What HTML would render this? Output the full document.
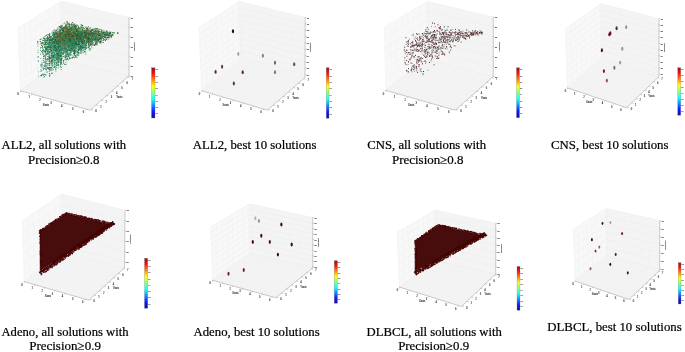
<!DOCTYPE html><html><head><meta charset="utf-8"><title>Figure</title><style>html,body{margin:0;padding:0;background:#fff}svg{display:block}</style></head><body><svg width="685" height="352" viewBox="0 0 685 352"><defs><linearGradient id="jet" x1="0" y1="0" x2="0" y2="1"><stop offset="0" stop-color="#800000"/><stop offset="0.12" stop-color="#ff0000"/><stop offset="0.37" stop-color="#ffff00"/><stop offset="0.5" stop-color="#80ff80"/><stop offset="0.63" stop-color="#00ffff"/><stop offset="0.88" stop-color="#0000ff"/><stop offset="1" stop-color="#000080"/></linearGradient><filter id="bl" x="-5%" y="-5%" width="110%" height="110%"><feGaussianBlur stdDeviation="0.45"/></filter><filter id="bt" x="-5%" y="-5%" width="110%" height="110%"><feGaussianBlur stdDeviation="0.3"/></filter></defs><rect width="685" height="352" fill="#fff"/><g filter="url(#bl)"><g><polygon points="17.6,28.3 61.3,1.2 61.49,59.64 20,90.8" fill="#f8f8f8"/><polygon points="61.3,1.2 129,17.5 129,75.8 61.49,59.64" fill="#f4f4f4"/><polygon points="20,90.8 61.49,59.64 129,75.8 90.1,110.2" fill="#f3f3f3"/><path d="M17.6 28.3L61.3 1.2M61.3 1.2L129 17.5M18 38.72L61.33 10.94M61.33 10.94L129 27.22M18.4 49.13L61.36 20.68M61.36 20.68L129 36.93M18.8 59.55L61.4 30.42M61.4 30.42L129 46.65M19.2 69.97L61.43 40.16M61.43 40.16L129 56.37M19.6 80.38L61.46 49.9M61.46 49.9L129 66.08M20 90.8L61.49 59.64M61.49 59.64L129 75.8" stroke="#ebebeb" stroke-width="0.45" fill="none"/><path d="M20.83 90.18L18.47 27.76M20.83 90.18L90.88 109.51M26.43 85.97L24.37 24.1M26.43 85.97L96.13 104.87M32.03 81.76L30.27 20.44M32.03 81.76L101.38 100.22M37.63 77.56L36.17 16.78M37.63 77.56L106.63 95.58M43.23 73.35L42.07 13.12M43.23 73.35L111.88 90.94M48.84 69.14L47.97 9.47M48.84 69.14L117.14 86.29M54.44 64.94L53.87 5.81M54.44 64.94L122.39 81.65M60.04 60.73L59.77 2.15M60.04 60.73L127.64 77M62.84 59.96L62.65 1.53M21.4 91.19L62.84 59.96M73.3 62.47L73.15 4.05M32.27 94.19L73.3 62.47M83.77 64.97L83.64 6.58M43.13 97.2L83.77 64.97M94.23 67.48L94.13 9.11M54 100.21L94.23 67.48M104.7 69.98L104.63 11.63M64.86 103.22L104.7 69.98M115.16 72.49L115.12 14.16M75.73 106.22L115.16 72.49M125.62 74.99L125.61 16.68M86.59 109.23L125.62 74.99" stroke="#efefef" stroke-width="0.4" fill="none"/><path d="M61.49 59.64L61.3 1.2M61.49 59.64L20 90.8M61.49 59.64L129 75.8" stroke="#ececec" stroke-width="0.5" fill="none"/><path d="M20 90.8L90.1 110.2M90.1 110.2L129 75.8M129 75.8L129 17.5" stroke="#909090" stroke-width="0.45" fill="none"/><path d="M21.4 91.19L20.16 92.12M32.27 94.19L31.04 95.15M43.13 97.2L41.91 98.17M54 100.21L52.79 101.19M64.86 103.22L63.67 104.21M75.73 106.22L74.55 107.24M86.59 109.23L85.42 110.26M90.88 109.51L92.98 110.09M96.13 104.87L98.22 105.43M101.38 100.22L103.46 100.78M106.63 95.58L108.7 96.12M111.88 90.94L113.94 91.46M117.14 86.29L119.18 86.81M122.39 81.65L124.43 82.15M127.64 77L129.67 77.49M129 17.5L130.3 17.75M129 27.22L130.3 27.47M129 36.93L130.3 37.18M129 46.65L130.3 46.9M129 56.37L130.3 56.62M129 66.08L130.3 66.33M129 75.8L130.3 76.05" stroke="#888" stroke-width="0.4" fill="none"/><g font-size="2.6" fill="#3a3a3a" stroke="#3a3a3a" stroke-width="0.11" font-family="Liberation Sans, sans-serif"><text x="17.49" y="95.13">0</text><text x="28.39" y="98.17">1</text><text x="39.29" y="101.22">2</text><text x="50.18" y="104.26">3</text><text x="61.08" y="107.31">4</text><text x="71.97" y="110.35">5</text><text x="82.87" y="113.4">6</text><text x="42.8" y="106.45">Xaxis</text><text x="95.13" y="112.27">0</text><text x="100.36" y="107.6">1</text><text x="105.59" y="102.92">2</text><text x="110.82" y="98.25">3</text><text x="116.05" y="93.58">4</text><text x="121.27" y="88.91">5</text><text x="126.5" y="84.23">6</text><text x="131.73" y="79.56">7</text><text x="116.34" y="98.16">Yaxis</text></g><g font-size="2.0" fill="#444" stroke="#444" stroke-width="0.1" font-family="Liberation Sans, sans-serif"><text x="130.7" y="18.7">90</text><text x="130.7" y="28.42">89</text><text x="130.7" y="38.13">88</text><text x="130.7" y="47.85">87</text><text x="130.7" y="57.57">86</text><text x="130.7" y="67.28">85</text><text x="130.7" y="77">84</text></g><text transform="translate(135.3 46.65) rotate(-90)" font-size="2.3" fill="#555" stroke="#555" stroke-width="0.08" font-family="Liberation Sans, sans-serif" text-anchor="middle">Precision</text><path d="M60.96 35.13h0.92M76.98 29.44h0.92M64.29 43.37h0.92M55.94 45.06h0.92M50.92 39.81h0.92M78.92 52.88h0.92M45.99 42.16h0.92M77.24 31.38h0.92M86.46 32.45h0.92M83.88 34.37h0.92M65.86 45.3h0.92M65.89 47.37h0.92M57.33 37.15h0.92M64.84 34.71h0.92M73.5 45.11h0.92M97.84 34.66h0.92M72.82 42.81h0.92M61.37 29.4h0.92M83.78 36.22h0.92M110.65 36.31h0.92M55.18 46.28h0.92M57.71 48.34h0.92M57.15 36.78h0.92M66.68 50.46h0.92M91.76 39.62h0.92M59.21 33.48h0.92M57.95 36.73h0.92M60.37 50.89h0.92M91.58 35.4h0.92M82.6 31.98h0.92M88.79 28.7h0.92M70.06 34.02h0.92M77.3 34.4h0.92M55.79 39.15h0.92M60.27 64.09h0.92M94.9 42.16h0.92M45.21 53.66h0.92M48.06 47.21h0.92M68.21 31.92h0.92M65.93 54.05h0.92M56.04 47.12h0.92M78.48 49.4h0.92M50.13 45.67h0.92M79.55 38.82h0.92M73.95 43.6h0.92M67.27 37.12h0.92M68.22 36.01h0.92M90.28 36.86h0.92M91.71 41.89h0.92M55.52 53.95h0.92M78.41 45.42h0.92M69.48 35.26h0.92M49.91 37.21h0.92M57.53 34.22h0.92M80.49 46.85h0.92M50.41 47.17h0.92M82.53 46.3h0.92M55.92 44.77h0.92M71.37 39.71h0.92M42.93 68.74h0.92M46.1 42.14h0.92M102.97 36.57h0.92M66.02 38.82h0.92M62.31 37.76h0.92M111.05 35.58h0.92M89.34 38.97h0.92M72.27 35.86h0.92M81.89 39.34h0.92M74.35 33.09h0.92M72.24 42.26h0.92M48.71 37.34h0.92M86.72 37.48h0.92M59.48 36.59h0.92M92.8 36.8h0.92M104.59 36.96h0.92M73.78 37.96h0.92M100.09 37.84h0.92M78.21 54.31h0.92M92.52 44.98h0.92M97.36 30.79h0.92M58.94 52.5h0.92M44.55 64.34h0.92M80.23 35.95h0.92M71.46 46.73h0.92M74.68 38.12h0.92M95.43 41.59h0.92M97.03 38.9h0.92M73.15 40.61h0.92M69.86 45.28h0.92M63.5 40.18h0.92M71.01 37.58h0.92M59.94 35.49h0.92M59.35 44.65h0.92M88.75 43.19h0.92M85.91 43.12h0.92M67.23 38.96h0.92M91.55 41.71h0.92M52.69 50.78h0.92M60.69 63.18h0.92M73.74 42.7h0.92M90.23 38.83h0.92M53.82 62.4h0.92M86.46 34.23h0.92M77.72 37.05h0.92M73.42 28.11h0.92M68.36 48.11h0.92M74.39 41.18h0.92M48.53 39.16h0.92M83.37 37.67h0.92M74.61 39.33h0.92M52.8 58.3h0.92M92.14 37.88h0.92M67.25 47.66h0.92M70.34 32.76h0.92M60.66 59.28h0.92M67.91 31.22h0.92M58.71 55.25h0.92M58.5 53.42h0.92M60.58 46.29h0.92M69.66 41.88h0.92M67.74 42.76h0.92M78.76 28.78h0.92M78.31 27.41h0.92M46.16 46.8h0.92M53.72 55.07h0.92M98.95 33.31h0.92M70.59 48.79h0.92M87.86 35.73h0.92M96.31 38.54h0.92M52.65 34.28h0.92M60.49 44.11h0.92M69.96 48.03h0.92M68.82 57.27h0.92M58.42 26.94h0.92M89.5 39.1h0.92M67.03 22.66h0.92M63.95 34.16h0.92M80.24 41.6h0.92M68.29 47.32h0.92M71.14 30.41h0.92M48.32 40.08h0.92M77.65 38.9h0.92M56.95 38.01h0.92M97.98 32.09h0.92M55.13 47.02h0.92M73.79 34.13h0.92M87.86 34.55h0.92M100.33 40.85h0.92M84.51 37.18h0.92M50.3 49.99h0.92M76.09 44.48h0.92M69.5 28.46h0.92M66.85 31.78h0.92M54.69 30.75h0.92M69.92 41.75h0.92M73.24 51.05h0.92M74.96 40.58h0.92M83.33 36.3h0.92M80.61 53.23h0.92M76.42 34.79h0.92M87.62 37.21h0.92M69.82 35.26h0.92M47.04 38.81h0.92M54.05 54.48h0.92M97.95 32.21h0.92M40.83 38.96h0.92M85.42 44.13h0.92M98.79 31.49h0.92M60.09 64.3h0.92M60.95 36.15h0.92M63.01 60.77h0.92M64.16 40.73h0.92M76.1 43.34h0.92M49.66 51.71h0.92M56.68 43.68h0.92M60.75 42.74h0.92M53.74 41.93h0.92M88.36 29.75h0.92M62.48 47.71h0.92M63.97 41.59h0.92M52.59 49.94h0.92M65.95 47.96h0.92M78.92 28.49h0.92M77.98 33.81h0.92M79.1 40.57h0.92M106.01 35.38h0.92M49.91 49.18h0.92M67.03 41.76h0.92M87.39 38.57h0.92M75.45 27.81h0.92M67.14 30.87h0.92M73.43 47.98h0.92M98.33 35.39h0.92M81.7 33.44h0.92M96.79 34.73h0.92M100.62 33.69h0.92M76.05 34.47h0.92M90.86 29.64h0.92M67.02 30.74h0.92M103.94 35.65h0.92M58.97 44.6h0.92M63.72 39.13h0.92M53.72 42.09h0.92M83.41 33.31h0.92M63.62 27.66h0.92M68.25 34.68h0.92M56.71 61.5h0.92M66.59 31.5h0.92M63.39 41.47h0.92M48.48 46.27h0.92M109.79 33.16h0.92M63.62 31.7h0.92M56.53 60.15h0.92M77.62 44.1h0.92M51.3 40.59h0.92M66.95 38.9h0.92M81.05 39.81h0.92M83.79 38.66h0.92M57.6 56.16h0.92M59.38 34.47h0.92M77.7 37.85h0.92M67.16 36.49h0.92M73.81 54.65h0.92M76.8 33.94h0.92M56.64 47.4h0.92M90.14 42.17h0.92M76.22 31.81h0.92M83.19 31.35h0.92M85.31 34.28h0.92M83.64 30.74h0.92M50.28 58.25h0.92M65.68 41.94h0.92M88.67 39.96h0.92M58.99 56.55h0.92M74.34 40.55h0.92M64.4 40.73h0.92M60.38 48.64h0.92M88.94 34.7h0.92M66.38 39.33h0.92M87.28 38.62h0.92M88.47 31.9h0.92M91.78 33.87h0.92M82.38 43.58h0.92M72.7 32.06h0.92M64.91 57.58h0.92M51.5 60.97h0.92M52.38 35.51h0.92M90.68 37.24h0.92M70.16 51.38h0.92M81.34 45.84h0.92M67.91 35.22h0.92M71.29 44.35h0.92M101.64 35.93h0.92M66.94 50.79h0.92M106.38 33.26h0.92M74.25 43.25h0.92M87.27 42.7h0.92M54.04 35h0.92M67.09 26.57h0.92M78.15 44.47h0.92M44.64 44.01h0.92M65.26 49.24h0.92M65.48 50.99h0.92M67.79 40.66h0.92M73.36 51.16h0.92M77.16 39h0.92M87.81 47.5h0.92M75.94 49.04h0.92" stroke="#3a8c56" stroke-width="0.92" fill="none"/><path d="M59.18 42.36h0.92M54.21 50.91h0.92M66.67 39.09h0.92M66.48 37.67h0.92M62.96 45.34h0.92M71.76 38.95h0.92M80.65 31.95h0.92M71.74 49.37h0.92M112.23 34.77h0.92M93.61 36.46h0.92M60.52 61.01h0.92M60.89 26.56h0.92M69.8 40.47h0.92M77.4 41.1h0.92M45.53 65.52h0.92M86.39 28.21h0.92M78.48 32.17h0.92M80.6 46.68h0.92M68.2 36.74h0.92M64.04 49.84h0.92M51.14 45.99h0.92M64.84 25.98h0.92M92.52 39.16h0.92M74.29 51.3h0.92M60.94 39.51h0.92M61.69 35.13h0.92M71.89 43.75h0.92M81.24 33.09h0.92M91.15 32.37h0.92M49.54 47.76h0.92M68.09 42.93h0.92M63.56 48.16h0.92M63.64 32.58h0.92M69.81 29.92h0.92M67.43 36.37h0.92M43.53 44.52h0.92M55.16 40.36h0.92M48.27 50.76h0.92M47.33 53.46h0.92M54.1 39.75h0.92M77.12 37.1h0.92M81.08 39.91h0.92M59.42 36.55h0.92M71.69 39.66h0.92M47.52 51.19h0.92M76.79 34.9h0.92M58.93 53.91h0.92M91.25 38.34h0.92M109.77 33.08h0.92M70.86 41.34h0.92M55.25 31.33h0.92M99.72 36.94h0.92M113.44 32.81h0.92M55.05 34h0.92M51.04 45.97h0.92M78.13 42.11h0.92M83.8 34.42h0.92M43.67 55.33h0.92M64.96 40.49h0.92M70.45 42.55h0.92M56.16 46.55h0.92M65.71 34.35h0.92M77.54 49.16h0.92M74.92 49.58h0.92M68.22 35.33h0.92M72.6 51.02h0.92M80.95 37.81h0.92M78.93 44.23h0.92M55.33 33.26h0.92M71.42 36.65h0.92M67.82 53.69h0.92M77.33 36.29h0.92M63.41 28.6h0.92M60.41 52.53h0.92M76.77 33.86h0.92M79.52 33.32h0.92M57.88 45.06h0.92M50.23 61.28h0.92M79.56 33.53h0.92M60.7 58.95h0.92M77.47 50.04h0.92M53.43 41.43h0.92M59.44 26.51h0.92M89.86 39.41h0.92M69.72 50.18h0.92M69.49 49.59h0.92M76.61 46.14h0.92M72.13 49.96h0.92M106.06 32.94h0.92M64.65 35.99h0.92M84.97 31.13h0.92M71.77 48.57h0.92M66.73 35.72h0.92M54.07 50.24h0.92M69.6 39.13h0.92M85.73 37.18h0.92M90.64 31.79h0.92M62.92 45.11h0.92M75.62 38.53h0.92M46.99 36.7h0.92M44.71 46.24h0.92M82.6 30.41h0.92M53.62 56.26h0.92M79.26 34.75h0.92M67.72 49.97h0.92M51.83 39.01h0.92M73.7 47.62h0.92M73.07 40.59h0.92M43.44 38.67h0.92M53 38.06h0.92M73.97 31.3h0.92M79.95 37.74h0.92M95.32 32.49h0.92M83.3 43.63h0.92M83.89 36.52h0.92M49.62 36.63h0.92M65.76 38.51h0.92M102.77 40.53h0.92M49.66 38.73h0.92M69.47 49.29h0.92M109.16 31.81h0.92M83.04 37.02h0.92M48.72 71.57h0.92M72.22 41.81h0.92M65.44 47.16h0.92M65.94 36.25h0.92M82.14 34.06h0.92M70.24 40.96h0.92M58.3 67.89h0.92M75.05 34.58h0.92M76.7 44.85h0.92M65.91 25.05h0.92M65.55 34.46h0.92M77.17 38.21h0.92M71.92 36.54h0.92M77.65 39.63h0.92M73.44 40.07h0.92M93.18 36.53h0.92M79.86 40.51h0.92M63.63 35.65h0.92M96.98 38.81h0.92M42.33 52.64h0.92M83.65 31.99h0.92M59.17 55.46h0.92M65.6 48.01h0.92M107.25 35.79h0.92M91.77 36.54h0.92M63.1 42.06h0.92M70.85 26.65h0.92M73.31 47.12h0.92M68.52 40.8h0.92M61.6 50.51h0.92M71.27 25.35h0.92M53.47 50.06h0.92M69.34 41.04h0.92M71.88 50.75h0.92M47.98 67.9h0.92M59.98 39.06h0.92M69.77 45.25h0.92M60.7 36.67h0.92M55.92 36.59h0.92M63.39 39.21h0.92M95.93 35.71h0.92M73.26 49.24h0.92M67.84 37.78h0.92M74.04 33.24h0.92M57.73 48.35h0.92M80.08 40.58h0.92M56.62 38.64h0.92M73.99 52.75h0.92M99.86 41.7h0.92M51.81 56.73h0.92M53.66 45.56h0.92M92.43 38.91h0.92M109.69 33.2h0.92M77.31 41.34h0.92M94.03 44.99h0.92M74.21 57.56h0.92M61.66 40.99h0.92M40.06 50.25h0.92M88.25 42.32h0.92M100.83 34.73h0.92M100.22 35.45h0.92M66.17 47.43h0.92M76.61 37.55h0.92M80.52 49.02h0.92M64.43 38.3h0.92M83.01 42.13h0.92M79.37 36.01h0.92M75.81 50.94h0.92M66.46 54.58h0.92M56.6 56.98h0.92M72.33 24.64h0.92M70.26 44.77h0.92M60.04 45.11h0.92M59.32 32.58h0.92M85.25 32.95h0.92M63.44 34.21h0.92M60.64 55.5h0.92M82.01 47.94h0.92M60.1 37.24h0.92M54.45 42.93h0.92M71.28 30.48h0.92M101.16 39.08h0.92M104.03 37.63h0.92M65.11 40.43h0.92M75.88 36.77h0.92M86.11 42.48h0.92M48.59 48.25h0.92M71.35 44.49h0.92M78.37 28.25h0.92M80.58 33.98h0.92M82.28 33.42h0.92M82.83 42.06h0.92M75.12 39.99h0.92M57.63 40.51h0.92M52.21 41.62h0.92M56.38 44.94h0.92M89.65 48.47h0.92M59.11 31.05h0.92M106.38 31.16h0.92M76.63 37.02h0.92M69.54 43.86h0.92M65.5 28.12h0.92M65.1 47.96h0.92M62.44 49.15h0.92M70.64 25.33h0.92M94.61 39.51h0.92M101.17 38.02h0.92M92.55 40.6h0.92M83.77 36.98h0.92M73.99 35.15h0.92M65.72 49.63h0.92M70.25 40.44h0.92M42.21 50.94h0.92M62 38.72h0.92M48.11 44.34h0.92M54.23 41.24h0.92M63.93 43.52h0.92M66.15 51.43h0.92M98.29 32.34h0.92M93.01 31.84h0.92M71.49 42.48h0.92M56.65 41.53h0.92M78.62 36.63h0.92M93.08 36.36h0.92M37.65 52.63h0.92M57.53 46.82h0.92M83.2 45.91h0.92M79.3 32.67h0.92M52.88 67.72h0.92M68.92 28.02h0.92M88.09 46.83h0.92M81.17 35.92h0.92M61.52 46.97h0.92M75.66 24.86h0.92M65.16 45.2h0.92M59.59 36.52h0.92M65.04 51.54h0.92M93.87 36.23h0.92M75.89 41.98h0.92M68.53 28.56h0.92M72.45 41.08h0.92M60.33 32.51h0.92M42.69 74.11h0.92M98.4 37.24h0.92M104.64 34.52h0.92M106.52 39.68h0.92M63.61 30.33h0.92M65.06 48.52h0.92" stroke="#3a8a6a" stroke-width="0.92" fill="none"/><path d="M98.95 39.57h0.92M65.67 40.12h0.92M60.61 60.94h0.92M64.17 28.24h0.92M55.39 47.71h0.92M76.25 43.52h0.92M89.23 38.1h0.92M57.67 32.76h0.92M94.99 43.97h0.92M63.14 39.65h0.92M70.36 32.62h0.92M50.44 43.07h0.92M84.55 42.78h0.92M66.45 36.49h0.92M100.57 37.02h0.92M53.31 59.28h0.92M72.15 39.5h0.92M77.42 36h0.92M68.37 46.76h0.92M55.3 33.33h0.92M56.56 42.91h0.92M65.16 40.01h0.92M71.3 43.94h0.92M64.56 31.89h0.92M85.08 32.92h0.92M55.63 62.49h0.92M103.6 34.73h0.92M81.58 26.94h0.92M59.15 58.76h0.92M66.54 39.88h0.92M68 34.92h0.92M96.87 34.03h0.92M80.57 51.03h0.92M77.57 36.16h0.92M86.54 28.52h0.92M83.38 33.08h0.92M65.56 36.39h0.92M66.58 32.92h0.92M69.45 47.42h0.92M72.67 42.83h0.92M95.55 29.31h0.92M99.71 37.65h0.92M77.37 31.06h0.92M77.37 41.18h0.92M80 46.85h0.92M62.75 32.46h0.92M84.63 31.79h0.92M76.43 27.93h0.92M79.94 42.9h0.92M49.31 68.62h0.92M56.31 41.94h0.92M74.03 30.23h0.92M61.12 32.63h0.92M74.14 37.14h0.92M64.61 42.93h0.92M92.21 30.44h0.92M91.67 35.43h0.92M60.52 50.62h0.92M112.22 32.67h0.92M80.72 40.82h0.92M65.62 33.1h0.92M109.21 34.01h0.92M99.91 33.42h0.92M52.66 56.9h0.92M66.47 35.51h0.92M79.04 37.36h0.92M72.61 40.5h0.92M56.85 59.21h0.92M70.54 27.95h0.92M47.13 47.33h0.92M56.44 43.28h0.92M62.51 40.37h0.92M62.84 29.24h0.92M63.03 62.99h0.92M76.75 36.73h0.92M101.09 41.98h0.92M62.94 41.24h0.92M88.34 33.05h0.92M53.5 39.14h0.92M61.1 47.88h0.92M58.38 36.69h0.92M60.19 50.1h0.92M85.67 33.17h0.92M73.26 34.23h0.92M102.53 33.36h0.92M51.55 73.23h0.92M101.7 37.99h0.92M75.25 48.26h0.92M90.21 42.23h0.92M44.5 68.49h0.92M58.28 44.14h0.92M81.19 35.09h0.92M86.74 36.3h0.92M55.65 44.35h0.92M82.52 37.27h0.92M93.13 31.98h0.92M59.01 38.33h0.92M110.58 34.3h0.92M73.07 38.61h0.92M72.86 57.37h0.92M77.2 39.01h0.92M74.41 29.28h0.92M75.53 36.89h0.92M98.03 32.97h0.92M65.56 43.18h0.92M94.38 36.63h0.92M78.74 43.63h0.92M70.28 38.48h0.92M75.7 30.57h0.92M58.7 30.15h0.92M49.17 33.62h0.92M81.08 38.85h0.92M95.79 33.69h0.92M88.25 35.51h0.92M69.89 52.11h0.92M53.55 43.01h0.92M89.27 39.6h0.92M69.48 41.53h0.92M75.09 41.98h0.92M51.76 59.65h0.92M60.5 60.2h0.92M76.52 35.36h0.92M66.46 40.01h0.92M51.28 60.58h0.92M95.63 37.88h0.92M80.69 41.91h0.92M87.29 39.77h0.92M68.4 37.16h0.92M42.59 67.81h0.92M75.31 56.68h0.92M78.19 44.04h0.92M49.49 38.97h0.92M59.87 29.34h0.92M54.23 32.1h0.92M76.54 44.52h0.92M67.44 34.3h0.92M84.94 49.39h0.92M59.38 42.28h0.92M62.29 40.99h0.92M73.41 33.08h0.92M67.32 38.09h0.92M57.35 39.46h0.92M67 44.66h0.92M69.47 38.97h0.92M62.36 53.49h0.92M73.03 47.17h0.92M105.81 39.28h0.92M45.31 66.34h0.92M66.24 33.62h0.92M61.98 39.61h0.92M98.31 35.34h0.92M47.06 59.35h0.92M72.22 27.89h0.92M57.91 44.9h0.92M60.09 60.02h0.92M74.84 55.59h0.92M50.58 69.97h0.92M51.67 54.89h0.92M79.41 38.4h0.92M68.63 38.92h0.92M66.43 59.5h0.92M90.19 35.16h0.92M79.39 28.88h0.92M60.23 30.68h0.92M64.18 39.64h0.92M57.98 49.92h0.92M80.62 34.61h0.92M52.29 57.02h0.92M61.44 46.91h0.92M100.16 38.68h0.92M62.9 40.76h0.92M70.47 33.15h0.92M65.55 28.53h0.92M56.36 40.17h0.92M56.59 53.9h0.92M63.55 39.26h0.92M75.16 38.08h0.92M63.57 27.34h0.92M65.13 56.86h0.92M59.15 38.24h0.92M61.8 26.02h0.92M88.53 37.84h0.92M83.41 36.33h0.92M67.48 39.51h0.92M61.5 56.31h0.92M70.05 39.58h0.92M60.31 30.56h0.92M76.61 30.48h0.92M82.15 32.87h0.92M57.92 48.49h0.92M81.99 39.77h0.92M69.91 50.41h0.92M71.82 49.72h0.92M103.72 32.37h0.92M86.14 42.17h0.92M74.23 39.41h0.92M90.07 40.24h0.92M103.91 37.51h0.92M75.21 44.85h0.92M65.9 30.3h0.92M70.52 27.32h0.92M74.96 26.43h0.92M60.02 31.16h0.92M88.77 33.06h0.92M59.67 27.63h0.92M55.23 69.16h0.92M75.83 42.66h0.92M100.59 29.92h0.92M65.51 42.76h0.92M85.45 43.98h0.92M99.72 36.68h0.92M84.24 30.93h0.92M45.51 67.71h0.92M105.99 34.76h0.92M66.43 38.72h0.92M49.49 37.23h0.92M70.95 28.43h0.92M59.84 47.37h0.92M56.7 55.53h0.92M71.74 42.6h0.92M70.78 34.27h0.92M94.87 44.77h0.92M52.67 39.04h0.92M80.37 37.69h0.92M81.96 42.28h0.92M45.05 40.77h0.92M62.3 31.06h0.92M75.3 33.96h0.92M58.38 36.85h0.92M67.87 43.19h0.92M78.1 26.26h0.92M76.67 44.4h0.92M68.01 31.88h0.92M53.69 43.95h0.92M52.84 45h0.92M75.61 42.38h0.92M90.65 37.69h0.92" stroke="#1a5535" stroke-width="0.92" fill="none"/><path d="M58.51 54.75h0.92M83.89 47.66h0.92M46.94 68h0.92M66.7 37.87h0.92M48.96 63.46h0.92M79.34 30.86h0.92M108.46 34.65h0.92M60.29 34.48h0.92M77.42 39.19h0.92M54.09 44.59h0.92M68.83 45.72h0.92M51.67 52.54h0.92M63.12 43.55h0.92M70.82 39.81h0.92M65.23 31.38h0.92M65.44 39.1h0.92M63.94 35.54h0.92M58.22 52.52h0.92M59.17 49.48h0.92M68.24 55.84h0.92M53.16 47.71h0.92M76.37 38.9h0.92M53.95 60.5h0.92M60.53 44.54h0.92M56.5 50.32h0.92M58.16 57.93h0.92M81.14 46.87h0.92M76.64 55.02h0.92M81.38 37.58h0.92M63.89 55.94h0.92M82.38 43.61h0.92M66.81 48.49h0.92M70.21 35.65h0.92M70.71 35.65h0.92M54.32 44.16h0.92M73.98 37.9h0.92M65.73 36.15h0.92M43.89 39.01h0.92M41.06 51.68h0.92M65.75 56.46h0.92M56.86 55.93h0.92M59.61 34.49h0.92M76.27 37.96h0.92M60.58 63.09h0.92M49.71 49.2h0.92M81.4 50.18h0.92M51.28 42.27h0.92M73.72 40.42h0.92M63.11 50.73h0.92M63.13 39.4h0.92M60.41 51.89h0.92M51.94 45.62h0.92M46.27 54.1h0.92M92.63 39.79h0.92M80.42 43.97h0.92M55.58 57.83h0.92M48.71 59.22h0.92M64.71 45.5h0.92M80.14 48.87h0.92M68.4 38.55h0.92M65.01 45.36h0.92M65.47 64.31h0.92M74.05 43.43h0.92M71.55 48.75h0.92M67.12 52.93h0.92M45.24 49.29h0.92M53.34 56.88h0.92M48.38 53.09h0.92M50.85 43.88h0.92M75.92 45.11h0.92M62.08 43.85h0.92M65.55 40.51h0.92M73.18 46.88h0.92M71.3 38.07h0.92M59.13 52.8h0.92M91.55 33.61h0.92M69.52 40.95h0.92M65.36 36.05h0.92M65.36 56.54h0.92M59.52 40.18h0.92M71.2 54.65h0.92M80.72 48.13h0.92M55.78 49.82h0.92M54.27 39.97h0.92M69.29 54.39h0.92M72.21 43.98h0.92M58.3 54.23h0.92M90.85 31.51h0.92M51.06 54.09h0.92M76.14 42.6h0.92M66.2 45.3h0.92M50.26 58.49h0.92M99.83 36.48h0.92M80.65 41.85h0.92M61.39 49.81h0.92M55.8 64.88h0.92M86.36 37.61h0.92M76.61 33h0.92M63.1 36.37h0.92M60.48 47.05h0.92M94.42 34.34h0.92M76.77 50.98h0.92M52.54 34.42h0.92M56.66 49.06h0.92M79.94 47.92h0.92M56.91 57.21h0.92M50.67 55.4h0.92M88.49 31.71h0.92M55.93 55.99h0.92M51.37 62.8h0.92M73.21 51.33h0.92M91.14 46.21h0.92M50.68 44.67h0.92M104.15 32.04h0.92M66.58 42.18h0.92M58.3 51.54h0.92M46.59 68.04h0.92M65 40.15h0.92M84.95 47.05h0.92M81.33 44.58h0.92M67.65 42.84h0.92M70.56 36.66h0.92M65.62 43.03h0.92M58.15 56.2h0.92M56.35 49.98h0.92M85.47 31h0.92M70.69 35.36h0.92M61.54 56.19h0.92M48.4 44.54h0.92M49.15 57.96h0.92M59.22 58.73h0.92M58.3 56.72h0.92M63.04 45.02h0.92M80.86 35.3h0.92M51.45 54.93h0.92M50.19 61.22h0.92M43.26 77.18h0.92M62.35 50.32h0.92M58.01 53.82h0.92M79.14 46.77h0.92M56.81 42.64h0.92M66.72 42.51h0.92M60.3 56.2h0.92M91.19 37.54h0.92M83.09 41.37h0.92M57.08 41.53h0.92M66 43.43h0.92M67.21 46.21h0.92M63.95 39.09h0.92M73.29 38.86h0.92M47.83 59.53h0.92M50.5 40.58h0.92M51.74 70.33h0.92M66.44 59.75h0.92M82.53 42.31h0.92M64.65 51.42h0.92M60.35 56.93h0.92M76.48 37.71h0.92M40.49 69.35h0.92M74.51 41.71h0.92M67.21 43.06h0.92M72.49 39.34h0.92M60.95 39.52h0.92M50.02 46.86h0.92M57.84 50.19h0.92M50.77 61.53h0.92M68.15 55.16h0.92M73.79 46.1h0.92M67.68 41.52h0.92M77.92 34.31h0.92M51.21 39.98h0.92M62.36 46.17h0.92M47.35 51.76h0.92M46.34 59.42h0.92M58.45 42.1h0.92M49.53 39.41h0.92M43.33 56.64h0.92" stroke="#349878" stroke-width="0.92" fill="none"/><path d="M99.64 42.78h0.92M101.3 33.9h0.92M62.63 41.95h0.92M78.91 40.48h0.92M104.98 40.19h0.92M88.74 42.83h0.92M65.92 29.41h0.92M96.44 38.72h0.92M55.07 43.21h0.92M103.08 36.54h0.92M95 37.49h0.92M58.53 43.83h0.92M47.98 68.44h0.92M78.6 44.7h0.92M74.07 44.87h0.92M56.39 30.48h0.92M74.29 42.26h0.92M40.08 47.91h0.92M61.6 32.85h0.92M64.45 30.97h0.92M64.31 39.37h0.92M51.32 56.41h0.92M91.18 38.48h0.92M68.25 42.03h0.92M46 49.1h0.92M75.61 28.73h0.92M78.77 33.22h0.92M74.81 26.12h0.92M57.81 41.25h0.92M71.16 45.11h0.92M80.85 31.19h0.92M94.58 32.07h0.92M88.89 37.04h0.92M107.25 35.46h0.92M108.73 37.87h0.92M77.23 30.59h0.92M63.32 36.27h0.92M92.77 34.83h0.92M87.28 34.75h0.92M47.68 46.11h0.92M51.57 40h0.92M61.72 37.75h0.92M69.12 43.31h0.92M92.6 34.74h0.92M75.68 42.39h0.92M74.64 39.78h0.92M75.18 43.28h0.92M69.85 34.2h0.92M69.26 24.43h0.92M74.65 47.72h0.92M86.7 29.96h0.92M64.91 48.55h0.92M62.37 42.29h0.92M78.98 42.65h0.92M103.18 36.58h0.92M65.72 49.32h0.92M98.67 38.08h0.92M52.46 43.91h0.92M78.08 38.39h0.92M70.64 40.9h0.92M71.6 39.05h0.92M96.85 38.13h0.92M69.61 40.29h0.92M47.4 51.43h0.92M64.07 39.77h0.92M54.04 57.1h0.92M54.94 39.62h0.92M71.56 39.27h0.92M72.35 41.7h0.92M65.75 32.47h0.92M41.99 46.73h0.92M57.83 37.64h0.92M59.62 41.26h0.92M77.24 38.52h0.92M58.5 38.71h0.92M49.26 57.88h0.92M51.04 50.09h0.92M95.6 36.65h0.92M71.98 38.71h0.92M70.84 44.8h0.92M56.45 43.52h0.92M93.13 29.79h0.92M75.04 33.37h0.92M64.77 47.16h0.92M95.95 41.63h0.92M67.4 40.09h0.92M74.18 39.01h0.92M52.39 48.73h0.92M89.43 31.03h0.92M60.46 51.12h0.92M75.5 41.89h0.92M65.64 52.35h0.92M91.65 36.56h0.92M92.08 40.12h0.92M68.5 38.86h0.92M74.11 26.31h0.92M100.82 32.23h0.92M59.67 59h0.92M47.02 40.78h0.92M60.53 27.69h0.92M64.79 43.09h0.92M60.58 52.44h0.92M45.42 51.01h0.92M63.95 36.93h0.92M102.6 40.13h0.92M72.52 28.9h0.92M92.3 33.79h0.92M50.87 53.08h0.92M79.56 37h0.92M42.08 50.62h0.92M51.14 40.81h0.92M99.81 34.84h0.92M87.62 41.55h0.92M90.28 45.06h0.92M92.44 40.58h0.92M78.23 32.22h0.92M48.89 67.31h0.92M60.93 52.66h0.92M70.04 36.11h0.92M72.62 34.9h0.92M48.98 75.98h0.92M49.1 73.6h0.92M48.81 61.18h0.92M109.23 34.13h0.92M48.98 40.13h0.92M57.84 52.98h0.92M64.95 32.7h0.92M71.69 39.65h0.92M52.4 52.87h0.92M46.29 50.67h0.92M71.84 41.19h0.92M77.74 33.25h0.92M61.47 42.91h0.92M73.38 44.22h0.92M61.01 40.36h0.92M71.1 36.11h0.92M69.42 42.62h0.92M72.37 36.45h0.92M64.94 41.82h0.92M59.97 42.33h0.92M88.24 35.63h0.92M84.39 32.57h0.92M63.79 43.32h0.92M78.16 48.17h0.92M81.76 35.51h0.92M82.12 42.1h0.92M37.81 60.99h0.92M73.44 28.87h0.92M53.31 42.77h0.92M53.99 43.93h0.92M67.73 39.6h0.92M117.25 33.13h0.92M37.32 41.64h0.92M63.25 44.67h0.92M69.83 48.66h0.92M70.31 50.52h0.92M61.7 42.16h0.92M84.02 32.59h0.92M49.04 42.42h0.92M45.14 47.3h0.92M49.79 49.49h0.92M43.07 69.18h0.92M59.48 45.55h0.92M91.64 34.41h0.92M88.38 34.86h0.92M73.67 54.63h0.92M93.67 36.21h0.92M75.12 44.08h0.92M46.35 54.01h0.92M68.77 33.14h0.92M87.99 26.9h0.92M79.56 44.96h0.92M76.56 37.5h0.92M88.83 46.05h0.92M71.65 30.51h0.92M79.8 28.37h0.92M66.83 50.1h0.92M61.27 34.65h0.92M65.64 34.12h0.92M65.09 55.17h0.92M68.32 36.18h0.92M81.01 30.9h0.92M111.1 35.61h0.92M76.54 40.18h0.92M70.5 35.14h0.92M81.45 37.25h0.92M96.83 30.18h0.92M92.7 35.86h0.92M63.13 42.23h0.92M74.04 27.06h0.92M84.06 31.89h0.92M70.7 41.17h0.92M69.47 37.75h0.92M61.35 49.79h0.92M64.35 38.6h0.92M60.67 55.38h0.92M65.36 46.25h0.92M65.67 29.83h0.92M85.85 45.44h0.92M72.57 26.59h0.92M72.97 36.28h0.92M87.92 39.75h0.92M93.52 35.93h0.92M70.25 34.76h0.92M73.12 45.18h0.92M63.56 44.31h0.92M66.77 41.8h0.92M59.2 31.12h0.92M82.84 39.38h0.92M55.46 33.16h0.92M76.03 42.92h0.92M49.39 43.61h0.92M59.08 38.06h0.92M74.17 37.92h0.92M59.13 34.28h0.92M73.51 42.63h0.92M63.85 44.18h0.92M71.36 27.63h0.92M52.34 43.91h0.92M49.1 37.54h0.92M49.15 39.48h0.92M51.51 53.37h0.92M94.11 34.1h0.92M90.31 41.33h0.92M48.86 54.8h0.92M71.19 31.86h0.92M55.71 30.41h0.92M64.65 35.12h0.92M57.76 40.09h0.92M59.41 37.28h0.92M75.54 36.34h0.92M51.41 37.95h0.92M80.4 39.52h0.92" stroke="#1d5f3a" stroke-width="0.92" fill="none"/><path d="M58.11 47.19h0.92M91.24 38.43h0.92M104.14 33.49h0.92M86.25 43.03h0.92M67.04 22.79h0.92M56.1 42.12h0.92M96.1 32.45h0.92M68.43 37.58h0.92M103.6 30.83h0.92M77.45 39.58h0.92M84.32 35.37h0.92M47.47 37.61h0.92M74.62 36.81h0.92M70.6 36.86h0.92M37.65 50.2h0.92M79.69 35.57h0.92M75.69 35.44h0.92M58.87 36.95h0.92M81.56 36.93h0.92M57.04 44.39h0.92M89.08 34.93h0.92M84.43 33.64h0.92M71.52 44.83h0.92M85.42 39.91h0.92M73.63 39.16h0.92M86.39 31.2h0.92M113.48 32.84h0.92M102.05 33.07h0.92M75.19 27.76h0.92M62.62 30.68h0.92M61.53 29.07h0.92M89.66 27.98h0.92M79.62 28.62h0.92M66.93 36.97h0.92M88.8 49.09h0.92M87.61 39.51h0.92M67.09 26.73h0.92M87.52 30.54h0.92M86.29 36.89h0.92M66.7 43.65h0.92M72.33 35.2h0.92M57.99 37.32h0.92M86.9 27.56h0.92M63.88 26.82h0.92M69.42 26.62h0.92M74.17 38h0.92M78.22 36.33h0.92M64.2 41.36h0.92M86.41 32.63h0.92M74.52 27.4h0.92M50.32 62.56h0.92M65.22 34.37h0.92M86.03 38.52h0.92M98.91 31.49h0.92M90.07 44.35h0.92M88.41 32.64h0.92M71.07 32.48h0.92M69.47 28.86h0.92M65.1 34.98h0.92M76.3 40.46h0.92M56.02 46.38h0.92M106.44 31.08h0.92M74.89 33.38h0.92M66.73 36.47h0.92M87.87 40.62h0.92M69.91 38.25h0.92M85.49 26.93h0.92M80.58 35.29h0.92M93.44 33.54h0.92M100.33 35.72h0.92M112.07 35.02h0.92M54.95 38.88h0.92M89.74 36.04h0.92M64.43 39.25h0.92M92.72 35.67h0.92M61.56 41.26h0.92M63.27 46.34h0.92" stroke="#90702c" stroke-width="0.92" fill="none"/><path d="M62.51 37.33h0.92M46.59 71.91h0.92M82.3 45.14h0.92M63.06 42.99h0.92M56.52 53.91h0.92M83.56 38.82h0.92M52.19 35.19h0.92M80.27 28.95h0.92M87.8 36.62h0.92M79.37 31.82h0.92M60.62 57.85h0.92M91.52 47.87h0.92M67.64 43.58h0.92M57.47 55.46h0.92M74.73 36.01h0.92M83.01 50.55h0.92M77.67 36.18h0.92M44.6 62.33h0.92M68.15 37.84h0.92M64.05 43.34h0.92M53.69 64.73h0.92M56.66 54.06h0.92M60.77 56.38h0.92M97.5 35.07h0.92M68.42 38.15h0.92M69.27 37.14h0.92M57.16 43.9h0.92M60.42 47.89h0.92M60.16 53.91h0.92M43.95 68.37h0.92M64.69 46.58h0.92M78.23 45.54h0.92M84.51 36.18h0.92M51.72 58.72h0.92M61.49 49.78h0.92M61.9 39.14h0.92M60.87 43.09h0.92M54.28 35.98h0.92M72.25 50.09h0.92M53.98 58.62h0.92M78.22 52.8h0.92M50.53 69.67h0.92M80.35 46.53h0.92M44.93 59.18h0.92M63.81 41.84h0.92M61.84 34.59h0.92M72.95 38.75h0.92M95.84 39.76h0.92M100.33 40.58h0.92M48.6 67.47h0.92M112.13 32.57h0.92M63.91 35.81h0.92M65.12 44.36h0.92M78.67 47.59h0.92M72.28 46.3h0.92M73.31 52.95h0.92M72.73 43.77h0.92M69 54.95h0.92M58.06 59.46h0.92M98.88 35.46h0.92M52.28 56.92h0.92M92.17 36.44h0.92M112.04 34.58h0.92M76.84 52.25h0.92M58.85 36.73h0.92M53.39 57.22h0.92M57.19 50.53h0.92M89.23 33.17h0.92M44.63 44.33h0.92M81.39 50.31h0.92M81.66 39.4h0.92M61.04 50.72h0.92M47.52 44.4h0.92M81.56 43.1h0.92M56.59 52.6h0.92M74.73 36.29h0.92M70.77 46.78h0.92M55.74 58.73h0.92M53.5 60.27h0.92M56.53 38.82h0.92M74.91 40.63h0.92M63.61 39.71h0.92M58.59 37.15h0.92M78.36 41.58h0.92M58.71 57.77h0.92M82.49 46.52h0.92M92.96 34.85h0.92M53.83 52.86h0.92M74.26 53.11h0.92M68.44 45.36h0.92M65.59 43.36h0.92M79.97 47.88h0.92M68.87 47.33h0.92M63.1 42.45h0.92M106.48 37.1h0.92M58.08 50.63h0.92M59.34 36.08h0.92M54.19 59.52h0.92M72.19 49.94h0.92M61.42 47.3h0.92M69.6 40.38h0.92M69.22 43.5h0.92M66.67 39.28h0.92M59.18 55.78h0.92M60.66 69.43h0.92M71.19 50.67h0.92M78.11 36.85h0.92M67.27 44.82h0.92M43.78 61.74h0.92M45.29 44.65h0.92M78.17 32.53h0.92M73.73 49.56h0.92M67.03 36.75h0.92M47.54 53.11h0.92M70.9 41.02h0.92M58.34 40.08h0.92M107.33 37.72h0.92M51.51 61.08h0.92M60.15 39.36h0.92M64.03 35.58h0.92M62.43 32.65h0.92M68.04 56.18h0.92M44.04 66.01h0.92M46.58 60.76h0.92M57.72 53.86h0.92M61.17 61.15h0.92M88.2 41.58h0.92M83.92 41.9h0.92M70.24 44.76h0.92M71.24 43.82h0.92M75.31 32.66h0.92M78.02 47.01h0.92M61.2 59.44h0.92M47.33 49.38h0.92M46.38 65.76h0.92M88.75 45.12h0.92M49.08 75.94h0.92M61.15 59.57h0.92M75.21 35.79h0.92M95.64 39.56h0.92M60.51 41.31h0.92M94.51 34.47h0.92M72.19 48.18h0.92M64.17 43.38h0.92M41.48 70.44h0.92M68.09 45.76h0.92M59.07 52.48h0.92M80.59 41.84h0.92M82.02 46.05h0.92M55.57 46.57h0.92M72 41.52h0.92M81.31 43.1h0.92M81.43 45.98h0.92M52.26 46.54h0.92M41.45 64.31h0.92M50.42 51.19h0.92M53.02 39.4h0.92M50.4 58.52h0.92M55.23 51.6h0.92M55.66 43.36h0.92M57.25 47.04h0.92M65.5 43.43h0.92M51.47 73.29h0.92" stroke="#2f9582" stroke-width="0.92" fill="none"/><path d="M76.37 26.84h0.92M67.43 37.85h0.92M54 34.66h0.92M81.66 32.13h0.92M105.97 39.03h0.92M69.81 49.08h0.92M83.94 35.25h0.92M57.27 27.88h0.92M94.91 38.37h0.92M82.82 32.7h0.92M56.74 60.89h0.92M55.02 39.65h0.92M100.33 36.51h0.92M81.18 37.1h0.92M53.08 35.41h0.92M71.38 43.69h0.92M68.25 34.03h0.92M63.78 40.72h0.92M68.5 50.2h0.92M81.23 36.11h0.92M109.17 33.8h0.92M70.46 30.29h0.92M74.6 41.3h0.92M61.34 25.25h0.92M109.66 35.18h0.92M55.77 34.17h0.92M44.26 55.72h0.92M75.41 27.76h0.92M61.25 33.83h0.92M57.72 50.31h0.92M77.22 44.12h0.92M63.44 32.28h0.92M108.21 39.03h0.92M51.78 62.9h0.92M70.71 37.35h0.92M56.76 37.81h0.92M96.81 35.05h0.92M69.34 42.14h0.92M80.54 37.58h0.92M69.38 24.41h0.92M68.73 24.05h0.92M74.01 42.94h0.92M72.35 41.24h0.92M45.86 42.32h0.92M63.41 41.43h0.92M108.4 37.07h0.92M109.4 33.81h0.92M88.86 39.96h0.92M66.49 35.05h0.92M105.9 37.25h0.92M47.44 42.97h0.92M100.62 31.95h0.92M71.33 44.64h0.92M65.27 27h0.92M81.21 28.07h0.92M53.77 33.66h0.92M108.68 35.65h0.92M86.09 32.23h0.92M84.11 37.69h0.92" stroke="#75752f" stroke-width="0.92" fill="none"/><path d="M73.71 36.38h0.92M84.07 41.9h0.92M73.99 28.68h0.92M51.04 45.9h0.92M44.92 56.83h0.92M109.85 33.16h0.92M97 32.07h0.92M84.14 30.68h0.92M69.2 42.8h0.92M64.59 43.11h0.92M67.31 40.66h0.92M46.14 35.22h0.92M64.22 52.23h0.92M55.96 65.14h0.92M97.97 29.03h0.92M93.38 36.04h0.92M61.46 43.66h0.92M60.1 48.48h0.92M53.11 33.29h0.92M60.07 40.17h0.92M68.72 25.73h0.92M66.67 37.76h0.92M75.39 45.74h0.92M63.06 52.94h0.92M56.64 43.32h0.92M81.33 38.14h0.92M94.04 29.02h0.92M44.01 66.25h0.92M46.71 44.66h0.92M55.83 39.02h0.92M102.62 33.51h0.92M51.61 44.12h0.92M102.48 33.23h0.92M87.27 28.41h0.92M80.58 34.77h0.92M58.17 40.06h0.92M73.49 44.32h0.92M68.7 24.09h0.92M59.74 34.7h0.92M73.79 36.13h0.92M67.85 36.88h0.92M81.24 32.25h0.92M89.5 39.44h0.92M54.06 34.59h0.92M50.54 40.97h0.92M58.03 43.08h0.92M69.62 33.17h0.92M90.73 31.48h0.92M96.33 34.81h0.92M80.32 37.15h0.92M59.22 33.26h0.92M61.39 29.84h0.92M102.13 30.27h0.92M66.62 39.79h0.92M46.15 44.34h0.92M87.83 38.46h0.92M94.12 35.12h0.92M77.41 38.4h0.92M74.91 33.07h0.92M43.81 51.22h0.92M62.61 54.44h0.92M63.2 56.75h0.92M69.11 37.47h0.92M72.71 40.57h0.92M56.81 59.69h0.92M106.37 37.32h0.92M59.08 45.91h0.92M62.13 34.07h0.92M75.21 43.83h0.92M62.13 29.39h0.92M57.17 46.92h0.92M55.61 39.08h0.92M65.2 26.93h0.92M80.72 31.86h0.92M78.57 36h0.92M75.5 33.51h0.92M75.65 43.56h0.92M58.07 50.23h0.92M37.63 56.99h0.92M59.15 29.4h0.92M64.36 34.55h0.92M56.11 40.25h0.92M105.08 32.88h0.92M40.67 75.49h0.92M49.99 44.6h0.92M83.2 43.67h0.92M112.26 34.95h0.92M56.81 29.23h0.92M69.43 36.3h0.92M89.29 33.32h0.92M112.26 34.89h0.92M59.63 44h0.92M55.01 41.45h0.92M77.75 52.42h0.92M46.48 72.27h0.92M67.08 52.75h0.92M101.16 35.86h0.92M83.99 31.75h0.92M59.2 56.39h0.92M67.43 43.63h0.92M74.75 35.81h0.92M76.58 54.79h0.92M97.83 31.3h0.92M60.16 51.66h0.92M72.22 29.61h0.92M46.48 38.35h0.92M43.51 40.46h0.92M50.72 50.91h0.92M61.66 42.07h0.92M44.15 74.23h0.92M72.95 24.91h0.92M90.25 33.23h0.92M65.25 40.63h0.92M98.93 42.3h0.92M83.99 33.79h0.92M82.14 25.56h0.92M74.45 41.22h0.92M71.14 33.23h0.92M73.26 35.11h0.92M97.35 38.19h0.92M61.37 42.93h0.92M74.49 42.52h0.92M50.78 45.96h0.92M72.18 29.21h0.92M98.42 32.52h0.92M65.52 38.85h0.92M80.1 49.94h0.92M70.12 31.41h0.92M61.29 44.37h0.92M60.98 45.95h0.92M54.04 48.03h0.92M44.88 54.39h0.92M71.83 57.92h0.92M65.79 56.48h0.92M100.3 36.4h0.92M67.95 41.55h0.92M59.28 41.38h0.92M63.27 41.37h0.92M61.03 53h0.92M86.31 40.39h0.92M72.59 48.71h0.92M62.96 52.23h0.92M69.67 35.49h0.92M68.26 36.52h0.92M83.05 38.52h0.92M72.9 36.79h0.92M66.13 35.03h0.92M55.07 41.15h0.92M91.66 37.66h0.92M86.54 32.48h0.92M78.67 36.14h0.92M70.22 55.5h0.92M44.78 50.75h0.92M90.14 34.85h0.92M69.3 35.18h0.92M53.89 42.43h0.92M97.86 40.07h0.92M75.2 39.9h0.92M42.08 40.23h0.92M69.68 32.1h0.92M75.58 34.96h0.92M48.46 35.06h0.92M101.2 37.71h0.92M64.67 57.22h0.92M54.89 34.4h0.92M74.2 52.42h0.92M75.23 25.42h0.92M54.27 45.32h0.92M60.64 42.99h0.92M71.23 41.51h0.92M92.59 37.97h0.92M96.3 35.87h0.92M58.36 29.11h0.92M76.72 45.99h0.92M53.61 49.01h0.92M80.91 38.63h0.92M77.08 39.04h0.92M84.44 29.99h0.92M81.41 43.99h0.92M61.12 40.85h0.92M109.8 37.14h0.92M66.97 38.93h0.92M64.13 46.29h0.92M68.76 57.08h0.92M64.9 57.19h0.92M51.1 38.82h0.92M85.46 35.06h0.92M69.95 35.61h0.92M84.1 33h0.92M51.65 55.28h0.92M97.99 39.28h0.92M51.47 59.04h0.92M80.04 48.79h0.92M47.01 34.72h0.92M64.95 41.66h0.92M92.76 28.81h0.92M87.99 45.07h0.92M97.97 36.89h0.92M67.73 53.85h0.92M67.02 39.68h0.92M61.32 29.8h0.92M86.8 32.3h0.92M95.44 34.23h0.92M59.62 43.17h0.92M44.15 76.44h0.92M86.95 34.58h0.92M64.8 46.28h0.92M68.94 43.76h0.92M108.89 35.88h0.92M69.82 35.02h0.92M77.94 33.34h0.92M79.51 39.8h0.92M71.02 48.63h0.92M65.62 41.26h0.92M62.2 46.31h0.92M54.01 46.83h0.92M48.15 44.75h0.92M95.93 35.63h0.92M64.65 57.13h0.92M72.08 41.54h0.92M83.57 46.8h0.92M58.05 48.86h0.92M63.42 45.46h0.92M60.27 42.69h0.92M65.4 49.94h0.92M71.63 33.57h0.92M67.97 45h0.92M61.38 37.97h0.92M81.47 43.72h0.92M56.64 58.43h0.92M71.73 49.51h0.92M61.97 41.95h0.92M57.94 34.47h0.92M55.02 36.77h0.92M79.61 35.51h0.92M51.62 32.91h0.92M80.78 37.95h0.92M64.17 38.92h0.92M84.94 31.08h0.92M79.13 36.34h0.92M77.07 41.67h0.92M75.01 44.31h0.92M46.01 40.32h0.92M62.86 27.43h0.92M90.1 44.29h0.92M89.32 39.54h0.92M85.55 29.23h0.92M77.69 52.16h0.92M54.66 46.51h0.92M79.13 34.18h0.92M75.58 31.18h0.92M81.38 30.18h0.92M65.33 53.93h0.92M67.31 39.29h0.92M72.8 49.22h0.92M67.85 37.54h0.92M76.96 25.09h0.92M53.54 36.45h0.92M97.89 37.99h0.92M94.54 34.1h0.92M90.64 37.35h0.92M78.9 48.37h0.92M62.92 60.88h0.92M80.17 33.09h0.92M63.02 45.17h0.92M49.99 38.23h0.92M75.83 36.73h0.92M79.88 39.35h0.92M66.7 36.95h0.92M53.57 42.53h0.92M67.07 42.33h0.92M64.11 46.9h0.92M62.18 42.03h0.92M95.04 36.61h0.92M68.86 38.39h0.92" stroke="#3a9058" stroke-width="0.92" fill="none"/><path d="M72.38 37.25h0.92M75.27 50.01h0.92M77.99 37.06h0.92M66.23 43.37h0.92M88.75 46.84h0.92M63.3 52.94h0.92M74.51 40.47h0.92M76.39 38.72h0.92M73.71 45.38h0.92M79.41 35.62h0.92M61.76 43.45h0.92M86.91 36.59h0.92M66.82 37.74h0.92M46.33 63.3h0.92M74.85 46.45h0.92M65.45 42.64h0.92M65.49 39.22h0.92M89.29 50.37h0.92M56.18 65.66h0.92M73.28 40.78h0.92M68.05 40.1h0.92M82.04 45.38h0.92M73.89 44.44h0.92M61.01 45.62h0.92M77.48 39.92h0.92M100.75 32h0.92M58.29 46.77h0.92M73.72 47.63h0.92M48.78 65.6h0.92M95.13 38.94h0.92M51.33 57.47h0.92M45.44 43.81h0.92M58.44 40.49h0.92M78.58 41.08h0.92M65.97 38.37h0.92M69.57 41.29h0.92M57.88 45.07h0.92M48.06 42.96h0.92M58.04 41.13h0.92M91.23 44.52h0.92M81.24 39.08h0.92M65.5 49.11h0.92M67.34 46.68h0.92M76.66 34.35h0.92M82.64 37.4h0.92M69.84 54.73h0.92M75.06 31.74h0.92M55.93 54.99h0.92M49.23 75.84h0.92M50.68 67.79h0.92M54.32 66.81h0.92M48.75 57.13h0.92M65.64 52.25h0.92M48.93 58.86h0.92M77.1 41.92h0.92M85.98 38.54h0.92M55.92 47.22h0.92M77.52 39.6h0.92M58.67 60.85h0.92M82.85 43.2h0.92M57.45 57.3h0.92M48.79 59.1h0.92M50.98 49.96h0.92M58.44 39.5h0.92M64.53 36.39h0.92M81.31 42.43h0.92M65.06 51.35h0.92M47.27 48.03h0.92M69.43 47.37h0.92M50.27 49.33h0.92M76.46 36.83h0.92M64.65 39.14h0.92M56.18 65.44h0.92M94.18 33.18h0.92M41.63 74.49h0.92M71.35 44.52h0.92M48.16 53.84h0.92M49.21 61.93h0.92M65.22 44.05h0.92M90.71 31.74h0.92M43.21 50.18h0.92M61.53 52.17h0.92M57.1 49.93h0.92M69.82 48.58h0.92M107.29 35.45h0.92M63.95 51.58h0.92M47.4 58.91h0.92M86.43 42.47h0.92M68.51 52.2h0.92M62.52 45.43h0.92M56.9 59.39h0.92M58.88 52.05h0.92M48.2 47.19h0.92M73.5 47.04h0.92M57.98 59.02h0.92M66.52 49.44h0.92M80.44 46.85h0.92M56.03 38.08h0.92M68.43 54.24h0.92M58.69 49.16h0.92M42.29 52.59h0.92M76.69 54.94h0.92M55.3 47.11h0.92M54.12 66.89h0.92M56.82 59.32h0.92M81.24 47.43h0.92M70.99 32.8h0.92M57.47 38.21h0.92M58.02 54.48h0.92M53.44 47.28h0.92M51.1 54.56h0.92M76 44.89h0.92M65.07 59.67h0.92M73.2 35.27h0.92M67.59 46.73h0.92M58.3 31.9h0.92M65.72 34.25h0.92M43.39 58.53h0.92M61.58 64.35h0.92M49.31 64.18h0.92M67.97 32.89h0.92M74.21 52.19h0.92M71.92 45.17h0.92M62.61 48.47h0.92M45.76 69.83h0.92M95.53 39.6h0.92M63.76 43.27h0.92M54.64 44.04h0.92M66.71 51.93h0.92M40.59 66.98h0.92M62.43 53.25h0.92M101.22 41.1h0.92M57.67 53.44h0.92M43.26 50.06h0.92M60.26 41.58h0.92M68.65 44.99h0.92M75.06 42.78h0.92M59.37 57.72h0.92M59.27 35.64h0.92M78.79 44.37h0.92M87.95 47.35h0.92M59.68 39.53h0.92M62.85 52.63h0.92M67.99 44.89h0.92M72.53 43.4h0.92M67.71 26.48h0.92M61.49 43.41h0.92M50.62 65.89h0.92M73.22 53.51h0.92M49.25 51.83h0.92M60.87 48.68h0.92M47.77 63.94h0.92M71.63 42.26h0.92M57.61 59.43h0.92M86.72 39.11h0.92M54.58 50.76h0.92M87.74 41.71h0.92M90.68 32.36h0.92M73.57 47.49h0.92M79.41 41.66h0.92M66.93 32.85h0.92M56.61 54.03h0.92M45.32 59.43h0.92M49.41 63.96h0.92M43.09 75.21h0.92M99.65 41.74h0.92M54.29 50.24h0.92" stroke="#2c8a72" stroke-width="0.92" fill="none"/><path d="M65.44 25.05h0.92M61.39 33.52h0.92M85.45 27.33h0.92M64.72 47.08h0.92M73.88 49.76h0.92M57.9 37.24h0.92M67.33 51.69h0.92M67.96 38.2h0.92M69.92 35.74h0.92M70.9 24.53h0.92M66.84 38.16h0.92M86.37 36.74h0.92M65.04 51.89h0.92M81.39 31.92h0.92M117.26 32.94h0.92M78.5 45.6h0.92M53.93 48.16h0.92M54.52 39.68h0.92M68.77 40.99h0.92M65.29 37.43h0.92M80.52 47.01h0.92M67.46 23.51h0.92M84.1 31.55h0.92M96.27 34.39h0.92M99.65 41.6h0.92M79.15 40.02h0.92M66.2 31.21h0.92M89.84 34.32h0.92M46.36 49.91h0.92M63.88 32.53h0.92M64.08 48.38h0.92M65.91 27.3h0.92M55.9 57.93h0.92M85.87 41.11h0.92M63.91 42.41h0.92M51.77 68.2h0.92M69.03 47.99h0.92M73.38 34.1h0.92M83.04 41.44h0.92M48.96 42.27h0.92M48.41 39.89h0.92M74.21 45.36h0.92M68.02 37.77h0.92M89.35 35.11h0.92M70.55 30.4h0.92M48.57 42.24h0.92M63.72 44.85h0.92M94.91 44.29h0.92M59.97 36.22h0.92M65.61 39.4h0.92M67.59 35.83h0.92M47.13 50.07h0.92M78.27 28.39h0.92M68.05 23.94h0.92M76.13 31.53h0.92M103.54 32.53h0.92M93.24 35.83h0.92M77.95 38.66h0.92M63.83 49.9h0.92M58.51 46.31h0.92M57.1 41.85h0.92M74.92 30.3h0.92M57.4 36.05h0.92M63.94 38.55h0.92M64.38 35.65h0.92M63.01 46.24h0.92M70.16 46.85h0.92M85.37 38.49h0.92M55.33 37.7h0.92M71.61 44.55h0.92M42.34 43.65h0.92M70.92 42.75h0.92M63.92 45.43h0.92M42.85 37.3h0.92M65.13 57.03h0.92M57.82 64.8h0.92M92.01 35.32h0.92M85.44 54.17h0.92M86.99 37.3h0.92M68.46 37.06h0.92M63.99 46.76h0.92M73.28 44.75h0.92M62.35 42.8h0.92M65.83 23.17h0.92M44.81 63.22h0.92M97.23 38.1h0.92M84.03 31.79h0.92M66.2 40.89h0.92M96.35 33.44h0.92M105.37 34.2h0.92M73.07 35.95h0.92M82.75 32.7h0.92M79.37 35.58h0.92M86.82 33.51h0.92M75.05 45.02h0.92M76.83 40.84h0.92M51.44 42.18h0.92M57.32 59.36h0.92M85.35 42.28h0.92M68.04 49.74h0.92M69.18 49.84h0.92M49.44 63.63h0.92M54.43 47.04h0.92M65.11 36.12h0.92M86.8 42.53h0.92M60.16 55.89h0.92M92.53 44.61h0.92M51.69 61.74h0.92M96.53 44.03h0.92M63.44 38.11h0.92M51.66 33.06h0.92M82.41 38.94h0.92M65.86 27.79h0.92M58.75 34.35h0.92M67.77 36.76h0.92M102.99 32.5h0.92M68.86 29.78h0.92M48.27 56.05h0.92M59.55 34.4h0.92M59.02 54.24h0.92M47.11 38.83h0.92M64.1 39.59h0.92M89.7 30.26h0.92M48.82 69.72h0.92M71.05 42.67h0.92M48.16 53.73h0.92M61.84 36.21h0.92M60.13 64.15h0.92M92.57 31.82h0.92M68.65 39.71h0.92M44.75 52.49h0.92M76.23 46.85h0.92M57.06 46.56h0.92M67.93 24.07h0.92M90.15 30.98h0.92M112.16 34.79h0.92M64.04 41.92h0.92M42.13 42.6h0.92M74.2 36.08h0.92M50.85 53.12h0.92M93.54 35.25h0.92M70.44 51.12h0.92M79.67 28.03h0.92M84.9 36.97h0.92M46.02 50.68h0.92M39.83 39.55h0.92M55.25 50.46h0.92M52.72 38.31h0.92M69.8 35.38h0.92M52.01 40.73h0.92M79.44 30.64h0.92M83.36 31.43h0.92M88.01 33.13h0.92M57.3 41.37h0.92M81.09 37.17h0.92M108.41 36.66h0.92M87.41 38.27h0.92M95.58 34.43h0.92M95.14 28.46h0.92M73.6 43.52h0.92M43.29 38.53h0.92M67.9 29.82h0.92M77.97 42.65h0.92M54.01 53.25h0.92M89.74 34.15h0.92M82.96 47.7h0.92M73.77 46.66h0.92M51.84 65.83h0.92M55.31 50.67h0.92M45.06 42.52h0.92M74.07 44.79h0.92M80.84 42.21h0.92M63.97 44.63h0.92M99.37 35.43h0.92M76.59 32.02h0.92M66.3 31.1h0.92M62.27 42.51h0.92M70.25 46.28h0.92M61.22 38.07h0.92M62.36 38.48h0.92M63.06 56.44h0.92M75.65 33.62h0.92M76.45 31.16h0.92M67.9 43.92h0.92M71.01 38.8h0.92M55.68 43.66h0.92M111.16 35.47h0.92M86.27 37.05h0.92M112.09 35.02h0.92M88.88 33.9h0.92M42.62 54h0.92M87.84 43.59h0.92M61.05 38.97h0.92M46.79 48.91h0.92M92.56 34.54h0.92M61.7 35.12h0.92M78.46 31.58h0.92M55.2 55.7h0.92M80.6 38.98h0.92M66.55 28h0.92M57.74 46.08h0.92M79.27 46.5h0.92M63.5 38.59h0.92M45.69 47.76h0.92M85.42 38.48h0.92M83.04 35.57h0.92M87.74 31.91h0.92M59 45.35h0.92M64.38 32.44h0.92M83.47 42.56h0.92M48.82 65.33h0.92M51.84 65.5h0.92M79.34 31.59h0.92M50.24 36.94h0.92M65.19 42.42h0.92M82.34 32.2h0.92M74.96 41.34h0.92M70.48 39.08h0.92M65.84 47.88h0.92M43.34 50.15h0.92M42.98 68.95h0.92M66.82 43.82h0.92M57.57 54.54h0.92M83.46 28.23h0.92M60.48 48.24h0.92M44.85 36.23h0.92M61.59 47.88h0.92M86.4 33.58h0.92M53.08 50.95h0.92M83.44 38.26h0.92M57.33 50.07h0.92M85.69 44.39h0.92M103.63 32.65h0.92M85.03 34.78h0.92M64.27 27.56h0.92M51.51 47.21h0.92M85.94 41.25h0.92M109.65 32.91h0.92M92 41.92h0.92M99.26 29.42h0.92M58.32 65.64h0.92M47.09 68.13h0.92M69.21 35.91h0.92M49.41 74.81h0.92M106.56 33.03h0.92M94.6 34.06h0.92M65.87 36.42h0.92M102.04 34.25h0.92M84.53 35h0.92M83.11 36.57h0.92M61.38 33.1h0.92M58.1 61.55h0.92M50.03 40.11h0.92M89.13 34.67h0.92M101.06 39.1h0.92M92.64 43h0.92M53.45 39h0.92M82.27 34.32h0.92M58.21 65.55h0.92M39.8 41.4h0.92M86.96 32.66h0.92M107.46 37.31h0.92M106.48 31.18h0.92M56.82 35.58h0.92M60.09 49.3h0.92M62.29 33.33h0.92M68.04 39.79h0.92M64.95 38.53h0.92M51.04 47.86h0.92M41.25 51.68h0.92M74.24 33.13h0.92M68.48 43.73h0.92M54.45 45h0.92M48.09 38.96h0.92M91.36 38.82h0.92M66.75 41.46h0.92M52.38 35.32h0.92M66.13 33.63h0.92M76.08 37.14h0.92M80.92 38.69h0.92M56.24 67.64h0.92M53.13 52.89h0.92M65.18 46.01h0.92M83.03 44.49h0.92M81.67 34.02h0.92" stroke="#2f8048" stroke-width="0.92" fill="none"/><path d="M49.18 41.99h0.92M67.54 33.39h0.92M88.84 46.84h0.92M54.64 42.64h0.92M63.98 32.8h0.92M88.06 32.9h0.92M84.54 33.88h0.92M82.51 37.06h0.92M85.39 32.87h0.92M60.39 54.94h0.92M70.4 42.5h0.92M64.38 43.44h0.92M56.66 29.43h0.92M82.13 29.23h0.92M63.4 40.58h0.92M56.42 44.68h0.92M72.47 41.14h0.92M80.52 38.54h0.92M88.8 45.05h0.92M73.91 31.28h0.92M45.72 49.68h0.92M91.12 42.34h0.92M71.96 37.52h0.92M102.97 38.41h0.92M44.01 36.81h0.92M70.85 49.87h0.92M68.46 45.45h0.92M60.29 41.59h0.92M63.55 38.83h0.92M76.99 38.85h0.92M71.52 48.92h0.92M74.84 43.52h0.92M70.17 35.83h0.92M82.69 30.61h0.92M112.04 32.6h0.92M45.18 40.56h0.92M53.38 38.81h0.92M56.57 36.53h0.92M59.25 61.97h0.92M75.5 41.69h0.92M53.67 63.82h0.92M80.17 27h0.92M65.62 43.05h0.92M72.26 43.06h0.92M55.76 54.14h0.92M62.14 37.81h0.92M59.68 27.55h0.92M45 60.88h0.92M81.95 27.93h0.92M49.97 44.3h0.92M66.82 31.56h0.92M73.32 38.86h0.92M61.51 44.28h0.92M78.2 45.22h0.92M62.24 52.77h0.92M46.36 61.55h0.92M43.16 75.27h0.92M74.65 47.16h0.92M68.21 27.99h0.92M88.62 42.08h0.92M67.18 44.82h0.92M80.14 41.41h0.92M88.66 31.6h0.92M60.32 25.86h0.92M71.88 33.24h0.92M75.78 35.58h0.92M76 36.96h0.92M65.28 47.1h0.92M67.16 50.95h0.92M49.57 70.61h0.92M100.86 31.72h0.92M79.18 38.47h0.92M48.73 52.54h0.92M93.15 31.93h0.92M72.62 40.36h0.92M66.56 30.08h0.92M90.72 39.24h0.92M94.98 34.51h0.92M89.29 35.56h0.92M59.68 52.59h0.92M93.64 40.23h0.92M89.16 32.2h0.92M68.77 34.21h0.92M54.14 62.87h0.92M65.39 64.46h0.92M70.45 52.56h0.92M49.83 46.8h0.92M68.53 26.82h0.92M58.89 36.12h0.92M73.81 45.92h0.92M80.92 33.73h0.92M103.01 34.1h0.92M54.81 41.21h0.92M68.62 34.87h0.92M74.96 34.55h0.92M65.84 27.96h0.92M66.23 43.69h0.92M77.04 39.77h0.92M76.59 34.03h0.92M65.54 39.13h0.92M68.42 43.28h0.92M102.22 35.24h0.92M104.09 35.82h0.92M57.09 47.86h0.92M75.12 41.37h0.92M70.41 51.38h0.92M92.54 37.99h0.92M76.44 47.27h0.92M46.9 41.94h0.92M74.9 39.62h0.92M72.54 37.17h0.92M64.24 37.36h0.92M46.98 37.39h0.92M64.97 59.02h0.92M58.76 39.53h0.92M75.2 38.02h0.92M55.96 40.09h0.92M83.93 47.9h0.92M62.53 42.63h0.92M72.82 50.58h0.92M54.02 44.84h0.92M70.72 43.26h0.92M70.13 32.99h0.92M66.01 40.4h0.92M51.56 42.98h0.92M50.42 42.88h0.92M91.34 38.68h0.92M62.54 44.84h0.92M93.67 35.21h0.92M68.26 29.71h0.92M57.86 53.31h0.92M57.24 38.78h0.92M92.18 37.57h0.92M61.33 41.48h0.92M68.36 33.6h0.92M55.54 49.69h0.92M61.46 28.87h0.92M70.29 44.61h0.92M73.8 41.77h0.92M71.36 41.83h0.92M73.65 34.15h0.92M63.07 52.1h0.92M68.63 30.57h0.92M69.49 53.4h0.92M64.37 33.74h0.92M68.7 32.84h0.92M60.7 58.7h0.92M85.33 52.09h0.92M98.4 35.19h0.92M88.06 44.97h0.92M98.23 36.94h0.92M87.84 29.8h0.92M66.9 54.63h0.92M67.29 53.82h0.92M62.02 36.4h0.92M65.78 54.66h0.92M39.82 43.79h0.92M68.52 31.04h0.92M68.49 23.18h0.92M78.6 31.3h0.92M84.53 40.94h0.92M72.72 50.97h0.92M92.65 34.79h0.92M84.48 41.02h0.92M68.61 37.64h0.92M58 44.66h0.92M55.43 39.49h0.92M102.28 34.16h0.92M52.37 57.94h0.92M47.42 37.97h0.92M88.84 39.27h0.92M70.45 30.84h0.92M65.3 47.81h0.92M56.05 57.23h0.92M87.51 38.68h0.92M105.07 37.04h0.92M61.99 40.98h0.92M108.68 35.88h0.92M94.03 29.05h0.92M77.59 37.02h0.92M60.37 51.01h0.92M96.52 41.71h0.92M67.92 42.83h0.92M78.54 41.14h0.92M56.45 41.73h0.92M65.54 62.32h0.92M65.09 51.96h0.92M80.8 30.09h0.92M70.79 40.22h0.92M54.35 44.58h0.92M55.14 46h0.92M83.02 43.43h0.92M65.49 52.65h0.92M108.45 34.79h0.92M57.49 55.5h0.92M53.84 40.66h0.92M63.22 32.63h0.92M77.69 35.49h0.92M82.35 29.16h0.92M60.7 29.31h0.92M67.94 47.97h0.92M61.6 41.46h0.92M69.75 46.15h0.92M105.61 32.05h0.92M72.33 37.36h0.92M81.42 50.19h0.92M43.84 61.87h0.92M65.34 43.29h0.92M75.31 35.16h0.92M53.92 38.3h0.92M74.25 43.2h0.92M65.44 26.37h0.92M91.62 35.47h0.92M106.01 32.85h0.92M40.45 64.89h0.92M80.69 38.69h0.92M67.87 55.76h0.92M69.26 47.56h0.92M56.54 49.55h0.92M59.46 38.68h0.92M90.1 45.35h0.92M52.74 61.14h0.92M105.17 34.02h0.92M47.64 37.72h0.92M55.94 55.74h0.92M63.45 42.45h0.92M79.02 41.22h0.92M66.91 37.4h0.92M75.85 36.92h0.92M70.99 42.42h0.92M66.6 37.01h0.92M51.23 48.22h0.92M79.73 29.7h0.92M80.21 46.74h0.92M70.49 32.24h0.92M90.76 39.73h0.92M88.26 37.73h0.92M63.46 43.21h0.92M90.68 33.68h0.92M49.17 51.38h0.92M84.03 44.85h0.92M41.41 66.51h0.92M74.21 34.29h0.92M59.94 41.99h0.92M83.68 35.78h0.92M60.36 27.42h0.92M57.79 41.5h0.92M59.98 53.58h0.92" stroke="#439a60" stroke-width="0.92" fill="none"/><path d="M50.54 46.71h0.92M77.07 29h0.92M109.31 33.96h0.92M79.21 39.6h0.92M94.91 36.02h0.92M85.01 46.18h0.92M69.58 32.12h0.92M61.91 41.82h0.92M80.93 49.18h0.92M80 45.75h0.92M92.8 39.04h0.92M73.51 30.99h0.92M54.51 46.95h0.92M56.12 38.03h0.92M44.67 44.2h0.92M64.16 34.55h0.92M97.93 33.98h0.92M98.37 34.1h0.92M54.76 49.23h0.92M80.6 37.65h0.92M66.92 52.97h0.92M48.65 67.52h0.92M74.91 47.84h0.92M57.94 45.34h0.92M69.46 39.95h0.92M86.91 38.58h0.92M107.86 33.74h0.92M88.19 40.01h0.92M83.94 40.42h0.92M73.34 48.34h0.92M91.71 33.68h0.92M74.4 27.49h0.92M57.06 47.92h0.92M84.38 35.37h0.92M47.32 56.53h0.92M75.88 36.36h0.92M102.15 33.17h0.92M55.27 64.24h0.92M41.73 74.55h0.92M73.32 39.55h0.92M73.15 39.86h0.92M72.74 35.7h0.92M72.73 36.98h0.92M66.49 30.39h0.92M62.75 29.79h0.92M93.88 45.29h0.92M91.01 44.4h0.92M51.27 44.38h0.92M95.54 31.39h0.92M63.29 28.32h0.92M77.36 34.86h0.92M85.42 47.88h0.92M66.47 37.16h0.92M81.3 39.79h0.92M70.15 28.99h0.92M60.85 50.45h0.92M64.53 38.35h0.92M61.8 28.15h0.92M57.84 62.78h0.92M53.32 36.64h0.92M71.23 39.31h0.92M96.43 34.95h0.92M42.49 43.38h0.92M72.77 34.84h0.92M48.47 34.77h0.92M79.42 38.19h0.92M96.36 44.98h0.92M74.43 39.51h0.92M65.27 31.61h0.92M61.5 50.61h0.92M81.35 37.62h0.92M93.49 32.28h0.92M94.91 30.63h0.92M87.19 37.54h0.92M53.82 50.34h0.92M68.46 34.35h0.92M47.53 38.59h0.92M80.99 33.69h0.92M81.51 39.93h0.92M92.62 40.79h0.92M58.74 36.31h0.92M45.36 55.25h0.92M69.1 30.95h0.92M42.41 65.69h0.92M76.53 35.46h0.92M76.74 37.98h0.92M80.18 36.81h0.92M69.61 42.27h0.92M62.84 38.99h0.92M84.16 45.95h0.92M84 41.77h0.92M64.43 46.78h0.92M42.15 42.22h0.92M84.88 33.45h0.92M67.87 41.07h0.92M67.39 30.06h0.92M95.61 33.52h0.92M47.04 67.87h0.92M65.48 39.97h0.92M65.31 38.18h0.92M53.02 36.12h0.92M91.65 34.39h0.92M49.18 35.47h0.92M60.29 45.57h0.92M70.96 34.23h0.92M80.48 34.4h0.92M76.83 51.92h0.92M70.93 47.45h0.92M58.53 35.96h0.92M61.59 33.48h0.92M60.97 32.7h0.92M53.25 37.71h0.92M74.29 41.36h0.92M74.22 37.12h0.92M73.35 47.55h0.92M64.94 38.78h0.92M69.24 50.33h0.92M67.09 58.6h0.92M70.72 24.68h0.92M76.11 42.81h0.92M89.25 33.13h0.92M90.7 30.48h0.92M84.61 33.97h0.92M88.07 35h0.92M76.39 25.99h0.92M54.08 44.52h0.92M54.83 37.01h0.92M52.96 55.99h0.92M80.35 46.53h0.92M66.53 30.63h0.92M54.09 44.55h0.92M58.19 47.34h0.92M78.62 46.46h0.92M59.74 32.55h0.92M54.67 49.16h0.92M46.13 54.92h0.92M76.61 46.68h0.92M57.06 43.97h0.92M64.15 47.81h0.92M102.62 31.46h0.92M57.71 51.66h0.92M61.67 39.57h0.92M74.83 35.61h0.92M91.22 38.57h0.92M56.45 34.55h0.92M64.39 31.86h0.92M91.05 37.49h0.92M78.21 30.27h0.92M87.81 35.64h0.92M85.52 31.25h0.92M80.51 38.51h0.92M67.05 38.73h0.92M69.36 58.43h0.92M77.95 34.42h0.92M81.53 33.47h0.92M69.14 40.03h0.92M60.45 25.94h0.92M77.99 32.99h0.92M73.68 37.69h0.92M104.67 34.61h0.92M58.85 36.77h0.92M47.5 45h0.92M43.92 41.14h0.92M109.67 32.84h0.92M82.18 45.27h0.92M60.76 35.76h0.92M68.88 27.82h0.92M86.65 37.55h0.92M57.76 60.62h0.92M52.65 41.32h0.92M59.69 32.45h0.92M45.93 40.29h0.92M74.13 39.93h0.92M100.76 31.98h0.92M70.46 52.66h0.92M69.89 32.55h0.92M64.61 38.36h0.92M66.25 40.49h0.92M46.56 47.04h0.92M60.99 46.09h0.92M67.78 53.84h0.92M74.15 40.11h0.92M53.74 41.8h0.92M60.43 52.57h0.92M67.18 42.11h0.92M53.65 47.05h0.92M53.68 65.81h0.92M52.77 56.88h0.92M105 37.17h0.92M67.69 45.43h0.92M81.96 38.24h0.92M65.91 49.46h0.92M78.09 43.23h0.92M58.91 49.39h0.92M59.81 59.02h0.92M42.02 46.69h0.92M78.06 37.22h0.92M57.38 33.76h0.92M72.03 39.13h0.92M61.03 32.6h0.92M87.81 47.56h0.92M69 40.75h0.92M57.81 41.1h0.92M57.44 34.19h0.92M49.17 45.73h0.92M85.46 40.16h0.92M50.78 68.01h0.92M86.3 45.5h0.92M64.61 35.72h0.92M75.32 32.08h0.92M51.17 47.6h0.92M97.75 39.5h0.92M49.3 58.1h0.92M69.6 50.83h0.92M87.78 30.84h0.92M53.69 48.86h0.92M98.66 34.15h0.92M67.14 50.82h0.92M76.43 46.93h0.92M112.15 34.7h0.92M81.55 40h0.92M87.95 41.01h0.92M62.15 38.19h0.92M72.71 42.65h0.92M72.07 30.55h0.92M52.23 59.94h0.92M72.19 49.89h0.92M68.27 41.38h0.92M56.78 33.56h0.92M52.25 40.32h0.92M55.81 58.15h0.92M66.14 36.16h0.92M79.7 37.32h0.92M71.66 28.64h0.92M65.02 48.45h0.92M43.3 58.32h0.92" stroke="#2a7044" stroke-width="0.92" fill="none"/><path d="M74.18 57.67h0.92M64.99 46.29h0.92M71.57 44.08h0.92M54 54.37h0.92M42.77 60.44h0.92M46.28 50.79h0.92M64.57 45.77h0.92M68.33 49.16h0.92M78.83 40.55h0.92M51.9 64.07h0.92M106.53 37.23h0.92M85.58 39.43h0.92M57.44 65.25h0.92M63.06 50.94h0.92M64.5 53.25h0.92M51.93 66.09h0.92M52.02 51.98h0.92M87.68 40.62h0.92M54.44 35.86h0.92M40.54 71.13h0.92M83.6 49.76h0.92M60.82 46.77h0.92M70.79 36.97h0.92M78.07 46.36h0.92M58 47.53h0.92M59.2 56.38h0.92M69.1 44.39h0.92M65.47 51.39h0.92M73.75 42.47h0.92M74.53 47.64h0.92M49.26 54.81h0.92M49.14 55.9h0.92M93.07 36.04h0.92M57.45 42.87h0.92M65.14 34.97h0.92M60.86 50.05h0.92M62.98 37.79h0.92M54.44 48.57h0.92M56.54 54.13h0.92M54.2 60.34h0.92M61.65 35.2h0.92M75.18 39.6h0.92M81.38 47.83h0.92M60.89 45.95h0.92M74.21 53.22h0.92M65.62 54.75h0.92M47.56 46.94h0.92M63.24 48.4h0.92M45.58 65.59h0.92M53.39 59.18h0.92M78.24 50.59h0.92M48.56 44.43h0.92M79.51 40.88h0.92M75.47 48.82h0.92M61.31 36.23h0.92M65.57 50.25h0.92M54.28 50.05h0.92M93.51 40.47h0.92M65.51 50.22h0.92M72.7 41.16h0.92M51.32 49.55h0.92M65.96 54.23h0.92M81.32 47.29h0.92M71.37 29.34h0.92M57.18 59.25h0.92M66.01 49.23h0.92M69.95 54.36h0.92M40.99 47.46h0.92M43.03 68.66h0.92M83.34 45.63h0.92M72.13 44.2h0.92M58.42 50.58h0.92M89.23 46.35h0.92M72.7 39.73h0.92M74.92 53.04h0.92M45.34 62.24h0.92M41.76 74.72h0.92M79.95 35.87h0.92M57.01 61.62h0.92M74.87 36.36h0.92M57.54 55.4h0.92M67.74 49.73h0.92M91.58 41.69h0.92M48.95 52.07h0.92M65.03 39.9h0.92M74.83 51.77h0.92M50.4 69.92h0.92M66.68 47.79h0.92M83.82 35.75h0.92M54.18 43.72h0.92M64.6 52.78h0.92M70.87 44.25h0.92M53.41 62.3h0.92M53.17 42.33h0.92M71.25 45.71h0.92M67.74 53.62h0.92M68.24 32.28h0.92M80.69 39.11h0.92M67.99 40h0.92M52.15 35.11h0.92M57.34 31.82h0.92M80.83 48.23h0.92M89.22 50.4h0.92M80.21 37.84h0.92M71.9 50.65h0.92M77.51 43.07h0.92M75.12 52.66h0.92M72.34 34.69h0.92M53.51 56.36h0.92M37.96 61.1h0.92M71.32 41.93h0.92M59.23 44.58h0.92M88.17 39.64h0.92M66.71 54.71h0.92M74.71 53.64h0.92M66.62 43.85h0.92M69.53 48.89h0.92M64.73 57.17h0.92M55.33 57.63h0.92M72.59 46.87h0.92M81.02 43.03h0.92M55.18 51.39h0.92M73.31 44.81h0.92M48.69 60.77h0.92M88.84 44.78h0.92M65.19 44.28h0.92M75.82 39.47h0.92M60.72 50.22h0.92M66.5 49.2h0.92M53.58 47.09h0.92M63.64 44.33h0.92M75.32 42.73h0.92M37.36 46.11h0.92M74.06 37.35h0.92M51.85 54.62h0.92M56.85 47.02h0.92M53.87 52.34h0.92M61.66 41.44h0.92M75.36 50.96h0.92M46.7 40.3h0.92M79.46 42.44h0.92M74.54 45.53h0.92M60.05 38.45h0.92M56.41 44.49h0.92M69.42 49.68h0.92M72.47 45.25h0.92M51.63 39.95h0.92M68.79 32.15h0.92M61.04 45.71h0.92M79.64 34.66h0.92M80.44 39.75h0.92M80.59 41.22h0.92M57.43 42.09h0.92M67.65 39.98h0.92M71.62 48.82h0.92M67.82 42.35h0.92M65.07 52.07h0.92M62.8 50.5h0.92M70.74 42.97h0.92M49.1 46.46h0.92M57.59 35.92h0.92M73.52 38.22h0.92M82.43 38.19h0.92M56.25 34.5h0.92M57.14 59.03h0.92M65.46 50.46h0.92M56.42 46.98h0.92M38.17 76.02h0.92M71.43 31.68h0.92M53.32 50.28h0.92M64.79 49.27h0.92M67.71 26.61h0.92M68.76 44.92h0.92M61.37 36.14h0.92M52.87 69.54h0.92M81.59 41.86h0.92M40.57 75.65h0.92M61.61 52.36h0.92M48.72 67.42h0.92" stroke="#40ad98" stroke-width="0.92" fill="none"/><path d="M74.86 35.53h0.92M70.55 34.29h0.92M65.33 39.55h0.92M74.13 53.13h0.92M62.23 50.61h0.92M58.11 57.98h0.92M84.96 47.13h0.92M70.78 49.89h0.92M60.92 48.78h0.92M87 40.47h0.92M73.92 29.08h0.92M70.04 36h0.92M48.23 50.94h0.92M110.58 36.33h0.92M70.25 35.08h0.92M108.7 33.96h0.92M63.3 46.22h0.92M79.49 42.41h0.92M53.62 52.1h0.92M98.36 34.27h0.92M86.76 39.01h0.92M76.63 40.58h0.92M47.01 36.51h0.92M60.08 36h0.92M67.09 51.28h0.92M71.69 28.67h0.92M61.96 32.41h0.92M67.23 42.01h0.92M71.08 38.63h0.92M59.41 34.46h0.92M74.81 50.68h0.92M62.33 37.91h0.92M85.41 29.86h0.92M70.93 39.47h0.92M96.87 38.03h0.92M53.27 37.41h0.92M78.73 46.35h0.92M53.56 52.09h0.92M76.51 42.39h0.92M86.09 42.34h0.92M67.93 41.41h0.92M92.51 43.23h0.92M76.61 36.66h0.92M53.26 32.76h0.92M75.27 31.73h0.92M76.73 32.78h0.92M71.36 50.66h0.92M72.15 26.89h0.92M92.14 33.8h0.92M103.53 33.39h0.92M75.1 39.69h0.92M64.07 38.25h0.92M70.72 46.45h0.92M62.52 40.5h0.92M75.18 36.93h0.92M74.89 29.26h0.92M70.74 36.17h0.92M60.23 40.11h0.92M60.67 35.81h0.92M59.17 45.29h0.92M45.15 40.38h0.92M58.47 42.26h0.92M73.73 36.2h0.92M45.05 40.08h0.92M68.57 26.79h0.92M73.45 46.11h0.92M77.07 29.35h0.92M50.31 40.66h0.92M61.09 53.15h0.92M67.54 30.04h0.92M60.6 49.62h0.92M73.15 24.98h0.92M72.99 29.15h0.92M73.67 37.28h0.92M68.38 54.24h0.92M77.62 41.86h0.92M77.12 35.4h0.92M77.72 41.9h0.92M75.82 29.91h0.92M77.62 44.16h0.92M65.51 29.09h0.92M69.11 40.9h0.92M65.77 40.23h0.92M75.81 33.64h0.92M49.56 45.71h0.92M42.76 60.3h0.92M86.93 40.54h0.92M56.42 52.54h0.92M112.13 34.58h0.92M57.03 48.05h0.92M74.7 40.99h0.92M69.72 52.46h0.92M55.95 42.8h0.92M97.01 35.84h0.92M93.45 35.26h0.92M72.78 37.85h0.92M53.96 49.99h0.92M62.83 32.09h0.92M59.3 40.46h0.92M72.24 45.43h0.92M55.57 42.31h0.92M93.97 34.49h0.92M61.03 50.93h0.92M79.55 30.84h0.92M72.23 29.7h0.92M75.64 33.54h0.92M45.06 44.51h0.92M100.63 29.6h0.92M90.12 49.19h0.92M54.24 40.36h0.92M57.56 31.62h0.92M102.74 36.57h0.92M70.11 30.37h0.92M93.9 38.73h0.92M52.31 55.67h0.92M59.83 27.29h0.92M40.84 43.02h0.92M81.28 38.6h0.92M40.38 58.5h0.92M82.83 52.81h0.92M58.24 33.81h0.92M91.08 40.55h0.92M86.42 36.13h0.92M56.14 44.23h0.92M56.69 49.16h0.92M82.4 44.52h0.92M66.57 47.44h0.92M49.18 60.18h0.92M67.07 37.98h0.92M43.07 43.63h0.92M65.85 32.28h0.92M60.95 32.54h0.92M98.93 37.69h0.92M54.02 44.66h0.92M91.06 36.25h0.92M109.9 35.44h0.92M68.23 49.02h0.92M71.34 35.93h0.92M79.18 38.52h0.92M83.32 38.49h0.92M60.76 41.69h0.92M56.5 37.28h0.92M67.7 41.15h0.92M83.5 33.57h0.92M87.34 34.54h0.92M82.79 28.21h0.92M62.34 47.14h0.92M54.23 61.28h0.92M76.53 55.06h0.92M62.86 56.48h0.92M47.63 42.93h0.92M62.75 34.84h0.92M97.79 34.01h0.92M51.87 63.22h0.92M93.6 35.72h0.92M68.98 41.09h0.92M89.18 36.93h0.92M96.5 34.79h0.92M57.2 65.54h0.92M66.95 56.57h0.92M77.09 35.95h0.92M73.31 38.58h0.92M111.05 35.14h0.92M62.5 42.89h0.92M67.13 30.69h0.92M83.01 35.51h0.92M72.63 33.78h0.92M65.39 26.73h0.92M68.46 33.83h0.92M57.64 46.93h0.92M71.65 57.77h0.92M54.1 63.93h0.92M59 48.94h0.92M71.36 41.92h0.92M73.18 31.14h0.92M69.17 27.75h0.92M72.42 39.22h0.92M66.15 33.53h0.92M58.84 37.09h0.92M80.8 33.04h0.92M75.45 32.71h0.92M75.2 33.66h0.92M58.75 34.97h0.92M79.09 43.37h0.92M96.37 28.71h0.92M55.92 49.41h0.92M73.84 47.84h0.92M93.21 31.79h0.92M57.61 44.02h0.92M56.67 51.51h0.92M78.18 46.26h0.92M45.06 44.4h0.92M59.07 47.16h0.92M61.96 42.62h0.92M72.8 51.39h0.92M54.19 63.44h0.92M71.2 38.27h0.92M97.35 34.96h0.92M71.22 39.26h0.92M46.06 53.29h0.92M67.99 39.29h0.92M41.67 74.69h0.92M44.91 47.47h0.92M85.45 38.02h0.92M69.9 50.36h0.92M67.67 24.91h0.92M73.83 31.82h0.92M45.17 59.8h0.92M95.08 37.33h0.92M100.18 33.79h0.92M96.52 37.58h0.92M69.9 34.45h0.92M61.6 42.14h0.92M53.49 54.34h0.92M83.06 33.31h0.92M79.32 34.77h0.92M74.82 36.46h0.92M62.77 54.36h0.92M67.12 28.44h0.92M55.4 41.42h0.92M92.67 38.86h0.92M65.43 29.04h0.92M49.53 34.33h0.92M75.24 43.84h0.92M73.79 39.46h0.92M80.69 38.87h0.92M85.04 34.17h0.92M87.04 31.64h0.92M73.64 40.49h0.92M68.27 35.43h0.92M70.37 42.97h0.92M102.57 42.44h0.92M48.55 41.13h0.92M64.03 32.56h0.92M64.07 41.72h0.92M100.66 36.96h0.92M46 48.53h0.92M96.02 37.38h0.92M90.89 41.85h0.92M62.99 43.5h0.92M54.17 45.01h0.92M46.89 65.78h0.92M63.94 59.87h0.92M45.62 69.64h0.92M100.09 43.04h0.92M68.18 39.55h0.92M96.53 41.8h0.92M72.73 45.86h0.92M55.6 52.59h0.92M47.67 51.27h0.92M78.4 32.2h0.92M83.19 33.7h0.92M75.3 31.4h0.92M65.17 24.99h0.92M85.43 47.98h0.92M49.18 52.83h0.92M80.53 42.78h0.92M47.02 37h0.92M82.02 33.09h0.92M96.57 28.71h0.92M74.16 31.27h0.92M60.29 40.54h0.92M69.93 27.26h0.92" stroke="#4a9c5a" stroke-width="0.92" fill="none"/><path d="M45.65 63.46h0.92M54.49 42.67h0.92M80.7 34.63h0.92M84.98 33.83h0.92M65.32 40.45h0.92M55.34 60.71h0.92M54.14 41.6h0.92M82.33 47.44h0.92M61.55 39.52h0.92M81.7 36h0.92M66.79 36.49h0.92M93.62 36.96h0.92M76.12 46.88h0.92M81.59 29.2h0.92M51.5 47.08h0.92M62.51 54.42h0.92M50.32 47.97h0.92M62.72 42.05h0.92M68.01 35.29h0.92M84.02 28.58h0.92M81.01 47.08h0.92M62.75 29.54h0.92M109.76 33.04h0.92M61.55 30.95h0.92M56.97 44.3h0.92M55.33 43.64h0.92M59.97 33.84h0.92M57.71 55.16h0.92M84.46 32.79h0.92M69.41 36.83h0.92M71.05 50.79h0.92M76.36 29.33h0.92M62.2 31.02h0.92M44.73 52.51h0.92M84.93 35.01h0.92M52.41 48.82h0.92M78.27 32.25h0.92M89.44 33.16h0.92M75.14 35.71h0.92M70.87 43.58h0.92M64.48 29.61h0.92M77.66 31.82h0.92M51.2 36.24h0.92M50.21 36.98h0.92M66.06 45.83h0.92M65.95 34.9h0.92M90.67 41.18h0.92M61.74 26.2h0.92M75.47 26.74h0.92M109.18 33.92h0.92M44.83 41.08h0.92M90.84 38.66h0.92M73.77 36.68h0.92M57.82 40.77h0.92M71.74 26.81h0.92M60.39 36.65h0.92M54.47 37.55h0.92M63.03 33.41h0.92M90.09 45.17h0.92M77.38 40.99h0.92M68.81 54.84h0.92M47.11 54.19h0.92M84.99 36.53h0.92M99.21 33.6h0.92M78.47 35.99h0.92M86.82 37.07h0.92M62.03 43.99h0.92M70.66 39.03h0.92M66.3 49.8h0.92M57.52 58.42h0.92M39.77 39.39h0.92M58.65 57.43h0.92M98.85 34h0.92M77.01 33.87h0.92M72.02 40.14h0.92M55.15 56.3h0.92M77.69 45.74h0.92M53.82 48.88h0.92M64.92 35.14h0.92M65.95 34.66h0.92M72.02 31.96h0.92M78.26 27.63h0.92M55.76 50.52h0.92M91.71 43.47h0.92M67.54 39.02h0.92M97.35 39.88h0.92M67.07 45.6h0.92M96.29 43.01h0.92M56.82 59.4h0.92M54.85 43.24h0.92M63.12 47.35h0.92M55.78 56.45h0.92M97.44 37.28h0.92M59.45 33.13h0.92M80.63 37.41h0.92M65.7 39.03h0.92M93.07 38.29h0.92M100.57 34.62h0.92M66.97 33.2h0.92M87.74 31.76h0.92M57.55 36.72h0.92M61.41 50.43h0.92M55.1 51.46h0.92M46.18 48.63h0.92M48.5 41.77h0.92M62.65 36.47h0.92M94.37 32.9h0.92M69.94 31.66h0.92M74.55 41.23h0.92M76.57 37.73h0.92M64.7 47.46h0.92M91.14 33.46h0.92M84.92 36.31h0.92M70.83 33.76h0.92M46.38 50.08h0.92M88.6 42.45h0.92M60.43 38.78h0.92M96.53 41.1h0.92M84.96 51.26h0.92M93.08 36.81h0.92M97.01 38.83h0.92M74.21 55.39h0.92M49.56 52.06h0.92M80.05 36.49h0.92M57.4 58.54h0.92M65.95 56.22h0.92M56.01 48.79h0.92M59.37 48.03h0.92M73.17 42.55h0.92M96.41 36.96h0.92M48.12 47.66h0.92M76.67 39.58h0.92M70.46 52.73h0.92M69.66 43.09h0.92M73.48 51.68h0.92M62.34 41.35h0.92M75.63 37.82h0.92M69.63 42.44h0.92M98.69 35.56h0.92M78.22 53.28h0.92M83.48 48.92h0.92M53.24 32.85h0.92M108.22 35.07h0.92M44.99 43.36h0.92M62.84 52.37h0.92M62.76 46.03h0.92M61.53 58.17h0.92M72.17 48.18h0.92M58.6 44.05h0.92M87.87 41.65h0.92M65.36 40.39h0.92M81.19 42.15h0.92M61.54 40.41h0.92M76.71 40.25h0.92M84.06 31.54h0.92M53.93 67.6h0.92M86.5 31.34h0.92M102.67 34.36h0.92M50.19 48.57h0.92M94.6 30.17h0.92M46.47 38.75h0.92M65.61 41.14h0.92M63.1 52.87h0.92M49.75 47.43h0.92M60.73 35.97h0.92M57.76 33.47h0.92M70.32 43h0.92M93.02 33.97h0.92M80.64 48.82h0.92M65.11 44.41h0.92M85 34.76h0.92M58.25 40.69h0.92M80.09 51.84h0.92M49.42 56.38h0.92M54.01 44.81h0.92M82.67 37.61h0.92M78.66 38.22h0.92M54.2 36.75h0.92M65.4 41.97h0.92M80.89 46.09h0.92M82.15 39.39h0.92M66.59 34.55h0.92M67.47 35.26h0.92M87.19 38.42h0.92M45.99 44.4h0.92M79.44 40.15h0.92M66.11 32.94h0.92M72.64 23.96h0.92M78.19 55.42h0.92M65.55 49.14h0.92M88.1 37.63h0.92M54.01 34.73h0.92M62.57 44.79h0.92M69.93 46.57h0.92M84.87 47.13h0.92M74.06 26.62h0.92M51.5 73.48h0.92M56.82 53.73h0.92M67.08 42.28h0.92M65.82 36.51h0.92M80.51 39h0.92M69.18 53.95h0.92M79.97 50.05h0.92M89.64 43.94h0.92M78.73 38.82h0.92M93.07 35.98h0.92M46.01 46.64h0.92M89.4 30.1h0.92M59.03 43.02h0.92M73.85 34.61h0.92M54.41 36.2h0.92M102.66 36.25h0.92M51.02 36.77h0.92M82.57 37.05h0.92M85.44 42.26h0.92M81.64 45.43h0.92M72.41 32.96h0.92M92.58 42.68h0.92M69.89 49.49h0.92M85.39 37.58h0.92M100.86 32.2h0.92M74.73 39.57h0.92M66.76 44.5h0.92M89.2 40.15h0.92M62.79 32.19h0.92M58.12 47.33h0.92M72.94 39.9h0.92M99.63 41.77h0.92M68.97 37.83h0.92M62.87 34.02h0.92M92.44 36.81h0.92M89.77 33.83h0.92M57.5 53.97h0.92M52.19 47.15h0.92M93.46 40.01h0.92M69.42 30.95h0.92M63.55 23.72h0.92M67.01 34.92h0.92M79.04 34.51h0.92M42.63 49.91h0.92M55.49 37.16h0.92M52.78 34.15h0.92M52.08 40.2h0.92M64.71 40.78h0.92M70.34 44.12h0.92M44.46 66.09h0.92M77.2 44.11h0.92M64.9 45.9h0.92M90.89 31.54h0.92M58.73 45.51h0.92" stroke="#348852" stroke-width="0.92" fill="none"/><path d="M78.14 38.43h0.92M58.64 43.21h0.92M94.91 43.45h0.92M44.94 38.95h0.92M66.45 30.81h0.92M63.24 39.85h0.92M88.51 34.11h0.92M70.95 34.05h0.92M76.84 34.74h0.92M75.19 42.7h0.92M67.86 32.73h0.92M70.46 45.94h0.92M47.73 46.12h0.92M50.61 40.36h0.92M72.08 36.07h0.92M72.8 38.74h0.92M75.8 35.36h0.92M52.73 56.69h0.92M86.53 33.55h0.92M62.81 31.46h0.92M55.2 45.48h0.92M75.98 37.69h0.92M97.84 41.42h0.92M66.32 36.67h0.92M60.61 53.96h0.92M90.31 44.36h0.92M76.04 29.67h0.92M92.09 35.49h0.92M76.48 29.01h0.92M66.44 55.67h0.92M107.91 35.45h0.92M88.57 41.01h0.92M77.29 33.14h0.92M67.87 36.31h0.92M78.02 40.22h0.92M60.19 66.31h0.92M64.22 64.3h0.92M68.69 26.33h0.92M86.47 28.7h0.92M80.92 35.14h0.92M81.96 37.33h0.92M88.37 39.64h0.92M78.79 49.82h0.92M96.35 31.45h0.92M93.58 36.28h0.92M104.54 34.9h0.92M60.5 48.91h0.92M87.98 42.94h0.92M60.79 34.81h0.92M67.04 41.81h0.92M82.98 35.77h0.92M80.92 47.03h0.92M117.34 33.07h0.92M91.2 33.96h0.92M75.85 35.36h0.92M94.46 39.34h0.92M75.21 56.63h0.92M78.18 42.83h0.92M106.52 35.15h0.92M58.37 42.08h0.92M71.28 48.66h0.92M83.91 43.41h0.92M106.96 34.54h0.92M54.99 39.94h0.92M58.81 39.63h0.92M83.38 37.54h0.92M74.83 33.55h0.92M48.75 63.37h0.92M60.04 37.42h0.92M82.48 35.17h0.92M62.51 30.41h0.92M87.73 37.51h0.92M44.09 38.74h0.92M61.82 37.54h0.92M92.12 39.56h0.92M69.58 43.21h0.92M60.8 28.69h0.92M59.15 46.38h0.92M86.01 35.3h0.92M55.06 39.68h0.92M98.49 32.04h0.92M73.08 36.29h0.92M67.27 42.85h0.92M55.04 40.73h0.92M81.42 36.57h0.92M58.04 43.9h0.92M54.47 48.13h0.92M68.57 50.1h0.92M64.58 50.91h0.92M47.64 37.88h0.92M77.98 42.1h0.92M55.51 40.12h0.92M78.81 49.61h0.92M48.53 34.77h0.92M77.27 31.19h0.92M108.86 35.73h0.92M96.56 39.79h0.92M67.51 43.66h0.92M58.39 42.09h0.92M104.58 34.51h0.92M74.13 51.02h0.92M80.57 41.02h0.92M52.33 52.9h0.92M65.25 34.41h0.92M56.08 49.07h0.92M60.2 62.04h0.92M67.48 36.63h0.92M53.61 47.61h0.92M44.85 43.05h0.92M57.54 55.45h0.92M54.33 46.66h0.92M83.45 36.1h0.92M53.15 42.23h0.92M70.96 28.45h0.92M84.97 35.16h0.92M48.61 57.03h0.92M49.67 47.78h0.92M81.99 39.98h0.92M56.36 34.54h0.92M85 44.82h0.92M57.73 64.33h0.92M90.35 39.39h0.92M67.56 41.36h0.92M78.03 50.51h0.92M75.3 31.68h0.92M68.73 45.86h0.92M80.8 25.1h0.92M59.78 40.6h0.92M56.84 46.6h0.92M94.21 31.25h0.92M64.84 41.52h0.92M44.1 44.93h0.92M92.14 35.96h0.92M51.61 61.13h0.92M60.85 37.97h0.92M56.46 34.98h0.92M65.39 51.72h0.92M87.21 38.13h0.92M56.95 50.11h0.92M60.3 27.39h0.92M49.08 47.28h0.92M96.6 28.78h0.92M81.63 33.27h0.92M95.5 31.61h0.92M71.42 41.61h0.92M74.78 40.3h0.92M40.65 75.82h0.92M74.16 26.09h0.92M68.91 48.51h0.92M86.94 41.18h0.92M48.44 43.87h0.92M69.48 58.18h0.92M59.62 36.2h0.92M86.92 29.37h0.92M53.15 55.18h0.92M78.24 34.35h0.92M71.68 57.72h0.92M64.65 49.14h0.92M65.35 49.85h0.92M44.16 47.57h0.92M56.57 58.91h0.92M47.13 63.9h0.92M54.11 45.9h0.92M70.81 44.44h0.92M73.7 42.41h0.92M57.64 35.78h0.92M91.03 33.3h0.92M69.5 41h0.92M70.37 40.38h0.92M48.96 45.22h0.92M65.37 37.91h0.92M76.59 44.78h0.92M94.91 38.85h0.92M49.33 39.58h0.92M98 35.33h0.92M104.55 34.76h0.92M51.44 51.01h0.92M68.78 30.21h0.92M80.55 48.64h0.92M94.98 30.72h0.92M75.09 39.88h0.92M105.16 35.82h0.92M51.58 60.73h0.92M74.79 28.53h0.92M62.91 60.75h0.92M53.36 34.78h0.92M44.63 74.47h0.92M78.76 36.31h0.92M42.67 54.14h0.92M97.79 39.97h0.92M65.28 36.65h0.92M40.56 65.25h0.92M71.29 34.22h0.92M82.31 40.9h0.92M85.97 36.15h0.92M66.63 31.44h0.92M55.43 50.53h0.92M71.71 35.57h0.92M66.63 28.03h0.92M56.57 53.93h0.92M88.13 41.62h0.92M49.7 49.64h0.92M65.99 25.03h0.92M66.55 44.41h0.92M69.37 58.59h0.92M98.96 35.46h0.92M91.98 32.73h0.92M84.46 35.51h0.92M67.18 43.66h0.92M91.68 37.94h0.92M62.69 36.63h0.92M88.17 33.63h0.92M67.45 34.65h0.92M49.32 41.87h0.92M49 36.1h0.92M57.18 57.12h0.92M56.64 31.76h0.92M80.75 41.06h0.92M49.62 40.81h0.92M82.06 30.19h0.92M92.22 30.07h0.92M81.65 43.06h0.92M86.52 30.55h0.92M72.16 37.77h0.92M100.11 38.67h0.92M80.61 39.59h0.92M93.66 33.86h0.92M59.66 41.24h0.92M83.95 32.74h0.92M103.51 39.72h0.92M77.16 44.24h0.92M68.43 47.01h0.92M87.79 38.49h0.92M67.32 46.98h0.92M53.69 41.92h0.92M87.33 33.68h0.92M70.4 28.03h0.92M43.32 56.24h0.92M77.03 40.52h0.92M61.52 58.17h0.92M62.71 27.92h0.92M82.08 36.39h0.92M87.62 37.37h0.92M73.33 53.37h0.92M49.01 40.21h0.92" stroke="#1a4a30" stroke-width="0.92" fill="none"/><path d="M102.77 33.02h0.92M72.11 49.95h0.92M62.89 36.21h0.92M76.55 48.67h0.92M79.37 33.94h0.92M53.28 50.19h0.92M54.25 38.04h0.92M68.79 37.91h0.92M69.45 39.75h0.92M45.9 42.48h0.92M77.76 52.4h0.92M69.44 32.8h0.92M76.58 36.23h0.92M87.64 37.6h0.92M98.77 33.9h0.92M82.93 32.38h0.92M69.7 27.28h0.92M48.24 47.35h0.92M59.08 38.94h0.92M102.01 35.35h0.92M93.69 38.45h0.92M60.54 45.71h0.92M73.93 31.45h0.92M50.11 42.65h0.92M65.58 58.44h0.92M80.08 33.84h0.92M85.6 33.27h0.92M54.32 38.07h0.92M65.45 51.88h0.92M51.39 51.32h0.92M55.82 54.67h0.92M98.88 42.46h0.92M78.84 47.82h0.92M84.45 39.78h0.92M59.54 30.64h0.92M73.19 44.03h0.92M53.85 38h0.92M88.68 38.63h0.92M82.79 33.36h0.92M55.97 50.94h0.92M100.69 37.19h0.92M57.26 45.08h0.92M63.96 41.87h0.92M55.55 52.96h0.92M68.66 39.26h0.92M55.37 31.09h0.92M74.61 40.24h0.92M56.32 37.49h0.92M75.42 31.09h0.92M85.08 34.42h0.92M60.06 56.08h0.92M70.94 36h0.92M96.47 44.13h0.92M82.13 37.33h0.92M91.64 39.71h0.92M69.37 41.48h0.92M82.33 27.26h0.92M69.3 33.72h0.92M61.08 54.95h0.92M85.81 40.96h0.92M54.07 40.98h0.92M49.01 35.36h0.92M57.93 48.38h0.92M92.07 38.91h0.92M68.34 44.8h0.92M71.23 45.08h0.92M88.05 42.82h0.92M68.4 31h0.92M65.14 46.62h0.92M78.53 34.3h0.92M55.48 49.89h0.92M60.13 43.61h0.92M75.02 35.32h0.92M62.75 41.95h0.92M66.34 41.53h0.92M82.58 43.14h0.92M70.86 42.72h0.92M41.17 45.4h0.92M69.21 45.67h0.92M68.06 59.85h0.92M55.86 48.8h0.92M72.31 37.2h0.92M74.79 55.7h0.92M56.67 43.64h0.92M64.73 30.74h0.92M48.1 49.42h0.92M88.45 42.34h0.92M82.63 36.39h0.92M67.72 30.85h0.92M46.35 47.88h0.92M69.49 39.8h0.92M37.77 56.87h0.92M74.82 37.6h0.92M55.08 60.69h0.92M78.06 53.16h0.92M65.35 36.01h0.92M92.51 34.4h0.92M70.41 40.65h0.92M58.38 35.95h0.92M85.37 35.37h0.92M84.82 49.18h0.92M64.54 45.62h0.92M83.99 51.87h0.92M85.88 43.14h0.92M72.17 42h0.92M75.03 34.62h0.92M96.36 43.64h0.92M39.95 41.66h0.92M80.91 31.53h0.92M79.64 31.6h0.92M71.42 39.15h0.92M56.9 35.29h0.92M53.7 55.34h0.92M53.36 43.13h0.92M94.86 33.32h0.92M52.56 39.45h0.92M91.58 43.71h0.92M82.35 38.99h0.92M63.21 35.74h0.92M68.3 41.6h0.92M63.85 43.25h0.92M79.55 40.42h0.92M62.4 35.2h0.92M99.79 38.55h0.92M69.21 37.28h0.92M71.7 39.22h0.92M52.15 55.69h0.92M74.09 41.96h0.92M64.2 27.61h0.92M80.89 39.4h0.92M78.31 39.73h0.92M70.63 38.7h0.92M50.49 42.77h0.92M92.13 38.88h0.92M111.17 35.74h0.92M46.45 40.8h0.92M70.23 38.92h0.92M62.92 36.1h0.92M43.45 42.61h0.92M90.8 38.19h0.92M90.62 41.67h0.92M82.92 47.78h0.92M51.44 64.07h0.92M53.2 34.52h0.92M73.88 33.28h0.92M75.63 30.72h0.92M108.39 32.55h0.92M57.2 52.99h0.92M87.72 37.43h0.92M85.67 35.11h0.92M81.43 37.54h0.92M83.36 36.26h0.92M47.29 58.58h0.92M87.83 36.23h0.92M45.81 38.03h0.92M78.49 29.51h0.92M107.27 33.51h0.92M106.39 35.44h0.92M78.61 48.43h0.92M62.83 50.6h0.92M55.23 33.1h0.92M43.36 56.53h0.92M56.66 54.02h0.92M83.55 48.89h0.92M69.3 44.79h0.92M66.77 40.76h0.92M58.74 51.55h0.92M78.15 45.24h0.92M73.31 38.38h0.92M54.38 38.74h0.92M63 36.93h0.92M67.29 46.07h0.92M86.78 34.6h0.92M93.45 32.74h0.92M69.07 38.32h0.92M58.88 45.95h0.92M65.18 46h0.92M74.14 34.63h0.92M56.2 41.89h0.92M59.36 33.42h0.92M66.46 30.73h0.92M60.84 46.97h0.92M50.21 36.99h0.92M65.41 44.14h0.92M61.1 59.4h0.92M75.29 56.57h0.92M73.47 31.98h0.92M59.53 35.26h0.92M52.44 42.13h0.92M91.15 30.31h0.92M71.62 39.27h0.92M67.25 44.22h0.92M48.78 52.63h0.92M68.43 45.67h0.92M68.28 50.26h0.92M58.62 58.55h0.92M58.82 32.16h0.92M55.61 62.35h0.92M58.37 47.02h0.92M56.27 63.51h0.92M64.07 39.35h0.92M62.11 44.14h0.92M86.41 32.5h0.92M59.54 38h0.92M71.88 43.74h0.92M100.64 34.95h0.92M70.92 50.78h0.92M81.57 43.88h0.92M96.55 40.5h0.92M85.01 36.3h0.92M81.71 37.35h0.92M85.25 36.99h0.92M86.3 41.18h0.92M54.24 53.11h0.92M100.19 38.62h0.92M85.33 45.98h0.92M59.71 34.34h0.92M66.86 38.82h0.92M75.26 48.08h0.92M46.03 48.5h0.92M88.34 35.75h0.92M69.9 41.26h0.92M62.35 44.15h0.92M85.12 34.69h0.92M80.25 32.69h0.92M93.13 34.06h0.92M47.16 52.26h0.92M40.91 43.21h0.92M74.7 42.23h0.92M40.07 54.14h0.92M60.3 27.73h0.92M63.7 38.32h0.92M65.63 54.24h0.92M40.95 43.09h0.92M85.8 35.86h0.92M73.57 37.58h0.92M111.21 37.6h0.92M85.9 32.12h0.92M107 32.49h0.92M87.82 42.71h0.92M56.69 36.29h0.92M80.75 31.41h0.92M49.71 48.81h0.92M80.6 48.92h0.92M77.63 31.95h0.92M89.59 33.97h0.92M60.69 62.89h0.92M42.54 45.37h0.92M55.47 41.44h0.92M64.31 34.44h0.92M71.25 36.53h0.92M66.91 36.84h0.92M72.27 36.59h0.92M74.4 38.59h0.92M86.36 47.08h0.92M72.29 41.44h0.92M60 42.25h0.92M58.05 40.78h0.92M96.44 40h0.92M68.47 43.32h0.92M75.85 51.16h0.92" stroke="#2d7d4d" stroke-width="0.92" fill="none"/><path d="M67.73 39h0.92M63.51 36h0.92M72.84 30.01h0.92M50.79 61.55h0.92M60.02 37.46h0.92M66.53 28.1h0.92M66.36 39.67h0.92M79.02 39.32h0.92M95.44 39.71h0.92M58.87 46.35h0.92M80.63 38.95h0.92M104.4 37h0.92M69.16 35.7h0.92M71.75 47.19h0.92M88.67 40.42h0.92M60.11 47.53h0.92M99.13 38.43h0.92M60.03 43.85h0.92M69.18 39.14h0.92M45.37 56.98h0.92M70.26 35.52h0.92M96.86 34.09h0.92M73.94 33.97h0.92M76.04 38.01h0.92M68.4 34.43h0.92M100.27 36.47h0.92M61.71 32.68h0.92M58.68 60.92h0.92M63.23 35.35h0.92M71.93 36.66h0.92M56.18 63.34h0.92M56.73 38.03h0.92M82.55 34.9h0.92M81.37 36.18h0.92M81.93 39.45h0.92M55.07 36.66h0.92M91.06 38.6h0.92M107.83 35.64h0.92M57.17 34.57h0.92M63.66 36.01h0.92M60.74 67.49h0.92M80.9 31.58h0.92M72.97 34.78h0.92M107.29 33.31h0.92M66.54 57.66h0.92M87.98 44.88h0.92M69.54 32.32h0.92M79.21 39.44h0.92M96.57 41.06h0.92M76.15 35.55h0.92M69.06 35.79h0.92M75.4 32.41h0.92M60.1 47.28h0.92M73.66 25.22h0.92M61.83 32.98h0.92M59.96 42.15h0.92M66.48 36.86h0.92M85.97 43.42h0.92M71.39 44.16h0.92M48.8 43.39h0.92M72.4 26.85h0.92M73.04 33.35h0.92M102.63 33.48h0.92M68.7 49.36h0.92M86.54 28.5h0.92M45.38 59.22h0.92M73.48 40.33h0.92M94.88 42.1h0.92M77.75 50.26h0.92M60.81 38.27h0.92M94.56 37.02h0.92M47.37 53.52h0.92M101.11 38.24h0.92M47.28 47.89h0.92M67.22 43.5h0.92M65.12 35.88h0.92M75.03 35.47h0.92M87.7 29.57h0.92M82.95 39.93h0.92M52.62 46.21h0.92M48.34 57.82h0.92M66.84 34.78h0.92M64.95 42.24h0.92M82.13 48.14h0.92M75.54 40.51h0.92M51.64 63.85h0.92M69.09 42.47h0.92M74.05 53.24h0.92M84.01 41.3h0.92M69.97 36.36h0.92M73.06 47.05h0.92M68.01 56.17h0.92M73.04 45h0.92M45.33 64.27h0.92M61.88 30.24h0.92M73.2 31.57h0.92M85.43 34.56h0.92M72.83 36.62h0.92M69.79 31.65h0.92M61.24 42.99h0.92M65.73 48.19h0.92M59.25 55.85h0.92M67.15 58.88h0.92M74.08 35.2h0.92M68.45 40.06h0.92M64.62 48.3h0.92M97.52 33.26h0.92M45.17 58h0.92M45.05 51.38h0.92M99.75 37.71h0.92M56.07 51.05h0.92M45.45 75.07h0.92M70.41 41.23h0.92M96.38 42.55h0.92M61.74 39.22h0.92M72.53 37.11h0.92M77.85 36.06h0.92M55.78 36.5h0.92M85.89 39.53h0.92M59.72 33.59h0.92M56.37 48.12h0.92M87.93 40.41h0.92M71.26 35.85h0.92M47.49 46.81h0.92M92.19 29.61h0.92M46.46 42.94h0.92M71.92 45.04h0.92M63.87 45.32h0.92M84.94 45h0.92M58.16 54.52h0.92M98.23 30.37h0.92M98.79 38.45h0.92M95.08 33.52h0.92M84.54 37.98h0.92M55.9 42.24h0.92M64.76 44.62h0.92M63.69 34.34h0.92M79.93 47.63h0.92M78.14 42.16h0.92M66.74 37.1h0.92M113.63 32.72h0.92M66.22 40.77h0.92M76.31 36.84h0.92M89.28 38.15h0.92M75.24 35.75h0.92M80.02 35.75h0.92M94.56 35.34h0.92M54.76 32.62h0.92M77.29 33h0.92M43.51 40.57h0.92M74.59 51.32h0.92M66.67 29.54h0.92M100.36 38.85h0.92M85.9 41.24h0.92M71.71 46.83h0.92M103.68 39.43h0.92M73.36 35.83h0.92M65.63 30.44h0.92M60.5 46.09h0.92M97.94 40.43h0.92M85.46 36.62h0.92M57.64 36.11h0.92M63.51 43.19h0.92M63.56 33.63h0.92M77.52 28.32h0.92M72.08 39.01h0.92M52.53 39.73h0.92M74.88 35.14h0.92M72.01 30.65h0.92M82.43 39.68h0.92M74.24 32.23h0.92M85.91 48.31h0.92M85.75 48.31h0.92M84.97 35.83h0.92M85.78 30.74h0.92M81.46 49.94h0.92M44.53 46.46h0.92M77.11 33.39h0.92M53.1 39.55h0.92M67.17 40.11h0.92M80.79 24.96h0.92M58.04 41.28h0.92M78.01 33.1h0.92M79.5 38.24h0.92M82.19 36.32h0.92M87.23 37.73h0.92M61.48 31.01h0.92M55.03 48.12h0.92M69.33 32.31h0.92M81.52 35.66h0.92M50.19 47.78h0.92M82.9 43.5h0.92M74.35 39.42h0.92M51.59 37.41h0.92M85.35 31.97h0.92M58.18 47.91h0.92M49.82 42.94h0.92M65.97 39.74h0.92M66.41 38.86h0.92M81.01 40.1h0.92M58.28 35.99h0.92M68.73 29.15h0.92M72.68 25.85h0.92M88.77 39.93h0.92M74.96 25.56h0.92M73.06 32.02h0.92M76.17 37.82h0.92M57.4 43.61h0.92M84.07 33.88h0.92M71.4 29.47h0.92M82.34 29.68h0.92M94.13 31.83h0.92M54.78 35.13h0.92M84.44 34.65h0.92M50.24 46.12h0.92M76.05 36.16h0.92M47.32 47.14h0.92M105.48 31.95h0.92M75.01 42.57h0.92M97.77 33.99h0.92M85.5 33.97h0.92M102.14 36.06h0.92M57.71 40.2h0.92M58.87 50.16h0.92M70.65 40.39h0.92M57.43 41.38h0.92M77.48 35.69h0.92M59.89 43.21h0.92M83.23 37.86h0.92M73.82 32.19h0.92M85.87 33.3h0.92M88.67 38.68h0.92M64.45 43.49h0.92M63.82 37.7h0.92" stroke="#256a48" stroke-width="0.92" fill="none"/><path d="M87.41 36.48h0.92M82.09 47.75h0.92M57.42 55.36h0.92M53.31 32.66h0.92M79.96 45.67h0.92M81.07 33.82h0.92M53.33 57.28h0.92M60.09 34.38h0.92M68.65 38.5h0.92M67.19 35.47h0.92M76.84 36.88h0.92M90.24 32.05h0.92M55.17 66.85h0.92M89.8 34.22h0.92M99.79 38.42h0.92M67.07 32.43h0.92M99.26 39.59h0.92M54.19 33.94h0.92M101.13 31.05h0.92M73.23 42.01h0.92M69.18 43.73h0.92M99.91 35.33h0.92M94.98 40.4h0.92M71.7 45.41h0.92M73.87 50.57h0.92M58.97 36.14h0.92M46.82 39.37h0.92M84.68 36.05h0.92M65.42 26.68h0.92M57.81 62.53h0.92M69.23 24.84h0.92M85.85 35.9h0.92M45.12 51.64h0.92M37.31 42.2h0.92M87.94 36.98h0.92M67.88 45.78h0.92M60.46 54.99h0.92M45.23 49.31h0.92M72.27 32.84h0.92M76.56 57.31h0.92M76.58 38.15h0.92M49.44 58.27h0.92M74.14 24.11h0.92M48.65 61.24h0.92M53.95 46.01h0.92M53.46 41.65h0.92M76.04 39.49h0.92M90.34 31.22h0.92M80.93 27.14h0.92M79.14 44.45h0.92M63.27 48.73h0.92M52.01 38.83h0.92M59.28 26.56h0.92M80.92 34.65h0.92M79.67 33.37h0.92M69.72 34.72h0.92M57.07 44.44h0.92M79.17 35.31h0.92M53.44 43.55h0.92M76.57 38.63h0.92M52.47 50.16h0.92M76.14 31.47h0.92M82.82 40.06h0.92M61.81 28.1h0.92M73.41 32.83h0.92M78.46 47.33h0.92M56.11 33.11h0.92M104 36.01h0.92M75.01 42.94h0.92M74.83 29.24h0.92M103.53 32.76h0.92M90.1 44.13h0.92M104.9 40.25h0.92M87.92 42.34h0.92M84.63 35.84h0.92M82.36 41.51h0.92M74.71 33.39h0.92M80.04 37.64h0.92M78.56 34.07h0.92M58.4 46.77h0.92M59.96 33.91h0.92M82.06 42.2h0.92M82.12 25.42h0.92M80.87 33.38h0.92M88.7 38.55h0.92M98.67 31.41h0.92M73.56 46.25h0.92M71.81 43.73h0.92M75.92 44h0.92M87.62 39.41h0.92M53.14 45.85h0.92M83.84 47.37h0.92M73.75 39.72h0.92M85.38 37.82h0.92M62.77 30.04h0.92M56.44 41.54h0.92M64.41 43.61h0.92M78.25 44.35h0.92M91.27 30.52h0.92M107.32 37.61h0.92M58.08 48.7h0.92M43.64 51.19h0.92M70.27 37.41h0.92M110.73 36.51h0.92M81.99 32.08h0.92M45.25 48.58h0.92M90.06 34.89h0.92M69.88 34.84h0.92M55.38 57.76h0.92M68.47 29.42h0.92M72.75 43.36h0.92M74.34 45.53h0.92M65.56 34.4h0.92M54.11 55h0.92M69.37 34.42h0.92M81.85 42.03h0.92M41.42 64.12h0.92M57.55 34.44h0.92M50.69 55.55h0.92M57.76 62.39h0.92M76.04 41.8h0.92M50.87 39.5h0.92M79.64 33.3h0.92M68.03 33.44h0.92M59.1 50.85h0.92M48.79 69.38h0.92M56.39 32.48h0.92M61.51 48.92h0.92M94.14 45.27h0.92M56.63 51.71h0.92M76.2 39.43h0.92M66.52 34.09h0.92M68.07 30.25h0.92M72.17 22.59h0.92M72.37 46.97h0.92M90.81 36.45h0.92M78.7 46.62h0.92M80.1 38.86h0.92M50.31 67.57h0.92M107.26 37.54h0.92M55.82 42.7h0.92M81.46 31.89h0.92M83.55 40.41h0.92M88.3 36.78h0.92M60.22 56.34h0.92M65.69 36.29h0.92M106.02 35.11h0.92M75.27 43.73h0.92M91.15 33.46h0.92M56.97 53.33h0.92M57.54 57.66h0.92M89.39 35.06h0.92M68.28 39.73h0.92M68.95 34.56h0.92M60.47 59.28h0.92M71.81 35.62h0.92M91.6 29.45h0.92M52.05 43.08h0.92M91.51 41.39h0.92M94.57 37.39h0.92M45.67 69.38h0.92M59 39.1h0.92M102.2 37.39h0.92M57.97 34.95h0.92M65.02 36.73h0.92M52.51 41.6h0.92M72.68 38.25h0.92M90.33 41.18h0.92M67.28 49.86h0.92M79.99 35.79h0.92M80.48 53.08h0.92M66.57 29.41h0.92M79.06 41.65h0.92M99.83 41.74h0.92M58.05 55.87h0.92M63.94 28.71h0.92M68.49 31.87h0.92M97.8 40.74h0.92M73.84 47.93h0.92M66.89 28.6h0.92M59.16 50.48h0.92M75.97 34.91h0.92M63.44 30.79h0.92M65.03 26.05h0.92M71.52 36.49h0.92M59.95 40.9h0.92M61.9 39.16h0.92M69.47 31.72h0.92M94.14 39.18h0.92M75.02 34.65h0.92M93.42 33.97h0.92M50.73 57.67h0.92M63.91 40.65h0.92M65.61 28.75h0.92M70 38.2h0.92M61.9 39.04h0.92M76.68 44.66h0.92M69.76 29.3h0.92M72.94 27.92h0.92M56.68 58.98h0.92M46.69 40.54h0.92M69.2 39.17h0.92M109.82 32.77h0.92M108.9 33.79h0.92M77.47 30.22h0.92M77.47 51.98h0.92M51.16 50.26h0.92M84.26 37.8h0.92M98.49 36.03h0.92M81.58 51.97h0.92M56.54 37.04h0.92M68.76 33.58h0.92M64.67 34.87h0.92M86.88 29.28h0.92M72.96 32.09h0.92M67.58 37.93h0.92M105.15 38.05h0.92M78.59 49.21h0.92M75.47 43.68h0.92M77.1 35.56h0.92M71.25 29.99h0.92M71.18 28.18h0.92M77.21 36.82h0.92M74.18 52.39h0.92M75.15 35.24h0.92M85.41 34.25h0.92M55.82 36.59h0.92M62.49 40.56h0.92M64.43 27.83h0.92M70.98 38.53h0.92M75.94 26.07h0.92M74.1 36.52h0.92M57.54 40.66h0.92M96.49 43.05h0.92M96.35 36.79h0.92M83.96 51.59h0.92M91.26 32.67h0.92M69.62 40.5h0.92M66.11 41.87h0.92M77.03 36.54h0.92M62.53 49.17h0.92M60.66 62.96h0.92M72.88 38.14h0.92M105.34 33.93h0.92M70.25 48.2h0.92M84.49 32.45h0.92" stroke="#184a30" stroke-width="0.92" fill="none"/><path d="M52.3 31.12h0.92M81 31.67h0.92M100.14 42.97h0.92M73.79 36.85h0.92M65.46 26.18h0.92M72.36 26.67h0.92M69.12 27.78h0.92M77.84 27.12h0.92M64.59 37.78h0.92M89.8 33.95h0.92M66.7 30.05h0.92M61.37 49.97h0.92M89.21 41.89h0.92M58.7 40.18h0.92M86.88 34.47h0.92M72.14 24.83h0.92M86.8 29.54h0.92M71.69 30.81h0.92M76.58 30.31h0.92M71.24 50.23h0.92M86.56 30.73h0.92M88.76 42.17h0.92M79.38 35.08h0.92M50.82 44.02h0.92M37.54 44.05h0.92M61.01 35.01h0.92M78.66 31.12h0.92M77.14 33.64h0.92M60.6 35.89h0.92M56.58 58.02h0.92M68.9 25.91h0.92M55.26 54.49h0.92M62.02 34.84h0.92M67.96 30.49h0.92M43.33 40.27h0.92M102.5 38.52h0.92M104.99 32.97h0.92M76.03 36.5h0.92M101.15 32.82h0.92M106.35 35.49h0.92M57.63 42.57h0.92M54.37 35.9h0.92M63.68 39.3h0.92M73.64 32.67h0.92M53.2 30.78h0.92M83.41 35.64h0.92M103.21 36.41h0.92M77.43 36.2h0.92M68.81 32.74h0.92M103.04 38.33h0.92M57.33 39.21h0.92M65.23 27.5h0.92M88.15 36.67h0.92M64.12 38.95h0.92M75.24 38.1h0.92M65.96 52.36h0.92M112.18 34.64h0.92M63.87 28.93h0.92" stroke="#7f6a2a" stroke-width="0.92" fill="none"/><path d="M53.57 62.49h0.92M77.98 46.07h0.92M64.99 55.53h0.92M55.76 58.03h0.92M76.7 52.12h0.92M52.83 51.97h0.92M91.55 39.72h0.92M67.85 43.45h0.92M85.4 46.45h0.92M76.62 40.51h0.92M59.65 50.65h0.92M86.53 37.28h0.92M53.79 59.99h0.92M61.67 47.73h0.92M60.42 52.08h0.92M63.19 62.85h0.92M48.64 37.34h0.92M40.56 71.14h0.92M66.27 51.62h0.92M66.84 39.45h0.92M57.56 52.7h0.92M69.23 48.36h0.92M65.39 52.53h0.92M55.84 57.79h0.92M62.73 50.58h0.92M79.15 46.68h0.92M74.31 55.66h0.92M45.62 51.96h0.92M75.15 32.09h0.92M72.79 47.32h0.92M83.88 44.79h0.92M69.32 43.4h0.92M57.76 62.23h0.92M108.33 34.83h0.92M41.27 62.23h0.92M69.57 44.01h0.92M57.62 64.58h0.92M72.85 56.8h0.92M65.45 33.01h0.92M45.97 44.61h0.92M51.63 42.28h0.92M59 52.42h0.92M74.59 39.88h0.92M87.2 35.38h0.92M52.82 36.09h0.92M48.73 50.02h0.92M84.91 43.32h0.92M64.3 42.63h0.92M55.83 57.99h0.92M67.15 47h0.92M57.06 52.19h0.92M74.76 48.38h0.92M72.16 50.09h0.92M69.59 53.48h0.92M91.56 37.55h0.92M93.56 36.32h0.92M78.53 47.45h0.92M72.76 38.13h0.92M75.31 56.72h0.92M66.85 40.63h0.92M69.52 48.73h0.92M55.64 54.51h0.92M71.28 44.45h0.92M48.08 40.21h0.92M65.02 49.31h0.92M75.91 41.85h0.92M49.17 55.04h0.92M38.02 71.89h0.92M69.75 33.61h0.92M82.05 32.06h0.92M67.33 44.72h0.92M75.15 38.47h0.92M42.28 48.5h0.92M50.29 52.98h0.92M68.61 49.54h0.92M57.33 58.33h0.92M105.09 36.85h0.92M53.71 57.36h0.92M82.71 34.57h0.92M66.88 52.21h0.92M71.91 55.9h0.92M72.98 42.31h0.92M103.59 35.39h0.92M47.59 53.47h0.92M60.35 52.57h0.92M66.68 37.86h0.92M60.97 36.78h0.92M57.61 48.72h0.92M92.34 40.1h0.92M68.74 46.3h0.92M60.61 56.9h0.92M70.52 46.76h0.92M90.61 38.33h0.92M45.25 61.87h0.92M71.37 41.22h0.92M50.26 59.15h0.92M59.83 60.89h0.92M75.38 40.36h0.92M79.88 43.74h0.92M65.38 43.45h0.92M60.67 61.22h0.92M85.92 42.07h0.92M89.21 35.71h0.92M54.11 66.67h0.92M88.77 44.33h0.92M67.11 35.48h0.92M70.82 38.61h0.92M65.63 29.99h0.92M67.31 43.48h0.92M54.12 57.48h0.92M60.22 43.58h0.92M65.07 51.34h0.92M65.32 42.19h0.92M47.18 38.82h0.92M68.65 54.33h0.92M67.65 42.07h0.92M45.27 50.86h0.92M60.57 61.03h0.92M65.12 46.11h0.92M49.29 43.73h0.92M54.02 39.53h0.92M51.01 63.69h0.92M66.06 47.42h0.92M68.48 54.06h0.92M59.16 53.74h0.92M45.4 66.34h0.92M43.82 66.26h0.92M74.92 31.33h0.92M91.31 36.75h0.92M82.04 36.69h0.92M53.07 37.39h0.92M57.41 46.24h0.92M60.37 52.07h0.92M72.21 39.23h0.92M64.02 45.16h0.92M53.72 46.01h0.92M73.93 43.52h0.92M42.89 62.43h0.92M55.27 59.93h0.92M79.17 48.64h0.92M67.6 39.77h0.92M52.45 50.78h0.92M92.61 37.88h0.92M51.71 54.75h0.92M74.83 34.37h0.92M60.38 47.96h0.92M74.55 39.86h0.92M79.45 33.24h0.92M55.4 71.13h0.92M55.36 69.22h0.92M72.33 46.58h0.92M61.35 39.58h0.92M63.39 46.22h0.92M80.89 50.4h0.92M88.63 48.26h0.92M74.77 45.75h0.92M51.29 56.58h0.92M65.5 47.69h0.92M53.97 44.41h0.92M52.07 44.25h0.92M54.3 38.35h0.92M48.22 51.63h0.92M57.39 57.57h0.92M48.18 44.14h0.92M66.25 40.94h0.92M65.38 45.3h0.92M80.58 49.11h0.92M68.9 45.17h0.92M65.68 27.99h0.92M57.59 55.45h0.92M47.7 59.5h0.92M81.91 40.15h0.92M99.88 37.49h0.92M57.22 50.69h0.92M52.37 48.62h0.92M83.52 30.07h0.92" stroke="#35a08a" stroke-width="0.92" fill="none"/><path d="M58.03 34.51h0.92M54.28 29.81h0.92M74.83 45.01h0.92M99.28 34.46h0.92M72.38 45.37h0.92M89.68 36.9h0.92M81.27 42.27h0.92M94.64 35.11h0.92M99.67 33.72h0.92M97.24 39.86h0.92M83.8 36.44h0.92M65.98 36.51h0.92M96.48 38.5h0.92M75.65 26.63h0.92M66.52 37.18h0.92M51 41.61h0.92M70.28 33.26h0.92M76.74 53.13h0.92M71.87 39.63h0.92M63.94 37.62h0.92M92.15 29.9h0.92M93.17 32.69h0.92M57.85 39.62h0.92M67.78 38.5h0.92M65.92 41.51h0.92M50.42 67.84h0.92M61.02 33.59h0.92M93.64 38.41h0.92M50.08 57.24h0.92M84.08 30.92h0.92M63.47 35.91h0.92M101.53 31.92h0.92M69.4 38.58h0.92M71.43 34.35h0.92M79.28 40.47h0.92M58.46 41.78h0.92M42.54 47.64h0.92M89.29 35.67h0.92M52.21 41.69h0.92M102.17 32.59h0.92M87.88 32.77h0.92M69 45.83h0.92M84.43 35.65h0.92M111.23 35.72h0.92M54.7 41.16h0.92M81.98 30.2h0.92M71.86 30.51h0.92M82.42 37.13h0.92M82.34 36.16h0.92M62.77 41.06h0.92M70.97 38.43h0.92M76.76 37.45h0.92M106.37 35.34h0.92M92.65 39.1h0.92M71.17 23.32h0.92M56.16 37.75h0.92M52.36 44h0.92M60.04 39.94h0.92M64.64 33.85h0.92M72.33 37.97h0.92M76.79 32.39h0.92" stroke="#6b6b2b" stroke-width="0.92" fill="none"/><path d="M63.74 46h0.92M90.69 32.22h0.92M55.56 38.2h0.92M71.62 43.22h0.92M71.82 39.31h0.92M88.25 31.95h0.92M70.61 27.52h0.92M84.31 30.55h0.92M65.9 29.85h0.92M73.4 47.35h0.92M61.52 38.95h0.92M69.46 34.84h0.92M45.97 35.5h0.92M97.87 36.04h0.92M56.09 51.4h0.92M53.27 37.31h0.92M96.51 33.09h0.92M90.64 41.33h0.92M90.79 43.2h0.92M110.63 32.19h0.92M44.61 44.06h0.92M85.44 33.39h0.92M59.66 34.87h0.92M88.65 35.51h0.92M92.53 45.16h0.92M69.41 35.82h0.92M66.6 21.62h0.92M54.81 37.68h0.92M86.97 30.39h0.92M50.11 51.05h0.92M64.61 28.6h0.92M59.32 40.27h0.92M62.31 38.08h0.92M50.36 36.33h0.92M73.72 25.56h0.92M59.74 40.46h0.92M47.07 43.67h0.92M65.84 27.66h0.92M88.38 42.36h0.92M62.63 44.18h0.92M59.6 36.41h0.92M83.21 35.45h0.92M78.61 34.72h0.92M96.94 31.78h0.92M71.07 28.44h0.92M66.55 40.17h0.92M65.96 29.96h0.92M85.53 31.12h0.92M75.41 26.75h0.92M73.33 34.89h0.92M91.54 37.78h0.92M66.87 54.22h0.92M82.29 41.05h0.92M62.07 45.02h0.92M91.26 37.45h0.92M61.33 29h0.92M68.14 32.01h0.92M74.61 25.55h0.92M88.81 33.06h0.92M73.26 31.06h0.92" stroke="#96582a" stroke-width="0.92" fill="none"/><path d="M95.81 30.36h0.92M91.47 35.11h0.92M69.94 32.16h0.92M86.82 41.3h0.92M106.99 34.4h0.92M78.86 28.1h0.92M49.2 51.86h0.92M58.78 39.01h0.92M49.45 45.56h0.92M93.98 33.26h0.92M68.36 44.72h0.92M81.46 36.22h0.92M66.53 21.4h0.92M62.61 50.64h0.92M89.28 33.01h0.92M64.54 42.71h0.92M78.91 35.26h0.92M75.05 29.86h0.92M64.39 22.98h0.92M85.41 37.88h0.92M55.4 38.08h0.92M71.53 34.52h0.92M58.51 38.22h0.92M81.07 38.02h0.92M69.82 37.24h0.92M68.2 32.56h0.92M65.21 33.89h0.92M91.28 31.06h0.92M59.14 52.43h0.92M93.99 41.04h0.92M51.27 58.69h0.92M58.18 32h0.92M56.54 40.1h0.92M67.42 37.94h0.92M64.13 33.35h0.92M65 40.95h0.92M66.49 30.16h0.92M66.05 44.3h0.92M59.44 32.32h0.92M75.32 36.14h0.92M74.26 35.78h0.92M86.47 36.17h0.92M71.79 37.41h0.92M90.88 31.32h0.92M69.48 28.13h0.92M96.55 35.67h0.92M71.77 37.83h0.92M74.82 47.64h0.92M83.23 45.91h0.92M96.58 29.11h0.92M56.22 58.92h0.92M87.42 32.45h0.92M45.9 35.43h0.92M64.27 35.86h0.92M67.7 37h0.92M80.15 36.8h0.92M98.71 40.24h0.92M111.22 35.41h0.92M106.54 31.38h0.92M66.08 29.43h0.92" stroke="#8a642a" stroke-width="0.92" fill="none"/><path d="M55.53 34.84h0.92M87.99 35.94h0.92M58.39 36.13h0.92M102.29 36.38h0.92M73.56 35.65h0.92M79.69 33.71h0.92M70.27 37.88h0.92M92.24 39.71h0.92M70.13 35.89h0.92M91.74 35.62h0.92M71.7 37.44h0.92M102.68 42.54h0.92M95.49 31.7h0.92M111.25 35.69h0.92M64.31 45.89h0.92M94.08 33.53h0.92M91.33 36.75h0.92M56.53 59.02h0.92M117.23 33.22h0.92M45.16 45.12h0.92M81.07 35.72h0.92M69.19 31.1h0.92M73.54 35.62h0.92M86.91 36.44h0.92M53.4 49.07h0.92M53.44 37.29h0.92M65.89 32.48h0.92M44.58 42.13h0.92M49.42 39.43h0.92M78.31 31.27h0.92M83.16 27.43h0.92M70.57 35.76h0.92M80.14 41.33h0.92M59.31 31.28h0.92M87.89 41.24h0.92M57.08 44.65h0.92M40.9 45.08h0.92M62.9 48.06h0.92M66.92 24.76h0.92M54.09 38.91h0.92M70.18 35.72h0.92M97.86 33.36h0.92M70.58 38.26h0.92M102.97 36.24h0.92M89.92 27.98h0.92M56.78 36.4h0.92M62.48 40.84h0.92M97.77 38.06h0.92M45.05 51.8h0.92M85.46 35.98h0.92M85.38 37.98h0.92M80.82 32.9h0.92M63.59 32.33h0.92M67.13 33.27h0.92M87.94 44.59h0.92M72.46 50.79h0.92M75.95 39.89h0.92M81.68 39.42h0.92M62.82 52.93h0.92M85.74 37.35h0.92M73.82 25.32h0.92M47.61 38.05h0.92M51.52 44.98h0.92M71.93 41.49h0.92M66.74 33.64h0.92M52.66 41.31h0.92M49.19 43.8h0.92M47.29 38.5h0.92" stroke="#5f6a2a" stroke-width="0.92" fill="none"/><rect x="151.5" y="67.75" width="3.5" height="50.25" fill="url(#jet)" stroke="#666" stroke-width="0.25" opacity="0.93"/><g font-size="1.9" fill="#555" stroke="#555" stroke-width="0.07" font-family="Liberation Sans, sans-serif"><text x="155.6" y="70.43">88</text><text x="155.6" y="76.72">87</text><text x="155.6" y="83">86</text><text x="155.6" y="89.28">85</text><text x="155.6" y="95.56">84</text><text x="155.6" y="101.84">83</text><text x="155.6" y="108.12">82</text><text x="155.6" y="114.4">81</text></g></g><g><polygon points="198.5,28 239.4,1.5 240.37,59.79 201.2,90.7" fill="#f8f8f8"/><polygon points="239.4,1.5 305.2,17.3 305,77.5 240.37,59.79" fill="#f4f4f4"/><polygon points="201.2,90.7 240.37,59.79 305,77.5 267.4,110.2" fill="#f3f3f3"/><path d="M198.5 28L239.4 1.5M239.4 1.5L305.2 17.3M198.78 34.62L239.5 7.65M239.5 7.65L305.18 23.65M199.07 41.24L239.6 13.81M239.6 13.81L305.16 30.01M199.36 47.86L239.71 19.96M239.71 19.96L305.14 36.36M199.64 54.47L239.81 26.11M239.81 26.11L305.12 42.72M199.93 61.09L239.91 32.27M239.91 32.27L305.09 49.07M200.21 67.71L240.01 38.42M240.01 38.42L305.07 55.43M200.5 74.33L240.12 44.57M240.12 44.57L305.05 61.78M200.78 80.95L240.22 50.73M240.22 50.73L305.03 68.14M201.06 87.56L240.32 56.88M240.32 56.88L305.01 74.49" stroke="#ebebeb" stroke-width="0.45" fill="none"/><path d="M201.98 90.08L199.32 27.47M201.98 90.08L268.15 109.55M207.27 85.91L204.84 23.89M207.27 85.91L273.23 105.13M212.56 81.74L210.36 20.31M212.56 81.74L278.3 100.72M217.85 77.56L215.88 16.74M217.85 77.56L283.38 96.3M223.13 73.39L221.4 13.16M223.13 73.39L288.46 91.89M228.42 69.22L226.93 9.58M228.42 69.22L293.53 87.47M233.71 65.05L232.45 6M233.71 65.05L298.61 83.06M239 60.87L237.97 2.43M239 60.87L303.68 78.64M241.66 60.15L240.72 1.82M202.52 91.09L241.66 60.15M251.68 62.89L250.91 4.26M212.78 94.11L251.68 62.89M261.7 65.64L261.11 6.71M223.05 97.13L261.7 65.64M271.72 68.38L271.31 9.16M233.31 100.16L271.72 68.38M281.73 71.13L281.51 11.61M243.57 103.18L281.73 71.13M291.75 73.87L291.71 14.06M253.83 106.2L291.75 73.87M301.77 76.61L301.91 16.51M264.09 109.23L301.77 76.61" stroke="#efefef" stroke-width="0.4" fill="none"/><path d="M240.37 59.79L239.4 1.5M240.37 59.79L201.2 90.7M240.37 59.79L305 77.5" stroke="#ececec" stroke-width="0.5" fill="none"/><path d="M201.2 90.7L267.4 110.2M267.4 110.2L305 77.5M305 77.5L305.2 17.3" stroke="#909090" stroke-width="0.45" fill="none"/><path d="M202.52 91.09L201.35 92.02M212.78 94.11L211.62 95.05M223.05 97.13L221.89 98.08M233.31 100.16L232.15 101.11M243.57 103.18L242.42 104.14M253.83 106.2L252.69 107.17M264.09 109.23L262.96 110.2M268.15 109.55L270.14 110.13M273.23 105.13L275.21 105.71M278.3 100.72L280.28 101.29M283.38 96.3L285.35 96.86M288.46 91.89L290.42 92.44M293.53 87.47L295.49 88.02M298.61 83.06L300.55 83.6M303.68 78.64L305.62 79.18M305.2 17.3L306.5 17.55M305.18 23.65L306.48 23.9M305.16 30.01L306.46 30.26M305.14 36.36L306.44 36.61M305.12 42.72L306.42 42.97M305.09 49.07L306.39 49.32M305.07 55.43L306.37 55.68M305.05 61.78L306.35 62.03M305.03 68.14L306.33 68.39M305.01 74.49L306.31 74.74" stroke="#888" stroke-width="0.4" fill="none"/><g font-size="2.6" fill="#3a3a3a" stroke="#3a3a3a" stroke-width="0.11" font-family="Liberation Sans, sans-serif"><text x="198.79" y="95.01">0</text><text x="209.07" y="98.05">1</text><text x="219.35" y="101.1">2</text><text x="229.63" y="104.14">3</text><text x="239.91" y="107.18">4</text><text x="250.18" y="110.23">5</text><text x="260.46" y="113.27">6</text><text x="222.5" y="106.25">Xaxis</text><text x="272.15" y="112.31">0</text><text x="277.22" y="107.88">1</text><text x="282.28" y="103.45">2</text><text x="287.34" y="99.02">3</text><text x="292.4" y="94.59">4</text><text x="297.46" y="90.16">5</text><text x="302.53" y="85.73">6</text><text x="307.59" y="81.3">7</text><text x="292.58" y="99.06">Yaxis</text></g><g font-size="2.0" fill="#444" stroke="#444" stroke-width="0.1" font-family="Liberation Sans, sans-serif"><text x="306.9" y="18.5">90</text><text x="306.88" y="24.85">89</text><text x="306.86" y="31.21">88</text><text x="306.84" y="37.56">87</text><text x="306.82" y="43.92">86</text><text x="306.79" y="50.27">85</text><text x="306.77" y="56.63">84</text><text x="306.75" y="62.98">83</text><text x="306.73" y="69.34">82</text><text x="306.71" y="75.69">81</text></g><text transform="translate(311.4 47.4) rotate(-90)" font-size="2.3" fill="#555" stroke="#555" stroke-width="0.08" font-family="Liberation Sans, sans-serif" text-anchor="middle">Precision</text><ellipse cx="233" cy="31.2" rx="1.08" ry="1.95" fill="#3c060d"/><ellipse cx="238.3" cy="53.9" rx="1.08" ry="1.95" fill="#a89e9e"/><ellipse cx="262.9" cy="55.7" rx="1.08" ry="1.95" fill="#8e7e7e"/><ellipse cx="275" cy="62.8" rx="1.08" ry="1.95" fill="#786060"/><ellipse cx="294.2" cy="64.2" rx="1.08" ry="1.95" fill="#684c4c"/><ellipse cx="222.1" cy="66.7" rx="1.08" ry="1.95" fill="#683c3c"/><ellipse cx="215.6" cy="71.9" rx="1.08" ry="1.95" fill="#582c2c"/><ellipse cx="242.7" cy="72.3" rx="1.08" ry="1.95" fill="#582c2c"/><ellipse cx="275" cy="72.3" rx="1.08" ry="1.95" fill="#8c7878"/><ellipse cx="233.8" cy="83.5" rx="1.08" ry="1.95" fill="#603636"/><rect x="326.25" y="67.75" width="2.75" height="50.5" fill="url(#jet)" stroke="#666" stroke-width="0.25" opacity="0.93"/><g font-size="1.9" fill="#555" stroke="#555" stroke-width="0.07" font-family="Liberation Sans, sans-serif"><text x="329.6" y="70.44">88</text><text x="329.6" y="76.76">87</text><text x="329.6" y="83.07">86</text><text x="329.6" y="89.38">85</text><text x="329.6" y="95.69">84</text><text x="329.6" y="102.01">83</text><text x="329.6" y="108.32">82</text><text x="329.6" y="114.63">81</text></g></g><g><polygon points="384,27.4 427,1.4 426.82,59.4 385.25,90.25" fill="#f8f8f8"/><polygon points="427,1.4 493.25,17 493.25,76.5 426.82,59.4" fill="#f4f4f4"/><polygon points="385.25,90.25 426.82,59.4 493.25,76.5 455.25,110.25" fill="#f3f3f3"/><path d="M384 27.4L427 1.4M427 1.4L493.25 17M384.21 37.87L426.97 11.07M426.97 11.07L493.25 26.92M384.42 48.35L426.94 20.73M426.94 20.73L493.25 36.83M384.62 58.83L426.91 30.4M426.91 30.4L493.25 46.75M384.83 69.3L426.88 40.07M426.88 40.07L493.25 56.67M385.04 79.78L426.85 49.73M426.85 49.73L493.25 66.58M385.25 90.25L426.82 59.4M426.82 59.4L493.25 76.5" stroke="#ebebeb" stroke-width="0.45" fill="none"/><path d="M386.08 89.63L384.86 26.88M386.08 89.63L456.01 109.58M391.69 85.47L390.67 23.37M391.69 85.47L461.14 105.02M397.31 81.3L396.47 19.86M397.31 81.3L466.27 100.46M402.92 77.14L402.27 16.35M402.92 77.14L471.4 95.91M408.53 72.97L408.08 12.84M408.53 72.97L476.53 91.35M414.14 68.81L413.88 9.33M414.14 68.81L481.66 86.79M419.75 64.64L419.69 5.82M419.75 64.64L486.79 82.24M425.37 60.48L425.5 2.31M425.37 60.48L491.92 77.68M428.15 59.74L428.32 1.71M386.65 90.65L428.15 59.74M438.45 62.39L438.59 4.13M397.5 93.75L438.45 62.39M448.74 65.04L448.86 6.55M408.35 96.85L448.74 65.04M459.04 67.69L459.13 8.97M419.2 99.95L459.04 67.69M469.34 70.34L469.4 11.38M430.05 103.05L469.34 70.34M479.63 72.99L479.67 13.8M440.9 106.15L479.63 72.99M489.93 75.64L489.94 16.22M451.75 109.25L489.93 75.64" stroke="#efefef" stroke-width="0.4" fill="none"/><path d="M426.82 59.4L427 1.4M426.82 59.4L385.25 90.25M426.82 59.4L493.25 76.5" stroke="#ececec" stroke-width="0.5" fill="none"/><path d="M385.25 90.25L455.25 110.25M455.25 110.25L493.25 76.5M493.25 76.5L493.25 17" stroke="#909090" stroke-width="0.45" fill="none"/><path d="M386.65 90.65L385.4 91.58M397.5 93.75L396.27 94.69M408.35 96.85L407.14 97.8M419.2 99.95L418 100.92M430.05 103.05L428.87 104.03M440.9 106.15L439.74 107.14M451.75 109.25L450.6 110.26M456.01 109.58L458.11 110.17M461.14 105.02L463.22 105.61M466.27 100.46L468.34 101.04M471.4 95.91L473.45 96.47M476.53 91.35L478.57 91.9M481.66 86.79L483.69 87.33M486.79 82.24L488.8 82.77M491.92 77.68L493.92 78.2M493.25 17L494.55 17.25M493.25 26.92L494.55 27.17M493.25 36.83L494.55 37.08M493.25 46.75L494.55 47M493.25 56.67L494.55 56.92M493.25 66.58L494.55 66.83M493.25 76.5L494.55 76.75" stroke="#888" stroke-width="0.4" fill="none"/><g font-size="2.6" fill="#3a3a3a" stroke="#3a3a3a" stroke-width="0.11" font-family="Liberation Sans, sans-serif"><text x="382.74" y="94.57">0</text><text x="393.63" y="97.7">1</text><text x="404.52" y="100.84">2</text><text x="415.41" y="103.97">3</text><text x="426.3" y="107.1">4</text><text x="437.2" y="110.24">5</text><text x="448.09" y="113.37">6</text><text x="408.06" y="106.1">Xaxis</text><text x="460.26" y="112.37">0</text><text x="465.35" y="107.79">1</text><text x="470.45" y="103.21">2</text><text x="475.55" y="98.63">3</text><text x="480.65" y="94.04">4</text><text x="485.75" y="89.46">5</text><text x="490.85" y="84.88">6</text><text x="495.95" y="80.3">7</text><text x="480.99" y="98.61">Yaxis</text></g><g font-size="2.0" fill="#444" stroke="#444" stroke-width="0.1" font-family="Liberation Sans, sans-serif"><text x="494.95" y="18.2">90</text><text x="494.95" y="28.12">89</text><text x="494.95" y="38.03">88</text><text x="494.95" y="47.95">87</text><text x="494.95" y="57.87">86</text><text x="494.95" y="67.78">85</text><text x="494.95" y="77.7">84</text></g><text transform="translate(499.55 46.75) rotate(-90)" font-size="2.3" fill="#555" stroke="#555" stroke-width="0.08" font-family="Liberation Sans, sans-serif" text-anchor="middle">Precision</text><path d="M412.52 35.86h1.0M413.79 56.81h1.0M417.01 46.24h1.0M421.51 41h1.0M427.87 35.01h1.0M431.62 32.49h1.0M406.95 41.38h1.0M406.54 50.43h1.0M411.5 55.37h1.0M430.91 36.46h1.0M414.31 68.53h1.0M423.9 41.29h1.0M424.4 52.48h1.0M425.76 36.65h1.0M415.87 70.83h1.0M424.71 52.8h1.0M435.27 40.7h1.0M419.68 69.05h1.0M420.72 68.86h1.0M420.79 60.05h1.0M420.34 48.9h1.0M431.34 54.32h1.0M436.74 33.6h1.0M443.98 27.11h1.0M430.28 37.67h1.0M433.3 44.25h1.0M434.83 44.89h1.0M444.17 42.61h1.0M445.32 30.47h1.0M434.24 40.08h1.0M441.47 45.77h1.0M435.42 38.83h1.0M452.01 32.11h1.0M448.89 39.07h1.0M448.26 44.11h1.0M456.18 32.28h1.0M457.1 34.71h1.0M460.11 31.82h1.0M474.2 33.62h1.0M476.19 32.52h1.0M449.96 33.4h1.0M445.14 40.83h1.0M446.84 34.14h1.0M467.32 36.58h1.0M456.06 37.73h1.0M453.13 32.77h1.0M477.38 33.01h1.0M420.78 46.58h1.0M453.4 38.7h1.0M463.48 35.48h1.0M414.85 37.19h1.0M428.84 33.16h1.0M447.79 35.95h1.0M474.53 34.56h1.0M481.58 32.31h1.0M474.65 31.26h1.0M418.76 58.74h1.0M404.76 53.59h1.0M406.19 64.77h1.0" stroke="#777" stroke-width="1.0" fill="none"/><path d="M412.66 52.43h1.0M412.31 45.22h1.0M414.41 49.07h1.0M415.03 55.36h1.0M416.71 38.03h1.0M417.48 60.35h1.0M419.53 36.78h1.0M432.08 23h1.0M417.08 39.79h1.0M421.99 33.54h1.0M428.31 52.3h1.0M432.87 31.65h1.0M410.48 58.07h1.0M410.85 69.48h1.0M410.68 70.61h1.0M413.6 45.62h1.0M414.96 40.34h1.0M417.87 62.02h1.0M421.26 50.88h1.0M428.34 41.69h1.0M432.87 38.76h1.0M434.33 34.6h1.0M413.54 67.55h1.0M415.01 44.89h1.0M422.69 41.64h1.0M424.56 36.41h1.0M429.92 32.12h1.0M436.63 31.18h1.0M416.28 68.89h1.0M417.56 56.84h1.0M417.19 46.58h1.0M419.09 60.28h1.0M422.02 63.82h1.0M424.59 51.58h1.0M426.38 36.75h1.0M426.34 56.22h1.0M429.46 46.94h1.0M430.32 54.66h1.0M433.97 30.62h1.0M421.19 61.81h1.0M420.84 57.96h1.0M424.17 49.68h1.0M428.56 46.98h1.0M431.54 41.74h1.0M432.29 34.82h1.0M436.64 30.33h1.0M439.04 28.06h1.0M423.04 71.52h1.0M423.26 55.25h1.0M424.26 56.43h1.0M426.76 41.97h1.0M431.26 35.59h1.0M432.68 47.18h1.0M438.53 27.69h1.0M440.18 39.18h1.0M442.38 33.75h1.0M442.32 48.36h1.0M426.17 49.7h1.0M434.72 55.96h1.0M435.24 42.76h1.0M436.94 47.7h1.0M439.19 34.03h1.0M441.27 30.28h1.0M443.46 33.25h1.0M431.27 40.26h1.0M432.24 57.77h1.0M443.24 39.33h1.0M445.96 34.19h1.0M446.85 37.5h1.0M436 51.91h1.0M440.48 47.57h1.0M439.9 34.06h1.0M442.21 44.65h1.0M447.23 42.77h1.0M448.75 41.26h1.0M440.68 50.97h1.0M442.06 32.89h1.0M442.92 34.78h1.0M444.4 37.87h1.0M447.05 39.17h1.0M448.27 34.75h1.0M441.49 54.41h1.0M443.7 54.03h1.0M455.06 40.25h1.0M456.41 34.52h1.0M454.54 33.1h1.0M456.97 39.24h1.0M459.78 35.12h1.0M461.28 35.38h1.0M463.22 35.29h1.0M462.54 35.24h1.0M463.64 38.42h1.0M466.26 29.96h1.0M465.35 39.16h1.0M465.61 35.31h1.0M470.91 34.67h1.0M472.48 35.16h1.0M475.92 32.45h1.0M436.22 37.88h1.0M481.29 32.86h1.0M455.07 31.92h1.0M474.92 33.14h1.0M442.96 40.52h1.0M442.73 32.61h1.0M457.16 33.55h1.0M467.14 34.69h1.0M481.42 33.39h1.0M442.2 36.64h1.0M467.47 36.36h1.0M445.41 36.76h1.0M455.12 34.94h1.0M479.7 32.66h1.0M472.11 30.92h1.0M462.3 37.29h1.0M433.48 34.42h1.0M463.37 37.06h1.0M462.22 33.44h1.0M416.77 34.59h1.0M470.75 33.31h1.0M474.83 30.77h1.0M449.39 37.62h1.0M407.96 40.8h1.0M441.57 37.69h1.0M449.42 36.13h1.0M461.35 32.19h1.0M432.8 42.35h1.0M457.95 37.12h1.0M428.43 40.92h1.0M443.19 33.94h1.0M468.29 32h1.0M459.11 32.41h1.0M433.66 36.72h1.0M405.82 52.35h1.0M413.48 56.37h1.0M416.2 62.8h1.0M415.93 44.77h1.0M418.56 64.93h1.0M404.74 63.93h1.0M411.63 46.31h1.0M407.68 52.85h1.0M418.65 45.14h1.0M404.21 47.2h1.0M408.05 44.18h1.0M416.25 43.01h1.0" stroke="#4a1a22" stroke-width="1.0" fill="none"/><path d="M412.4 43.15h1.0M412.16 53.9h1.0M418.57 34.06h1.0M421.51 36.26h1.0M421.88 33.94h1.0M425.63 42.2h1.0M407.15 45.97h1.0M408.93 59.26h1.0M408.07 61.94h1.0M416.16 61.19h1.0M420.21 38.39h1.0M425.27 61.93h1.0M425.12 51.2h1.0M426.81 27.51h1.0M433.96 23.69h1.0M411.5 45.25h1.0M424.33 47.34h1.0M426.85 36.26h1.0M428.16 39.4h1.0M413.34 46.95h1.0M416.53 45.12h1.0M423.06 39.9h1.0M437.52 24.84h1.0M416.19 47.96h1.0M418.67 64.51h1.0M420.16 51.7h1.0M429.44 38.65h1.0M430.9 45.02h1.0M433.93 31.05h1.0M438.27 49.64h1.0M420.67 71.66h1.0M420.76 46.62h1.0M420.28 42.78h1.0M432.77 50.06h1.0M432.94 46.68h1.0M434.43 35.14h1.0M434.03 46.49h1.0M438.93 39.03h1.0M438.59 31.34h1.0M439.98 26.73h1.0M441.73 29.38h1.0M422.62 73.77h1.0M424.6 51.43h1.0M428.78 48.82h1.0M431.34 53.01h1.0M426.52 55.95h1.0M436.11 44.56h1.0M437.59 47.72h1.0M429.31 56.08h1.0M429.31 55.97h1.0M438.12 48.39h1.0M438.5 42.6h1.0M447.59 26.71h1.0M441.58 32.74h1.0M444.61 39.73h1.0M435.02 43.25h1.0M437.67 40.27h1.0M443.56 38.04h1.0M450.02 46.31h1.0M450.96 39.78h1.0M451.55 37.9h1.0M441.71 51.52h1.0M444.11 36.44h1.0M446.01 46.78h1.0M448.31 39.67h1.0M451.65 32.76h1.0M452.68 40.08h1.0M441.37 37.97h1.0M443.25 41.84h1.0M455.02 29.45h1.0M444.82 48.75h1.0M446.24 40.66h1.0M449.74 41.68h1.0M450.96 34.46h1.0M449.06 35.72h1.0M449.58 46.96h1.0M451.02 47.73h1.0M450.66 40.72h1.0M452 41.75h1.0M453.54 37.95h1.0M456.1 40.36h1.0M458.88 34.28h1.0M453.63 45.77h1.0M456.67 37.83h1.0M458.52 40.19h1.0M458.9 37.35h1.0M460.56 42.04h1.0M464.39 37.33h1.0M470.02 34.22h1.0M469.4 35.2h1.0M472.41 34.06h1.0M481.33 32.6h1.0M447.46 36.97h1.0M480.26 31.17h1.0M436.51 40.45h1.0M470.93 33.96h1.0M442.86 41.08h1.0M425.04 35.9h1.0M465.47 35.77h1.0M449.77 32.68h1.0M465.9 36.22h1.0M476.67 34.58h1.0M414.31 45.39h1.0M422.68 37.78h1.0M457.18 37.19h1.0M449.83 37.59h1.0M430.74 41.87h1.0M439.6 42.37h1.0M477.2 33.74h1.0M479.12 32.8h1.0M422.26 41.04h1.0M439.19 38.14h1.0M479.36 33.3h1.0M440.74 36.85h1.0M416.18 33.59h1.0M467.53 36.07h1.0M411.11 42.64h1.0M464.84 32.83h1.0M431.53 40.65h1.0M426.81 33.27h1.0M418.53 40.46h1.0M476.38 33.31h1.0M429.68 33.24h1.0M477.85 35.1h1.0M434.08 34.94h1.0M445.77 32.49h1.0M472.23 32.71h1.0M419.97 45.27h1.0M470.02 32.97h1.0M430.5 42.05h1.0M406.24 70.91h1.0M406.18 60.52h1.0M415.81 44.86h1.0M408.03 61.62h1.0M411.63 42.49h1.0M415.86 66.46h1.0M411.24 67.92h1.0M418.64 43.58h1.0M413.7 64.8h1.0M418.57 49.83h1.0M409.47 54.52h1.0M409.95 43.93h1.0M409.65 59.92h1.0M415.74 50.26h1.0M409.65 53.97h1.0" stroke="#6a3a3e" stroke-width="1.0" fill="none"/><path d="M413.94 38.89h1.0M420.45 57.69h1.0M426.39 51.98h1.0M407.13 71.83h1.0M407.22 54.59h1.0M414.59 45.38h1.0M421.93 46.88h1.0M425.19 36.03h1.0M425.2 63.41h1.0M427.98 40.81h1.0M412.25 53.64h1.0M411.65 63.43h1.0M413.7 49.28h1.0M416.07 38.51h1.0M420.63 44.83h1.0M413.9 71.29h1.0M431.66 49.19h1.0M430.56 61h1.0M435.05 42.41h1.0M436.47 46.98h1.0M423.51 55.22h1.0M425.43 48.03h1.0M428.66 53.58h1.0M434.76 39.08h1.0M438.5 48.34h1.0M442.21 52.7h1.0M443.71 41.84h1.0M443.6 26.57h1.0M429.34 55.81h1.0M443.08 36.31h1.0M443.22 52.78h1.0M447.63 37.47h1.0M450.76 30.32h1.0M438.2 41.97h1.0M450.25 37.81h1.0M451.22 32.93h1.0M443.45 54.6h1.0M446.67 48.87h1.0M448.04 44.26h1.0M450.94 34.78h1.0M452.18 29.35h1.0M460.34 31.75h1.0M459.68 35.69h1.0M464.64 32.71h1.0M466.7 33.47h1.0M469.1 37.21h1.0M442.47 37.73h1.0M435.29 38.24h1.0M426.69 38.14h1.0M461.27 33.59h1.0M458.59 38.19h1.0M451.73 32.65h1.0M424.31 43.29h1.0M412.05 43.12h1.0M443.71 35.62h1.0M463.28 35.66h1.0M479.4 30.86h1.0M445.65 36.9h1.0M476.73 31.45h1.0M420.92 38.5h1.0M445.43 32.69h1.0M413.78 57.28h1.0M411.46 55.86h1.0M411.56 71.8h1.0M418.53 42.08h1.0M411.52 49.84h1.0M405.89 44.65h1.0M415.78 59.19h1.0M416.15 49.66h1.0" stroke="#888" stroke-width="1.0" fill="none"/><path d="M418.61 57.05h1.0M422.63 51.8h1.0M426.16 33.51h1.0M406.88 43.52h1.0M421.97 48.02h1.0M421.69 53.99h1.0M422.19 45.29h1.0M425.28 29.3h1.0M425.95 31.68h1.0M429.96 36.91h1.0M431.61 41.55h1.0M430.99 26.62h1.0M418.26 44.57h1.0M419.71 43.32h1.0M426.2 34.42h1.0M434.37 51.21h1.0M419.3 60.33h1.0M421.76 45.64h1.0M422.78 35.13h1.0M431.51 38.52h1.0M422.49 74.78h1.0M434.86 48.33h1.0M427.51 70.25h1.0M433.88 43.37h1.0M434.04 38h1.0M436.35 51.54h1.0M441.13 30.78h1.0M432.98 48h1.0M435.73 48.41h1.0M439.55 33.27h1.0M441.26 38.5h1.0M444.19 44.79h1.0M447.01 30.27h1.0M434.56 37.07h1.0M444.31 30.23h1.0M446.49 29.21h1.0M434.99 47.27h1.0M439.19 37.35h1.0M438.89 52.88h1.0M445.74 39.56h1.0M451.59 35.87h1.0M454.85 34.7h1.0M455.16 33.99h1.0M452.48 39.05h1.0M458.76 37.6h1.0M455.14 45.99h1.0M457.75 38.5h1.0M458.58 39.66h1.0M461.02 31.84h1.0M457.04 37.09h1.0M462.63 31.1h1.0M459.81 37.23h1.0M456.69 38.62h1.0M469.49 32.02h1.0M441.29 39.75h1.0M421.77 46.04h1.0M454.61 39.63h1.0M474.73 35.3h1.0M444.69 36.18h1.0M411.6 34.98h1.0M481.45 34.43h1.0M454.7 32.24h1.0M463.28 35.4h1.0M404.27 60.22h1.0M413.37 57.05h1.0M411.45 55.39h1.0M409.65 59.09h1.0M418.24 42.77h1.0M407.64 64.68h1.0" stroke="#6aa090" stroke-width="1.0" fill="none"/><path d="M420.47 48.53h1.0M421.88 48.96h1.0M428.75 39.46h1.0M408.42 52.53h1.0M408.02 41.92h1.0M412.61 50.48h1.0M410.5 63.04h1.0M417.66 60.92h1.0M428.37 44.19h1.0M431.46 50.94h1.0M434 35.27h1.0M413.49 65.73h1.0M425.56 50.07h1.0M433.26 47.81h1.0M415.65 66.41h1.0M416.9 49.71h1.0M418.41 66.61h1.0M419.85 58.84h1.0M421.55 44.86h1.0M432.38 35.17h1.0M424.86 53.98h1.0M426.79 53.17h1.0M441.82 45.9h1.0M443.36 46.95h1.0M431.78 35.79h1.0M431.77 37.46h1.0M435.08 37.35h1.0M437.05 57.03h1.0M444.19 54.84h1.0M432.02 56.19h1.0M440.34 48.95h1.0M444.51 38.42h1.0M449.1 32.12h1.0M436.58 53.51h1.0M438.24 42.59h1.0M438.21 58.15h1.0M446.23 47.02h1.0M449.96 35.04h1.0M452.77 41.07h1.0M459.02 30.75h1.0M455.4 39.26h1.0M457.58 41.5h1.0M462.4 33.36h1.0M476.02 32.92h1.0M481.25 32.08h1.0M470.62 32.61h1.0M464.78 33.02h1.0M477.24 31.92h1.0M473.07 34.15h1.0M472.78 34.68h1.0M471.25 35.11h1.0M460.2 33.45h1.0M421.63 42h1.0M479.05 32.75h1.0M468.1 35.45h1.0M457.72 33.69h1.0M454.33 32.65h1.0M433.3 37.57h1.0M413.24 69.46h1.0M406.31 42.09h1.0M415.89 67.72h1.0M411.23 56.92h1.0M406.16 70.37h1.0M408.05 71.89h1.0M416.09 43h1.0M408.03 68.69h1.0" stroke="#52202a" stroke-width="1.0" fill="none"/><path d="M426.35 49.78h1.0M427.71 29.28h1.0M429.35 33.95h1.0M428.7 48.2h1.0M428.74 41.12h1.0M410.3 47.35h1.0M411.65 46.41h1.0M417.19 45.4h1.0M417.35 51.28h1.0M418.59 59.99h1.0M422.07 39.62h1.0M423.39 35.21h1.0M425.35 33.5h1.0M410.27 46.83h1.0M411.85 45.98h1.0M419.21 37.81h1.0M421.98 43.78h1.0M427.26 31.73h1.0M429.51 41.39h1.0M415.78 51.03h1.0M416.89 59.42h1.0M417.82 45.21h1.0M418.5 45.39h1.0M423.81 33.23h1.0M425.43 31.35h1.0M427.16 54.43h1.0M427.5 38.1h1.0M426.99 52.22h1.0M435.04 47.41h1.0M437.53 46.88h1.0M417.1 72.35h1.0M419.33 60.92h1.0M418.47 50.45h1.0M418.46 56.72h1.0M422.15 58.46h1.0M430.75 47.1h1.0M433.78 44.29h1.0M434.06 34.43h1.0M438.71 45.98h1.0M439.61 28.64h1.0M439.84 28.83h1.0M419.33 39.1h1.0M424.76 45.44h1.0M425.39 37.77h1.0M425.08 57.5h1.0M435.98 43.55h1.0M441.86 53.41h1.0M424.57 60.9h1.0M426.67 41.08h1.0M429.16 47.55h1.0M431.25 56.05h1.0M427.41 46.48h1.0M429.04 62.43h1.0M428.87 55.96h1.0M432.42 52.1h1.0M432.3 39.92h1.0M433.85 36.75h1.0M433.45 43.89h1.0M434.68 32.14h1.0M434.66 52.55h1.0M436.14 58.45h1.0M440.47 39.77h1.0M445.79 36.36h1.0M431.08 59.04h1.0M432.13 42.81h1.0M444.56 31.85h1.0M433.55 64.82h1.0M443.71 42.34h1.0M436.49 50.46h1.0M437.5 58.56h1.0M440.9 34.69h1.0M440.97 41.76h1.0M445.03 42.16h1.0M445.49 42.03h1.0M438.36 55.2h1.0M450.14 30.16h1.0M449.26 44.36h1.0M447.15 40.96h1.0M450.19 50.08h1.0M458.31 29.82h1.0M454.5 36.89h1.0M457.7 32.39h1.0M459.79 34.95h1.0M458.63 39.09h1.0M458.26 34.44h1.0M465.86 32.98h1.0M464.92 38.55h1.0M465.59 35.62h1.0M468.96 37.96h1.0M472.17 34.26h1.0M480.99 32.61h1.0M427.75 33.13h1.0M421.38 44.38h1.0M466.34 32.79h1.0M473.9 31.96h1.0M470.94 33.51h1.0M462.3 36.38h1.0M457.74 36.17h1.0M426.35 38.46h1.0M419.71 39.11h1.0M405.46 37.68h1.0M422.42 44.55h1.0M403.79 49.76h1.0M425.46 42.34h1.0M418.92 46.64h1.0M439.54 40.84h1.0M450.66 34.87h1.0M419.05 37.02h1.0M415.5 41.47h1.0M473.29 32.7h1.0M445.22 34.06h1.0M472.48 33.65h1.0M426.79 40.13h1.0M448.63 32.15h1.0M447.71 34.54h1.0M404.62 62.34h1.0M404.31 57.82h1.0M411.71 50.47h1.0M418.43 45.51h1.0M404.48 51.18h1.0M406.12 50.18h1.0M413.26 45.76h1.0M409.8 49.75h1.0M411.78 66.07h1.0M413.54 45.07h1.0M406.38 56.28h1.0M418.25 51h1.0" stroke="#5a2830" stroke-width="1.0" fill="none"/><path d="M430.44 32.61h1.0M422.45 50.37h1.0M426.15 57.21h1.0M426.31 37.42h1.0M428.38 44.75h1.0M411.7 68.99h1.0M412.21 41.48h1.0M414.48 50.68h1.0M425.28 30.1h1.0M433.03 32.14h1.0M434.81 26.74h1.0M416.63 63.75h1.0M416.45 43.97h1.0M424.18 50.79h1.0M430.18 48.39h1.0M432.82 39.38h1.0M427.52 48.4h1.0M439.59 27.42h1.0M419.62 70.68h1.0M423.66 61.54h1.0M425.19 35.23h1.0M435.33 49.86h1.0M441.93 42.72h1.0M432.03 45.43h1.0M434.59 48.23h1.0M435.74 34.96h1.0M442.33 53.49h1.0M435.16 52.16h1.0M436.79 51.18h1.0M445.28 30.48h1.0M437.15 49.39h1.0M436.47 56.45h1.0M439.17 32.6h1.0M441.41 48.26h1.0M447.47 35.97h1.0M438.22 42.7h1.0M440.78 36.39h1.0M445.9 44.05h1.0M448.86 52.85h1.0M450.08 45.94h1.0M452.64 41.75h1.0M442.9 37.63h1.0M444.55 37.78h1.0M452.83 40.11h1.0M448.78 51.84h1.0M449.69 40.71h1.0M452.63 35.61h1.0M454.82 35.42h1.0M467.35 36.58h1.0M468.87 36.38h1.0M433.54 36.83h1.0M460.27 37.15h1.0M413.11 34.21h1.0M446.82 37.09h1.0M471.03 34.93h1.0M451.08 33.78h1.0M464.63 34.16h1.0M435.72 35.91h1.0M469.13 35.26h1.0M418.55 45.21h1.0M424.43 44.8h1.0M411.44 46.56h1.0M422.81 41.57h1.0M408.9 39.09h1.0M453.77 37.31h1.0M430.98 37.03h1.0M444.22 32.27h1.0M413.22 66.58h1.0M413.23 66.22h1.0M407.86 46.45h1.0M411.35 52.87h1.0M409.57 52.73h1.0M407.94 44.22h1.0" stroke="#5a7a6a" stroke-width="1.0" fill="none"/></g><g><polygon points="565,29 601.2,3.6 601.99,59.14 567,87.75" fill="#f8f8f8"/><polygon points="601.2,3.6 659,18.75 659,76.5 601.99,59.14" fill="#f4f4f4"/><polygon points="567,87.75 601.99,59.14 659,76.5 626.5,107.75" fill="#f3f3f3"/><path d="M565 29L601.2 3.6M601.2 3.6L659 18.75M565.21 35.27L601.28 9.52M601.28 9.52L659 24.91M565.43 41.53L601.37 15.45M601.37 15.45L659 31.07M565.64 47.8L601.45 21.37M601.45 21.37L659 37.23M565.85 54.07L601.54 27.3M601.54 27.3L659 43.39M566.07 60.33L601.62 33.22M601.62 33.22L659 49.55M566.28 66.6L601.7 39.15M601.7 39.15L659 55.71M566.49 72.87L601.79 45.07M601.79 45.07L659 61.87M566.71 79.13L601.87 51M601.87 51L659 68.03M566.92 85.4L601.96 56.92M601.96 56.92L659 74.19" stroke="#ebebeb" stroke-width="0.45" fill="none"/><path d="M567.7 87.18L565.72 28.49M567.7 87.18L627.15 107.12M572.42 83.32L570.61 25.06M572.42 83.32L631.54 102.91M577.15 79.45L575.5 21.63M577.15 79.45L635.92 98.69M581.87 75.59L580.38 18.2M581.87 75.59L640.31 94.47M586.59 71.73L585.27 14.78M586.59 71.73L644.7 90.25M591.32 67.87L590.16 11.35M591.32 67.87L649.09 86.03M596.04 64.01L595.05 7.92M596.04 64.01L653.48 81.81M600.76 60.14L599.93 4.49M600.76 60.14L657.86 77.59M603.13 59.49L602.36 3.9M568.19 88.15L603.13 59.49M611.96 62.18L611.32 6.25M577.41 91.25L611.96 62.18M620.8 64.87L620.27 8.6M586.63 94.35L620.8 64.87M629.64 67.56L629.23 10.95M595.86 97.45L629.64 67.56M638.48 70.25L638.19 13.3M605.08 100.55L638.48 70.25M647.31 72.94L647.15 15.64M614.3 103.65L647.31 72.94M656.15 75.63L656.11 17.99M623.52 106.75L656.15 75.63" stroke="#efefef" stroke-width="0.4" fill="none"/><path d="M601.99 59.14L601.2 3.6M601.99 59.14L567 87.75M601.99 59.14L659 76.5" stroke="#ececec" stroke-width="0.5" fill="none"/><path d="M567 87.75L626.5 107.75M626.5 107.75L659 76.5M659 76.5L659 18.75" stroke="#909090" stroke-width="0.45" fill="none"/><path d="M568.19 88.15L567.14 89.01M577.41 91.25L576.38 92.12M586.63 94.35L585.61 95.23M595.86 97.45L594.84 98.35M605.08 100.55L604.08 101.46M614.3 103.65L613.31 104.57M623.52 106.75L622.55 107.68M627.15 107.12L628.93 107.72M631.54 102.91L633.31 103.49M635.92 98.69L637.69 99.26M640.31 94.47L642.07 95.04M644.7 90.25L646.44 90.81M649.09 86.03L650.82 86.58M653.48 81.81L655.2 82.35M657.86 77.59L659.58 78.12M659 18.75L660.3 19M659 24.91L660.3 25.16M659 31.07L660.3 31.32M659 37.23L660.3 37.48M659 43.39L660.3 43.64M659 49.55L660.3 49.8M659 55.71L660.3 55.96M659 61.87L660.3 62.12M659 68.03L660.3 68.28M659 74.19L660.3 74.44" stroke="#888" stroke-width="0.4" fill="none"/><g font-size="2.6" fill="#3a3a3a" stroke="#3a3a3a" stroke-width="0.11" font-family="Liberation Sans, sans-serif"><text x="564.77" y="91.9">0</text><text x="574.02" y="95.03">1</text><text x="583.27" y="98.16">2</text><text x="592.52" y="101.29">3</text><text x="601.78" y="104.42">4</text><text x="611.03" y="107.55">5</text><text x="620.28" y="110.68">6</text><text x="585.96" y="103.22">Xaxis</text><text x="630.71" y="109.92">0</text><text x="635.08" y="105.68">1</text><text x="639.45" y="101.44">2</text><text x="643.81" y="97.2">3</text><text x="648.18" y="92.95">4</text><text x="652.54" y="88.71">5</text><text x="656.91" y="84.47">6</text><text x="661.27" y="80.23">7</text><text x="648.36" y="97.3">Yaxis</text></g><g font-size="2.0" fill="#444" stroke="#444" stroke-width="0.1" font-family="Liberation Sans, sans-serif"><text x="660.7" y="19.95">90</text><text x="660.7" y="26.11">89</text><text x="660.7" y="32.27">88</text><text x="660.7" y="38.43">87</text><text x="660.7" y="44.59">86</text><text x="660.7" y="50.75">85</text><text x="660.7" y="56.91">84</text><text x="660.7" y="63.07">83</text><text x="660.7" y="69.23">82</text><text x="660.7" y="75.39">81</text></g><text transform="translate(665.3 47.62) rotate(-90)" font-size="2.3" fill="#555" stroke="#555" stroke-width="0.08" font-family="Liberation Sans, sans-serif" text-anchor="middle">Precision</text><ellipse cx="609.4" cy="34.4" rx="1.08" ry="1.95" fill="#6a0a14"/><ellipse cx="610.3" cy="33.3" rx="1.08" ry="1.95" fill="#6a0a14"/><ellipse cx="616.6" cy="28.3" rx="1.08" ry="1.95" fill="#4c2a32"/><ellipse cx="626.2" cy="27.1" rx="1.08" ry="1.95" fill="#988686"/><ellipse cx="601.9" cy="50.2" rx="1.08" ry="1.95" fill="#5a0c18"/><ellipse cx="622.3" cy="48.7" rx="1.08" ry="1.95" fill="#a08e8e"/><ellipse cx="620.1" cy="62.6" rx="1.08" ry="1.95" fill="#a89696"/><ellipse cx="614.4" cy="67.7" rx="1.08" ry="1.95" fill="#846a6a"/><ellipse cx="603.9" cy="71.1" rx="1.08" ry="1.95" fill="#6a2028"/><ellipse cx="606.9" cy="80.6" rx="1.08" ry="1.95" fill="#965258"/><rect x="516.5" y="67.75" width="3" height="50" fill="url(#jet)" stroke="#666" stroke-width="0.25" opacity="0.93"/><g font-size="1.9" fill="#555" stroke="#555" stroke-width="0.07" font-family="Liberation Sans, sans-serif"><text x="520.1" y="70.42">88</text><text x="520.1" y="76.67">87</text><text x="520.1" y="82.92">86</text><text x="520.1" y="89.17">85</text><text x="520.1" y="95.42">84</text><text x="520.1" y="101.67">83</text><text x="520.1" y="107.92">82</text><text x="520.1" y="114.17">81</text></g><rect x="677.75" y="67.75" width="3" height="47.5" fill="url(#jet)" stroke="#666" stroke-width="0.25" opacity="0.93"/><g font-size="1.9" fill="#555" stroke="#555" stroke-width="0.07" font-family="Liberation Sans, sans-serif"><text x="681.35" y="70.33">88</text><text x="681.35" y="76.27">87</text><text x="681.35" y="82.21">86</text><text x="681.35" y="88.14">85</text><text x="681.35" y="94.08">84</text><text x="681.35" y="100.02">83</text><text x="681.35" y="105.96">82</text><text x="681.35" y="111.89">81</text></g></g><g><polygon points="21.8,221 61.5,194.1 62.19,251.3 23.75,281.5" fill="#f8f8f8"/><polygon points="61.5,194.1 125,210.2 124.6,267.75 62.19,251.3" fill="#f4f4f4"/><polygon points="23.75,281.5 62.19,251.3 124.6,267.75 88.75,300.25" fill="#f3f3f3"/><path d="M21.8 221L61.5 194.1M61.5 194.1L125 210.2M22.15 231.89L61.62 204.4M61.62 204.4L124.93 220.56M22.5 242.78L61.75 214.69M61.75 214.69L124.86 230.92M22.85 253.67L61.87 224.99M61.87 224.99L124.78 241.28M23.2 264.56L61.99 235.28M61.99 235.28L124.71 251.64M23.55 275.45L62.12 245.58M62.12 245.58L124.64 262" stroke="#ebebeb" stroke-width="0.45" fill="none"/><path d="M24.52 280.9L22.59 220.46M24.52 280.9L89.47 299.6M29.71 276.82L27.95 216.83M29.71 276.82L94.31 295.21M34.9 272.74L33.31 213.2M34.9 272.74L99.15 290.82M40.09 268.66L38.67 209.57M40.09 268.66L103.99 286.44M45.27 264.59L44.03 205.94M45.27 264.59L108.83 282.05M50.46 260.51L49.39 202.3M50.46 260.51L113.67 277.66M55.65 256.43L54.75 198.67M55.65 256.43L118.51 273.27M60.84 252.36L60.11 195.04M60.84 252.36L123.35 268.89M63.43 251.63L62.77 194.42M25.05 281.88L63.43 251.63M73.11 254.18L72.61 196.92M35.12 284.78L73.11 254.18M82.78 256.73L82.45 199.41M45.2 287.69L82.78 256.73M92.46 259.28L92.3 201.91M55.27 290.59L92.46 259.28M102.13 261.83L102.14 204.4M65.35 293.5L102.13 261.83M111.81 264.38L111.98 206.9M75.43 296.41L111.81 264.38M121.48 266.93L121.83 209.39M85.5 299.31L121.48 266.93" stroke="#efefef" stroke-width="0.4" fill="none"/><path d="M62.19 251.3L61.5 194.1M62.19 251.3L23.75 281.5M62.19 251.3L124.6 267.75" stroke="#ececec" stroke-width="0.5" fill="none"/><path d="M23.75 281.5L88.75 300.25M88.75 300.25L124.6 267.75M124.6 267.75L125 210.2" stroke="#909090" stroke-width="0.45" fill="none"/><path d="M25.05 281.88L23.9 282.78M35.12 284.78L33.99 285.7M45.2 287.69L44.07 288.62M55.27 290.59L54.16 291.53M65.35 293.5L64.25 294.45M75.43 296.41L74.33 297.37M85.5 299.31L84.42 300.28M89.47 299.6L91.42 300.16M94.31 295.21L96.24 295.76M99.15 290.82L101.07 291.37M103.99 286.44L105.9 286.97M108.83 282.05L110.73 282.57M113.67 277.66L115.56 278.18M118.51 273.27L120.39 273.78M123.35 268.89L125.22 269.38M125 210.2L126.3 210.45M124.93 220.56L126.23 220.81M124.86 230.92L126.16 231.17M124.78 241.28L126.08 241.53M124.71 251.64L126.01 251.89M124.64 262L125.94 262.25" stroke="#888" stroke-width="0.4" fill="none"/><g font-size="2.6" fill="#3a3a3a" stroke="#3a3a3a" stroke-width="0.11" font-family="Liberation Sans, sans-serif"><text x="21.37" y="285.74">0</text><text x="31.48" y="288.68">1</text><text x="41.58" y="291.61">2</text><text x="51.69" y="294.54">3</text><text x="61.79" y="297.48">4</text><text x="71.9" y="300.41">5</text><text x="82" y="303.34">6</text><text x="44.69" y="296.63">Xaxis</text><text x="93.39" y="302.32">0</text><text x="98.21" y="297.91">1</text><text x="103.02" y="293.5">2</text><text x="107.84" y="289.09">3</text><text x="112.66" y="284.69">4</text><text x="117.47" y="280.28">5</text><text x="122.29" y="275.87">6</text><text x="127.11" y="271.46">7</text><text x="112.89" y="289.07">Yaxis</text></g><g font-size="2.0" fill="#444" stroke="#444" stroke-width="0.1" font-family="Liberation Sans, sans-serif"><text x="126.7" y="211.4">90</text><text x="126.63" y="221.76">89</text><text x="126.56" y="232.12">88</text><text x="126.48" y="242.48">87</text><text x="126.41" y="252.84">86</text><text x="126.34" y="263.19">85</text></g><text transform="translate(131.1 238.97) rotate(-90)" font-size="2.3" fill="#555" stroke="#555" stroke-width="0.08" font-family="Liberation Sans, sans-serif" text-anchor="middle">Precision</text><polygon points="40,231.25 66.25,213.4 112.27,224.75 40.12,270.86" fill="#470707" stroke="#470707" stroke-width="0.5" stroke-linejoin="round"/><path d="M97.75 235.72h1M92.15 235.49h1M96.52 235.48h1M86.94 239.35h1M100.97 233.59h1M88.34 238.44h1M79.95 245.59h1M68.21 253.32h1M101.61 230.89h1M66.1 256.17h1M39.66 271.66h1M92.86 238.57h1M55 261.34h1M98.91 231.12h1M57.68 261.02h1M113.5 224.18h1M94.56 233.71h1M82.79 243.43h1M107.42 226.97h1M78.3 249.19h1M60.33 260.24h1M62.86 259.2h1M53.26 262.27h1M75.98 249.28h1M82.73 243.93h1M70.55 252.33h1M87.87 241.9h1M87.16 240.49h1M47.72 270.31h1M51.08 264.77h1M69.57 254.04h1M71.07 250.25h1M72.03 250.14h1M73.22 251.44h1M97.35 232.22h1M98.75 232.56h1M45.29 271.99h1M51.96 266.99h1M90.96 236.57h1M47.92 266.64h1M62.51 257.46h1M43.02 269.44h1M53.1 263.19h1M42.49 270.74h1M80.78 245.14h1M67.39 255.63h1M54.41 263.33h1M61.45 257.15h1M53.77 264.62h1M85.71 242.26h1M91.68 238.37h1M69.66 254.97h1M63.78 255h1M79.06 245.26h1M68.37 254.28h1M75.06 248.43h1M84.47 241.18h1M100.43 230.68h1M90.51 236.52h1M96.97 232.61h1M67.32 252.52h1M70.29 251.3h1M86.56 240.03h1M97.67 233.06h1M56.29 262.14h1M102.94 231.2h1M61.95 257.65h1M87.87 238.85h1M110.29 224.04h1M48.34 266.36h1M79.76 243.94h1M85.97 240.66h1M92.42 235.4h1M44.18 269.94h1M80.57 245.35h1M60.7 257.12h1M78.21 245.44h1M102.54 229.12h1M66.47 253.15h1M100.45 231.32h1M70.17 253.88h1M92.36 235.59h1M107.91 227.23h1M105.68 227h1M53.41 262.89h1M74.87 250.42h1M46.75 267.91h1M73.91 248.16h1M82.33 242.69h1M53.96 261.89h1M106.53 228.94h1M65.69 254.36h1M81.23 243h1M43.45 269.63h1M100.15 229.88h1M69.85 253.9h1M60.03 260.73h1M55.2 262.59h1M44.54 269.45h1M80.68 245.18h1M106.93 227.69h1M74.71 248.79h1M46.01 271.39h1M79.29 247.61h1M59.83 259.97h1M41.39 271.01h1M56.15 261.63h1M79.21 246.6h1M101.42 231.56h1M71.01 250.07h1M86.31 241.4h1M105.14 226.9h1M49.3 265.32h1M85.51 240.82h1M97.16 231.93h1M67.67 252.53h1M72.62 250.11h1M109.95 223.19h1M83.31 242.16h1M97.6 233.94h1M97.55 233.5h1M63.46 256.46h1M73.55 249.09h1M92.96 235.75h1M61.86 258.59h1M101.97 228.69h1M92.46 237.56h1M89.58 237.49h1M83.73 242.68h1M93.36 234.56h1M84.36 245.03h1M104.13 228.2h1M90.71 236.67h1M80.02 245.17h1M54.35 263.02h1M68.06 254.61h1M62.73 256.35h1M56.87 263.33h1M42.55 270.44h1M62.04 256.26h1M66.19 253.34h1M78.01 246.53h1M96.52 232.93h1M79.43 246.64h1M40.3 272.33h1M91.71 237.26h1M108.81 224.58h1M68.6 251.95h1M103.11 228.79h1M105.01 227.73h1M71.79 253.71h1M56.55 263.54h1M43.47 269.77h1M88.56 238.02h1M40.83 271.63h1M75.15 247.25h1M108.44 227.59h1M103.99 230.59h1M56.69 260.07h1M79.3 245.75h1M107.77 225.5h1M70.62 250.27h1M97.69 234.51h1M85.81 240.78h1M109.89 223.51h1M57.66 261.78h1M103.64 231.16h1M109.82 225.37h1M88.48 239.52h1M64.75 255.67h1M78.61 245.69h1M69.99 250.99h1M60.32 258.69h1M83.29 242.22h1M60.77 257.73h1M69.79 251.35h1M85.08 241.89h1M86.34 240.41h1M55.38 264.7h1M51.36 264.52h1M80.37 243.9h1M74.17 248.67h1M98.25 234.13h1M111.71 223.25h1M93.95 236.95h1M59.46 259.02h1M43.09 272.44h1M88.7 239.69h1M52.77 262.77h1M89.63 238.94h1M104.06 228.43h1M39.38 272.9h1M75.29 249.01h1M99.96 231.26h1M75.62 247.28h1M99.9 233.22h1M99.12 234.59h1M103.11 230.85h1M92.2 238.94h1M110.03 223.49h1M100.18 230.64h1M49.75 265.42h1M41.43 273.94h1M91.02 239.93h1M91.8 235.82h1M93.21 235.97h1M53.22 262.67h1M97.95 234.71h1M95.17 234.65h1M67.53 253.24h1M90.61 238.34h1M101.71 230.11h1M50.16 265.45h1M85.43 242h1M109.14 223.85h1M64.54 256.73h1M103.67 230.29h1M87.97 240.48h1M53.18 265.07h1M82.01 245.66h1M110.29 226.37h1M64.08 255.5h1M56.87 259.81h1M62.62 259.29h1M62.39 260.07h1M100.84 232.3h1M40.23 271.53h1M57.41 261.64h1M87.89 238.63h1M81.75 244.12h1M98.47 233.2h1M103.83 229.46h1M84.85 243.18h1M101.74 229.15h1M63.62 255.59h1M109.4 224.16h1M110.53 223.48h1M49.88 266.06h1M79.4 247.08h1M84.66 243.45h1M63.48 257.47h1M53.42 264.36h1M78.82 245.34h1M56.1 260.37h1M93.07 239.12h1M53.99 262.7h1M104.37 227.18h1M77.65 245.41h1M45.32 268.99h1M66.22 255.81h1M97.93 231.95h1M106.89 225.21h1M79.04 247.59h1M55.55 264.94h1M95.95 234.49h1M43.61 270.59h1M99.65 232.37h1M86.67 239.42h1M96.88 233.54h1M63.87 256.48h1M46.01 267.76h1M59.79 259.66h1M59.27 259.76h1M51.69 263.81h1M81.96 242.45h1M41.05 271.24h1M77.84 245.28h1M90.41 238.58h1M85.62 239.98h1M107.84 226.12h1M90.5 238.65h1M86.3 240.22h1M98.39 231.21h1M45.86 271.09h1M50.2 267.43h1M108.99 225.73h1M57.49 260.58h1M66.33 256.03h1M55.5 263.27h1M64.48 256.57h1M97.84 234.27h1M55.08 262.05h1M65.58 255.82h1M69.06 253.59h1M91.42 239.02h1M60.53 260.83h1M104.36 227.01h1M52.59 263.17h1M68.22 254.36h1M78.34 247.7h1M77.84 247h1M68.7 251.68h1M96.61 235.09h1M79.87 243.86h1M82.2 243.16h1M54.95 261.27h1M68.98 254.66h1M101.17 233.42h1M101.19 232.41h1M95.28 235.89h1M108.91 226.88h1M87.45 239.98h1M79.38 244.52h1M51.36 266.22h1M92.06 237.87h1M85.19 240.26h1M59.72 258.04h1M69.48 252.51h1M99.68 230.44h1M108.65 224.54h1M68.61 255.16h1M84.7 240.6h1M57.23 260.17h1M109.53 225.93h1M105.45 226.82h1M105.79 227.39h1M103.49 228.67h1M78.66 245.45h1M110.62 223.17h1M61.04 259.11h1M98.36 234.9h1M90.47 238.28h1M54.7 261.64h1M98.06 234.77h1M71.38 250.54h1M94.42 236.62h1M79.22 246.15h1M100.94 232.64h1M77.46 248.09h1M44.34 271.99h1M91.82 238.69h1M85.41 244.36h1M41.61 271.36h1M97.1 233.15h1M83.76 243.55h1M101.1 231.54h1M54.23 261.66h1M101.55 231.91h1M57.69 261h1M78.43 248.03h1M45.17 268.82h1M68.18 256.1h1M57.27 260.61h1M68.19 252.86h1M70.08 251.8h1M42.22 271.26h1M78.14 247.21h1M98.77 232.69h1M65.25 255.88h1M84.46 243.1h1M46.28 269.25h1M103.24 230.68h1M52.11 265.86h1M83.93 244.34h1M60.02 261.03h1M45.4 268.1h1M97.03 232.48h1M67.11 252.89h1M98.65 235.03h1M82.38 243.96h1M110.06 225.48h1M96.63 234.79h1M71.94 253.62h1M111.25 224.63h1M74.16 250.7h1M111.05 223.25h1M50.02 267.82h1M51.43 267.86h1M53.96 265.31h1M44.44 268.52h1M97.88 232.1h1M61.74 256.41h1M59.85 261.95h1M109.89 223.16h1M64.43 256.12h1M110.48 226.25h1M82.7 243.97h1M106.58 225.51h1M112.18 224.42h1M52.78 263.67h1M70.05 250.84h1M80.3 244.47h1M94.72 237.49h1M74.7 247.63h1M72.63 249.95h1M98.01 231.33h1M50.02 266.45h1M49.73 266.58h1M48.43 267.64h1M102.2 228.44h1M49.09 266.68h1M48.99 266.22h1M50.92 266.55h1M62.67 255.87h1M111.02 222.76h1M42.21 270.61h1M111.76 224.41h1M110.35 223.46h1M43.4 270.73h1M105.95 228.29h1M44.21 268.52h1M48.86 268.93h1M70.73 253.19h1M44.6 269.74h1M100.77 230.35h1M49.49 265.71h1M70.42 250.43h1M111.88 223.16h1M40.27 273.68h1M80.84 245.74h1M90.25 237.26h1M44.44 270.8h1M100.44 233.46h1M95.48 236.89h1M89.03 237.95h1M102.39 230.52h1M80.5 245.55h1M72.52 250.18h1M108.92 224.14h1M81.09 243.05h1M63.95 255.2h1M44.4 268.86h1M71.73 250.64h1M59.97 258.43h1M53.55 263.09h1M69.21 251.24h1M65.56 255.19h1M82.47 242.9h1M71.77 249.52h1M111.87 224.78h1M74.61 250h1M65.42 254.07h1M98.14 232.96h1M97.26 232.57h1M71.62 250.58h1M100.11 232.3h1M82.86 245.46h1M96.76 233.97h1M71.89 251.11h1M108.8 224.63h1M98.87 231.01h1M71.1 252.23h1M47.35 267.03h1M54.76 264.4h1M68 252.67h1M110.6 225.89h1M58.93 258.59h1M100.86 229.98h1M77.71 248.46h1M53.79 263.53h1M96.11 236.54h1M59.15 262.36h1M63.05 255.86h1M94.82 234.81h1M65.78 253.83h1M55.2 261.51h1M87.84 239.52h1M105.56 230.06h1M74.58 249.43h1M93.22 234.7h1M69.28 252.85h1M86.08 242.9h1M46.36 268.54h1M77.86 248.93h1M71.16 250.43h1M85.65 241.79h1M103.15 231.69h1M83.26 242.73h1M100.14 230.89h1M80.55 247.41h1M46.4 267.56h1M59.27 259.2h1M101.32 233.17h1M81.39 245.29h1M59.27 258.08h1M74.6 248.41h1M106.43 226.76h1M97 233.01h1M73.3 252.3h1M88.06 238.38h1M82.25 243.1h1M92.7 238.36h1M51.67 267.06h1M67.49 254.72h1M86.06 243.95h1M79.8 247.01h1M81.22 245.26h1M65.59 254.69h1M104.7 229.8h1M88.66 240.54h1M89.72 237.35h1M82.34 242.51h1M99.72 230.76h1M83.17 242.4h1M47.96 268.35h1M71.9 252.46h1M59.63 259.65h1M71.48 250.84h1M81.72 242.92h1M87.5 238.62h1M69.76 253.33h1M94.42 236.96h1M40.87 271.03h1M62.54 259.87h1M70.8 253.18h1M64.39 257.38h1M64.36 257.3h1M74.27 247.87h1M84.79 241.62h1M62.74 258.97h1M56.42 260.48h1M68.82 251.82h1M88.9 240.71h1M84.92 240.38h1M69.84 253.13h1M83.04 242.91h1M75.94 246.94h1M111.11 226.07h1M63.33 255.73h1M71.16 253.29h1M45.7 267.94h1M99.65 232.31h1M80.54 245.26h1M74.11 248.38h1M82.49 245.57h1M106.81 228.36h1M86.17 243.04h1M44.35 268.63h1M44.17 270.74h1M47 270.62h1M72.24 249.46h1M101.51 230.87h1M51.81 266.69h1M98.61 234.03h1M105.46 227.02h1M109.43 223.46h1M101.2 230.44h1M78.23 245.02h1M79.68 247.67h1M59.54 260.37h1M80.82 246h1M90.17 239.79h1M56.39 260.11h1M52.63 262.69h1M83.48 243.73h1M112.24 222.07h1M84.41 244.21h1M78.98 247.65h1M68.44 252.36h1M42.57 270.87h1M80.34 244h1M64.01 259.16h1M51.23 265.55h1M105.68 228.58h1M81.22 244.34h1M112.9 222.87h1M85.31 241.57h1M95.2 233.76h1M102.84 228.57h1M110.86 224.68h1M101.36 230.15h1M98.31 232.08h1M47.59 266.92h1M61.51 259.34h1M39.7 271.92h1M73.99 249.73h1M52.03 263.15h1M71.87 250.09h1M47.52 269.02h1M106.62 225.52h1M43.22 270.07h1M106.4 225.85h1M52.08 263.76h1M66.26 254.78h1M74.24 250.57h1M46.09 268.42h1M103.71 227.99h1M96.58 235.24h1M59.77 259.64h1M62.66 255.77h1M86.57 242.27h1M57.08 262.72h1M54.1 263.88h1M76.57 248.64h1M61.53 257.58h1M53.69 262.45h1M72.33 249.55h1M53.37 262.24h1M88.46 240.06h1M83.62 245.14h1M85.77 240.84h1M87.49 239.25h1M53.2 264.62h1M54.12 262.76h1M47.35 266.95h1M83.41 243.48h1M111.64 225.25h1M56.76 260.98h1M78.79 244.75h1M94.34 235.78h1M112.19 222.49h1M79.28 244.97h1M50.74 264.61h1M41.59 270.82h1M51.36 266.19h1M54.85 261.28h1M92.98 237.14h1M65.38 257.12h1M61.07 257.51h1M94.84 233.86h1M106.66 225.81h1M107.72 225.71h1M40.15 272.06h1M72.4 249.48h1M53.42 266.28h1M70.27 251.98h1M62.98 259.44h1M101.81 232.12h1M65.68 253.88h1M40.01 271.85h1M98.42 234.62h1M44.3 272.2h1M67.71 255.6h1M59.62 258.91h1M61.07 256.84h1M89.23 237.88h1M100.73 230.2h1M47.04 268.76h1M78.63 249.07h1M57.85 260.13h1M80.54 246.36h1M41.35 271.15h1M106.2 229.97h1M111.64 223.44h1M56.19 262.25h1M110.96 225.14h1M59.8 258.34h1M47.54 268.57h1M47.02 268.05h1M57.78 259.13h1M93.39 236.26h1M54.76 261.62h1M47.45 267.28h1M96.51 236.51h1M76.29 246.33h1M87.77 239.3h1M68.79 255.53h1M100.4 230.12h1M95.09 233.37h1M106.53 227.34h1M49.42 264.92h1M101.57 233.11h1M57.76 259.44h1M106.36 225.86h1M60.76 259.02h1M95.15 234.66h1M49.25 267.24h1M77.11 248.96h1M53.1 263.76h1M79.95 243.9h1M86.32 242.03h1M102.31 232.67h1M67.71 256.39h1M59.32 258.78h1M60.26 257.9h1M87.12 241.28h1M107.89 226.68h1M55.56 264.75h1M96.26 234.45h1M75.54 247.57h1M50.66 266.93h1M83.06 241.66h1M38.96 272.44h1M45.26 269.26h1M56.14 260.73h1M83.16 241.83h1M109.38 227.06h1M98.4 233.63h1M77.56 245.73h1M105.65 226.17h1M42.45 271.62h1M70.78 250.27h1M52.11 264.81h1M60.59 258.53h1M106.79 227.35h1M70.31 251.08h1M50.68 264.76h1M96.7 232.26h1M52.02 263.22h1M47.09 266.62h1M110.7 223.03h1M95.16 236.63h1M59.96 260.86h1M44.9 271.6h1M60.56 258.93h1M90.68 237.12h1M96.2 234.47h1M86.43 240.57h1M91.14 236.45h1M42.6 271.69h1M80.37 244.31h1M55.88 261.13h1M69.18 251.65h1M46.57 270.11h1M100.37 230.82h1M46.56 269.71h1M58.77 260.12h1M56.87 263.1h1M93.55 237.07h1M78.89 245.75h1M97.82 231.53h1M54.85 264.24h1M101.16 229.17h1M58.73 258.46h1M66.07 255.58h1M42.81 270.49h1M101.27 233.06h1M64.09 256.46h1M95.86 237.01h1M43.24 269.38h1M56.63 264.12h1M46.31 268.44h1M73.61 248.18h1M102.73 228.11h1M69.74 251.04h1M92.35 236.14h1M92.89 237.28h1M83.97 242.1h1M74.05 248.3h1M91.47 236.06h1M100.51 229.61h1M82.85 243.1h1M103.49 230.04h1M104.28 227.08h1M64.69 256.28h1M104.03 229.25h1M87.19 238.92h1M51.72 264.43h1M63.97 257.17h1M42.71 271.24h1M111.62 223.65h1M101.8 228.89h1M80.66 244.54h1M71.1 251.78h1M69.77 250.94h1M98.36 232.14h1M66.96 255.74h1M105.79 228.55h1M96.52 235.09h1M55.1 261.9h1M106.64 227.33h1M80.4 244.89h1M65.43 254.2h1M108.84 225.17h1M80.78 246.41h1M81.25 246.91h1M98.77 234.28h1M99.72 232.03h1M71.02 250.94h1M41.46 271.39h1M84.88 244.64h1M83.84 243.96h1M113.26 223.55h1M64.83 258.39h1M97.84 233.29h1M74.73 250.39h1M42.43 270.27h1M101.01 229.99h1M58.27 262.1h1M54.27 263.35h1M112.14 221.64h1M88.65 238.15h1M49.6 265.83h1M101.71 230.91h1M81.55 243.05h1M96.96 232.89h1M102.41 229.09h1M108.89 226.27h1M81.26 246.41h1M87.79 240.9h1M104.94 227.83h1M67.44 253.3h1M85.81 243.35h1M105.03 226.85h1M106.53 228.55h1M56.17 264.49h1M69.32 251.46h1M46.56 268.09h1M60.14 257.74h1M90.08 238.42h1M76.54 247.45h1M111.37 223.01h1M78.4 248.18h1M102.35 230.29h1M59.44 261.42h1M42.79 272.45h1M89.68 238.04h1M101.37 233.37h1M57.2 263.19h1M60.13 257.52h1M86.01 241.34h1M96.35 234.06h1M71.14 251.4h1M75.75 250.18h1M77.89 246.39h1M88.75 237.73h1M71.82 253.66h1M108.87 228.02h1M61.85 260.49h1M91.67 238.09h1M112.09 221.63h1M54.78 262.29h1M72.68 251.59h1M63.8 256.52h1M97.19 232.52h1M55.26 261.14h1M54.11 264.87h1M100.87 230.89h1M55.05 261h1M90.53 237.32h1M98.9 232.41h1M74.32 248.51h1M98.14 231.99h1M97.31 234.04h1M99.54 232.73h1M73.68 249.51h1M47.47 269.5h1M96.25 234.18h1M87.06 241.6h1M60.87 260.01h1M89.62 238.3h1M63.94 256.52h1M59.09 261.67h1M108.25 224.72h1M65.16 256.59h1M56.35 263.53h1M79.87 246.85h1M98.27 235.18h1M78.52 244.98h1M101.39 229.02h1M41.45 270.39h1M112.31 224.16h1M47.33 268.94h1M86.52 240.18h1M88.79 239.19h1M83.42 243.84h1M106.86 227.01h1M45.71 267.72h1M52.36 263.65h1M40.64 272.01h1M101.36 229.24h1M80.43 247.08h1M75.88 248.59h1M73.34 248.81h1M48.53 267.32h1M62.64 258.44h1M87.16 242.18h1M54.16 261.63h1M79.91 247.29h1M86.7 239.91h1M73.65 249.88h1M106.05 226.26h1M82.3 242.9h1M92.39 235.36h1M77.1 246.98h1M53.65 262.7h1M41.13 273.49h1M95.48 233.19h1M92.25 235.54h1M69.59 251.35h1M92.4 237.85h1M81.31 245.24h1M105.08 226.53h1M106.27 227.11h1M45.86 267.7h1M84.03 244.78h1M89.12 241.17h1M50.36 264.34h1M102.66 229.64h1M68.39 251.92h1M107.44 227.67h1M95.98 233.17h1M93.46 236.22h1M78.66 246.79h1M95.44 234h1M73.5 248.53h1M96.74 233.4h1M92.19 236.07h1M112.88 224.8h1M78.84 244.84h1M99.72 234.27h1M51.42 264.59h1M69.54 253.38h1M73.87 248.01h1M99.62 230.23h1M81.78 246.06h1M96.14 235.61h1M94 235.57h1M66.06 256.19h1M99.33 232.77h1M72.71 214.71h1M105.34 222.33h1M81.07 215.99h1M99.35 220.68h1M79.65 215.75h1M109.51 223.18h1M67.8 213.49h1M95.92 220.24h1M74.46 214.63h1M97.54 219.96h1M80.87 216.05h1M114.05 223.8h1M98.18 220.75h1M80.73 216.31h1M107.65 222.6h1M91.41 218.51h1M102.2 221.32h1M75.92 214.73h1M91.1 218.59h1M100.65 221.11h1M82.34 216.6h1M95.18 219.71h1M68.45 213.24h1M85.16 217.49h1M88.29 218.66h1M89.85 218.73h1M113.34 223.56h1M95.83 219.81h1M85.87 218.11h1M94.47 219.77h1M95.08 219.75h1M113.81 224.41h1M78 215.36h1M84.5 217.09h1M65.89 213.37h1M73.26 214.77h1M113.24 223.79h1M98.35 221.07h1M66.6 213.8h1M69.21 213.41h1M111.36 223.57h1M103.02 222.17h1M106.8 222.14h1M78.68 216.6h1M112.01 223.26h1M85.83 217.39h1M85.82 217.3h1M86.65 218.45h1M84.87 217.25h1M65.54 213.29h1M84.44 217.5h1M69.6 213.82h1M82.48 216.81h1M71.02 214.89h1M113.26 223.75h1M74.69 214.84h1M98.17 219.83h1M113.16 224.32h1M71.87 213.99h1M66.37 213.08h1M83.99 217.7h1M102.87 221.09h1M79.38 215.49h1M96.48 220.06h1M107.85 223.35h1M93.11 219.97h1M83.51 217.52h1M96.99 219.96h1M79.71 216.49h1M81.61 216.4h1M73.29 215.38h1M82.04 216.82h1M71.24 214.42h1M87.75 218.69h1M97.69 220.51h1M91.88 219.43h1M89.36 218.2h1M106.14 222.88h1M79.91 216.75h1M109.5 223.35h1M102.35 221.16h1M99.22 221.12h1M112.51 223.89h1M88.74 218.51h1M103.67 221.3h1M83.28 217.22h1M65.43 213.65h1M70.51 214.76h1M68.94 214.04h1M66.62 212.79h1M92.73 219.44h1M70.76 214.08h1M81.96 216.91h1M80.44 216.57h1M76.83 216.12h1M89.19 218.46h1M94 219.29h1M109.89 222.91h1M105.66 222.07h1M94.92 219.43h1M75.9 215.84h1M88.64 218.34h1M108.4 222.58h1M103.75 222.03h1M81.38 216.34h1M71.22 213.84h1M84.25 217.1h1M76.91 215.65h1M91.36 218.34h1M95.18 219.81h1M84.06 217.18h1M103.95 221.31h1M76.51 215.69h1M82.08 217.1h1M112.03 224.17h1M104.25 222.46h1M104.62 222.02h1M99.14 220.56h1M102.54 221.88h1M112.96 224.74h1M91 219.18h1M67.36 213.93h1M87.47 218.5h1M99.39 220.76h1M95.34 220.3h1M104.58 222.29h1M102.45 221.49h1M93.63 219.69h1M97.34 220.18h1M110.33 223.99h1M89.22 218.53h1M110.59 223.56h1M103.66 221.8h1M102.83 221.94h1M84.46 216.79h1M98.17 220.77h1M87.65 217.95h1M113.19 223.87h1M95.71 220.21h1M90.7 219.35h1M107.99 222.72h1M98.84 220.83h1M102.13 221.35h1M113.54 223.76h1M90.64 219.17h1M74.31 214.57h1M77.34 216.13h1M107.18 223.21h1M65.76 212.72h1M88.96 218.62h1M45.28 227.16h1M52.42 221.99h1M61.29 215.13h1M57.51 218.4h1M40.12 230.08h1M43.46 229h1M40.54 230.07h1M39.36 230.26h1M42.31 228.35h1M59.61 216.51h1M50.16 223.87h1M41.97 229.02h1M54.39 220.89h1M65.51 213.79h1M40.95 230.08h1M58 218.55h1M55.35 219.88h1M62.54 215.61h1M63.12 215.23h1M63.04 214.77h1M40.78 230.16h1M45.07 226.87h1M51.28 222.55h1M50.09 223.81h1M53.21 221.4h1M57.72 218.7h1M40.27 229.78h1M59.55 217.04h1M58.98 216.92h1M62.39 214.99h1M49.32 223.77h1M55 219.43h1M62.91 214.28h1M47.01 225.69h1M39.16 231.08h1M59.87 217.12h1M55.13 219.43h1M62.17 215.03h1M60.31 216.33h1M42.98 228.96h1M50.29 223.43h1M46.32 226.18h1M61.78 215.84h1M47.17 225.43h1M40.47 230.14h1M61.15 216h1M45.84 226.13h1M63.2 215.27h1M60.48 217.24h1M51.52 222.6h1M40.93 230.03h1M41.22 229.72h1M38.89 230.73h1M61.91 214.86h1M48.38 224.3h1M64.84 213.79h1M53.69 220.83h1M43.32 228.17h1M64.91 214.15h1M49.67 223.58h1M42.39 229.44h1M56.33 219.68h1M47.01 226.38h1M54.75 220.66h1M64.38 213.79h1M44.2 227.98h1M48.05 224.19h1M54.88 220.81h1M39.67 231.09h1M50.12 223.31h1M42.44 228.51h1M54.35 221.13h1M45.74 226.19h1M50.38 223.01h1M59.26 216.87h1M64.38 214.19h1M41.08 230.2h1M53.89 221.39h1M51.98 222.07h1M50.9 223.34h1M55.12 219.86h1M53.5 221.37h1M65.22 213.42h1M61.92 215.54h1M56.26 219.11h1M39.91 230.99h1M64.49 214.59h1M42.21 229.4h1M51.63 222.59h1M48.7 224h1M40.68 269.41h1M40.05 261.17h1M39.52 239.06h1M40.01 247.89h1M39.95 261.98h1M39.23 236.46h1M39.36 243.14h1M39.74 254.47h1M40.4 272.92h1M40.76 274h1M40.48 262.95h1M39.97 247.51h1M39.51 236.01h1M39.94 260.54h1M39.92 240.47h1M40.1 264.96h1M40.37 265.76h1M39.95 243.5h1M39.69 251.07h1M39.84 242.56h1M40.48 252.91h1M40.31 269.72h1M39.61 241.73h1M40.03 249.31h1M39.92 254.2h1M39.61 231.4h1M39.75 254.18h1M40.41 250.89h1M38.92 232.36h1M39.94 243.1h1M40.03 253.98h1M39 233.22h1M39.94 260.55h1M40.79 274.91h1M40.62 263.38h1M40.28 255.11h1M39.57 252.21h1M41.08 270.65h1M40.78 263.92h1M38.89 233.15h1" stroke="#470707" stroke-width="1" fill="none"/><rect x="144.5" y="258.25" width="3.25" height="50" fill="url(#jet)" stroke="#666" stroke-width="0.25" opacity="0.93"/><g font-size="1.9" fill="#555" stroke="#555" stroke-width="0.07" font-family="Liberation Sans, sans-serif"><text x="148.35" y="260.93">88</text><text x="148.35" y="267.18">87</text><text x="148.35" y="273.43">86</text><text x="148.35" y="279.68">85</text><text x="148.35" y="285.93">84</text><text x="148.35" y="292.18">83</text><text x="148.35" y="298.43">82</text><text x="148.35" y="304.68">81</text></g></g><g><polygon points="210.3,227 249.6,203.8 250.18,253.87 212,280.25" fill="#f8f8f8"/><polygon points="249.6,203.8 312.75,217.5 312.75,267.75 250.18,253.87" fill="#f4f4f4"/><polygon points="212,280.25 250.18,253.87 312.75,267.75 275.75,297.75" fill="#f3f3f3"/><path d="M210.3 227L249.6 203.8M249.6 203.8L312.75 217.5M210.49 232.8L249.66 209.25M249.66 209.25L312.75 222.97M210.67 238.6L249.73 214.71M249.73 214.71L312.75 228.44M210.86 244.39L249.79 220.16M249.79 220.16L312.75 233.91M211.04 250.19L249.85 225.61M249.85 225.61L312.75 239.39M211.23 255.99L249.92 231.06M249.92 231.06L312.75 244.86M211.41 261.79L249.98 236.52M249.98 236.52L312.75 250.33M211.6 267.59L250.04 241.97M250.04 241.97L312.75 255.8M211.78 273.39L250.11 247.42M250.11 247.42L312.75 261.27M211.97 279.19L250.17 252.87M250.17 252.87L312.75 266.75" stroke="#ebebeb" stroke-width="0.45" fill="none"/><path d="M212.76 279.72L211.09 226.54M212.76 279.72L276.49 297.15M217.92 276.16L216.39 223.4M217.92 276.16L281.49 293.1M223.07 272.6L221.7 220.27M223.07 272.6L286.48 289.05M228.23 269.04L227 217.14M228.23 269.04L291.48 285M233.38 265.48L232.31 214.01M233.38 265.48L296.47 280.95M238.54 261.92L237.61 210.88M238.54 261.92L301.46 276.9M243.69 258.36L242.92 207.74M243.69 258.36L306.46 272.85M248.85 254.8L248.22 204.61M248.85 254.8L311.46 268.8M251.43 254.15L250.86 204.07M213.27 280.6L251.43 254.15M261.13 256.3L260.65 206.2M223.16 283.31L261.13 256.3M270.83 258.45L270.44 208.32M233.04 286.02L270.83 258.45M280.53 260.6L280.23 210.44M242.92 288.74L280.53 260.6M290.23 262.75L290.02 212.57M252.8 291.45L290.23 262.75M299.92 264.91L299.8 214.69M262.68 294.16L299.92 264.91M309.62 267.06L309.59 216.81M272.56 296.88L309.62 267.06" stroke="#efefef" stroke-width="0.4" fill="none"/><path d="M250.18 253.87L249.6 203.8M250.18 253.87L212 280.25M250.18 253.87L312.75 267.75" stroke="#ececec" stroke-width="0.5" fill="none"/><path d="M212 280.25L275.75 297.75M275.75 297.75L312.75 267.75M312.75 267.75L312.75 217.5" stroke="#909090" stroke-width="0.45" fill="none"/><path d="M213.27 280.6L212.13 281.39M223.16 283.31L222.02 284.12M233.04 286.02L231.9 286.85M242.92 288.74L241.79 289.58M252.8 291.45L251.68 292.31M262.68 294.16L261.56 295.04M272.56 296.88L271.45 297.77M276.49 297.15L278.4 297.67M281.49 293.1L283.39 293.61M286.48 289.05L288.38 289.54M291.48 285L293.37 285.48M296.47 280.95L298.36 281.41M301.46 276.9L303.35 277.35M306.46 272.85L308.34 273.28M311.46 268.8L313.33 269.22M312.75 217.5L314.05 217.75M312.75 222.97L314.05 223.22M312.75 228.44L314.05 228.69M312.75 233.91L314.05 234.16M312.75 239.39L314.05 239.64M312.75 244.86L314.05 245.11M312.75 250.33L314.05 250.58M312.75 255.8L314.05 256.05M312.75 261.27L314.05 261.52M312.75 266.75L314.05 267" stroke="#888" stroke-width="0.4" fill="none"/><g font-size="2.6" fill="#3a3a3a" stroke="#3a3a3a" stroke-width="0.11" font-family="Liberation Sans, sans-serif"><text x="209.61" y="284.18">0</text><text x="219.51" y="286.94">1</text><text x="229.4" y="289.69">2</text><text x="239.3" y="292.45">3</text><text x="249.19" y="295.2">4</text><text x="259.09" y="297.96">5</text><text x="268.98" y="300.71">6</text><text x="232.3" y="294.29">Xaxis</text><text x="280.33" y="299.78">0</text><text x="285.32" y="295.7">1</text><text x="290.3" y="291.62">2</text><text x="295.29" y="287.54">3</text><text x="300.27" y="283.46">4</text><text x="305.26" y="279.37">5</text><text x="310.24" y="275.29">6</text><text x="315.22" y="271.21">7</text><text x="300.36" y="287.5">Yaxis</text></g><g font-size="2.0" fill="#444" stroke="#444" stroke-width="0.1" font-family="Liberation Sans, sans-serif"><text x="314.45" y="218.7">90</text><text x="314.45" y="224.17">89</text><text x="314.45" y="229.64">88</text><text x="314.45" y="235.11">87</text><text x="314.45" y="240.59">86</text><text x="314.45" y="246.06">85</text><text x="314.45" y="251.53">84</text><text x="314.45" y="257">83</text><text x="314.45" y="262.47">82</text><text x="314.45" y="267.94">81</text></g><text transform="translate(319.05 242.62) rotate(-90)" font-size="2.3" fill="#555" stroke="#555" stroke-width="0.08" font-family="Liberation Sans, sans-serif" text-anchor="middle">Precision</text><ellipse cx="255.3" cy="218.3" rx="1.08" ry="1.95" fill="#b8b2b2"/><ellipse cx="258.9" cy="220.9" rx="1.08" ry="1.95" fill="#9a9292"/><ellipse cx="281.4" cy="224.5" rx="1.08" ry="1.95" fill="#40060f"/><ellipse cx="261.3" cy="235.8" rx="1.08" ry="1.95" fill="#40060f"/><ellipse cx="252.8" cy="241.9" rx="1.08" ry="1.95" fill="#40060f"/><ellipse cx="269.8" cy="241.9" rx="1.08" ry="1.95" fill="#48101a"/><ellipse cx="291.7" cy="244.5" rx="1.08" ry="1.95" fill="#40060f"/><ellipse cx="277.9" cy="254.6" rx="1.08" ry="1.95" fill="#40060f"/><ellipse cx="243.75" cy="270" rx="1.08" ry="1.95" fill="#6a2028"/><ellipse cx="228.5" cy="273.75" rx="1.08" ry="1.95" fill="#70262e"/><rect x="334.25" y="260.75" width="3.25" height="42.5" fill="url(#jet)" stroke="#666" stroke-width="0.25" opacity="0.93"/><g font-size="1.9" fill="#555" stroke="#555" stroke-width="0.07" font-family="Liberation Sans, sans-serif"><text x="338.1" y="263.14">88</text><text x="338.1" y="268.46">87</text><text x="338.1" y="273.77">86</text><text x="338.1" y="279.08">85</text><text x="338.1" y="284.39">84</text><text x="338.1" y="289.71">83</text><text x="338.1" y="295.02">82</text><text x="338.1" y="300.33">81</text></g></g><g><polygon points="396.7,232.6 435,210 435.74,260.52 399,287" fill="#f8f8f8"/><polygon points="435,210 495.75,223.25 495.75,274 435.74,260.52" fill="#f4f4f4"/><polygon points="399,287 435.74,260.52 495.75,274 461.5,306.5" fill="#f3f3f3"/><path d="M396.7 232.6L435 210M435 210L495.75 223.25M397.03 240.37L435.11 217.22M435.11 217.22L495.75 230.5M397.36 248.14L435.21 224.43M435.21 224.43L495.75 237.75M397.69 255.91L435.32 231.65M435.32 231.65L495.75 245M398.01 263.69L435.43 238.87M435.43 238.87L495.75 252.25M398.34 271.46L435.53 246.09M435.53 246.09L495.75 259.5M398.67 279.23L435.64 253.3M435.64 253.3L495.75 266.75M399 287L435.74 260.52M435.74 260.52L495.75 274" stroke="#ebebeb" stroke-width="0.45" fill="none"/><path d="M399.73 286.47L397.47 232.15M399.73 286.47L462.19 305.85M404.7 282.9L402.64 229.1M404.7 282.9L466.81 301.46M409.66 279.32L407.81 226.05M409.66 279.32L471.43 297.07M414.62 275.75L412.98 223M414.62 275.75L476.06 292.69M419.58 272.17L418.15 219.94M419.58 272.17L480.68 288.3M424.54 268.6L423.32 216.89M424.54 268.6L485.3 283.91M429.5 265.02L428.49 213.84M429.5 265.02L489.93 279.52M434.46 261.45L433.66 210.79M434.46 261.45L494.55 275.14M436.94 260.79L436.22 210.26M400.25 287.39L436.94 260.79M446.25 262.88L445.63 212.32M409.94 290.41L446.25 262.88M455.55 264.97L455.05 214.37M419.62 293.44L455.55 264.97M464.85 267.06L464.46 216.43M429.31 296.46L464.85 267.06M474.15 269.15L473.88 218.48M439 299.48L474.15 269.15M483.45 271.24L483.3 220.53M448.69 302.5L483.45 271.24M492.75 273.33L492.71 222.59M458.38 305.53L492.75 273.33" stroke="#efefef" stroke-width="0.4" fill="none"/><path d="M435.74 260.52L435 210M435.74 260.52L399 287M435.74 260.52L495.75 274" stroke="#ececec" stroke-width="0.5" fill="none"/><path d="M399 287L461.5 306.5M461.5 306.5L495.75 274M495.75 274L495.75 223.25" stroke="#909090" stroke-width="0.45" fill="none"/><path d="M400.25 287.39L399.15 288.19M409.94 290.41L408.85 291.24M419.62 293.44L418.55 294.29M429.31 296.46L428.25 297.34M439 299.48L437.95 300.39M448.69 302.5L447.64 303.44M458.38 305.53L457.34 306.49M462.19 305.85L464.06 306.43M466.81 301.46L468.67 302.02M471.43 297.07L473.29 297.61M476.06 292.69L477.9 293.2M480.68 288.3L482.51 288.78M485.3 283.91L487.13 284.37M489.93 279.52L491.74 279.96M494.55 275.14L496.35 275.55M495.75 223.25L497.05 223.5M495.75 230.5L497.05 230.75M495.75 237.75L497.05 238M495.75 245L497.05 245.25M495.75 252.25L497.05 252.5M495.75 259.5L497.05 259.75M495.75 266.75L497.05 267M495.75 274L497.05 274.25" stroke="#888" stroke-width="0.4" fill="none"/><g font-size="2.6" fill="#3a3a3a" stroke="#3a3a3a" stroke-width="0.11" font-family="Liberation Sans, sans-serif"><text x="396.7" y="290.99">0</text><text x="406.41" y="294.08">1</text><text x="416.13" y="297.17">2</text><text x="425.85" y="300.26">3</text><text x="435.56" y="303.35">4</text><text x="445.28" y="306.45">5</text><text x="455" y="309.54">6</text><text x="419.05" y="302.15">Xaxis</text><text x="465.94" y="308.61">0</text><text x="470.55" y="304.17">1</text><text x="475.15" y="299.73">2</text><text x="479.75" y="295.29">3</text><text x="484.35" y="290.85">4</text><text x="488.95" y="286.41">5</text><text x="493.56" y="281.97">6</text><text x="498.16" y="277.53">7</text><text x="484.57" y="295.19">Yaxis</text></g><g font-size="2.0" fill="#444" stroke="#444" stroke-width="0.1" font-family="Liberation Sans, sans-serif"><text x="497.45" y="224.45">90</text><text x="497.45" y="231.7">89</text><text x="497.45" y="238.95">88</text><text x="497.45" y="246.2">87</text><text x="497.45" y="253.45">86</text><text x="497.45" y="260.7">85</text><text x="497.45" y="267.95">84</text><text x="497.45" y="275.2">83</text></g><text transform="translate(502.05 248.62) rotate(-90)" font-size="2.3" fill="#555" stroke="#555" stroke-width="0.08" font-family="Liberation Sans, sans-serif" text-anchor="middle">Precision</text><polygon points="415.25,241.25 438.5,225.2 483.87,235.78 415.03,270.73" fill="#470707" stroke="#470707" stroke-width="0.5" stroke-linejoin="round"/><path d="M426.21 266.28h1M463.19 246.23h1M436.11 261.24h1M436.81 262.76h1M479.49 239.31h1M466.41 246.46h1M452.55 252.7h1M439.08 258.04h1M419.96 271.83h1M442.45 257.15h1M451.36 251.26h1M483.8 235.8h1M452.57 250.76h1M462.79 245.12h1M420.11 269.69h1M442.82 256.02h1M464.88 243.47h1M445.42 255.1h1M445.31 256.23h1M446.25 257.52h1M443.61 255.33h1M437.87 260.94h1M429.96 265.3h1M443.18 257h1M438.16 260.46h1M474.45 238.66h1M465.04 246.08h1M483.48 235.13h1M428.12 264.78h1M443.72 258.96h1M430.28 265.35h1M433.11 261.71h1M449.43 255.33h1M432.5 262.13h1M430.85 263.47h1M460.07 248.8h1M448.64 254.5h1M441.72 256.46h1M479.85 238.85h1M472.24 239.66h1M470.56 240.31h1M417.25 273.47h1M484.04 234.92h1M416.09 272.09h1M452.17 250.61h1M476.28 238.74h1M446.85 255.76h1M453.73 250.66h1M468.54 242.9h1M444.31 258.13h1M427.45 265.2h1M455.48 248.74h1M477.01 236.79h1M484.29 233.91h1M476.63 236.8h1M439.71 258.02h1M424.54 267.89h1M440.48 257.44h1M472.21 240.93h1M416.72 273.95h1M455.85 249.88h1M453.17 250.88h1M461.61 248.18h1M431.33 264.98h1M481.14 235.81h1M442.91 256.39h1M459.36 250.47h1M450.97 252.69h1M420.27 271.8h1M459.11 248.65h1M432.04 264.13h1M454.05 249.5h1M462.62 247.11h1M461.74 247.44h1M417.95 273.21h1M428.37 267.22h1M446.75 254.46h1M418.88 269.53h1M460.37 246.83h1M448.03 254.8h1M441.63 259.82h1M422.46 268.22h1M437.01 260.64h1M455.26 249.68h1M433.17 262.51h1M457.15 248.94h1M463.25 248.09h1M420.55 269.8h1M457.46 251.5h1M482.52 237.23h1M466.96 243.82h1M434.94 260.41h1M464.3 244.15h1M436.23 262.59h1M444.12 255.12h1M425 266.14h1M465.49 245.02h1M472.07 241.55h1M463.47 244.64h1M433.26 262.21h1M479.68 236.69h1M457.56 249.07h1M475.98 241.15h1M444.51 257.52h1M422 270.11h1M434.91 260.52h1M482.41 234.69h1M462.63 245.52h1M482.36 234.2h1M426.6 266.19h1M454.95 252.35h1M462.64 246.92h1M467.61 244.35h1M454.42 253.25h1M465.58 243.02h1M478.02 239.85h1M424.64 268.61h1M454.02 252.96h1M418.82 271.15h1M438.83 260.55h1M463.08 247.16h1M423.25 270.4h1M423.92 267.71h1M477.02 236.61h1M447.21 253.47h1M428.81 264.64h1M439.48 259.49h1M469.4 240.9h1M416.14 271.32h1M452.87 254.14h1M427.11 268.02h1M422.49 270.17h1M453.36 249.99h1M481.6 236.99h1M414.54 271.99h1M471.25 241.3h1M478.41 237.08h1M417.66 272.89h1M448.05 255.83h1M458.19 249.83h1M441.18 258.21h1M435.78 263.53h1M468.13 244.24h1M436.24 261.05h1M450.44 252.02h1M429.75 263.06h1M481.52 236.49h1M425.29 267.48h1M415.03 271.39h1M483.22 236.48h1M469.34 243.21h1M441.38 260.58h1M425.23 265.65h1M458.07 247.23h1M479.76 236.66h1M440.53 258.22h1M481.04 236.75h1M474.05 241.85h1M473.57 239.02h1M466.04 244.91h1M438.16 261.29h1M456.03 249.5h1M422.26 270.86h1M416.26 273.56h1M448.94 252.75h1M442.53 256.52h1M431.76 265.29h1M471.31 241.39h1M451.89 254.21h1M414.6 273.41h1M469.94 243.65h1M434.56 264.12h1M450.9 252.49h1M467.33 244h1M461.79 248.8h1M431.27 265.46h1M446.89 255.56h1M448.49 252.69h1M420.71 270.67h1M459.91 248.75h1M471.15 240.19h1M470.34 243.12h1M437.27 262.04h1M420.65 270.45h1M428.66 264.63h1M456.11 250.52h1M463.33 246.91h1M462.87 248.15h1M474.8 237.87h1M425.91 267.06h1M440.48 257.09h1M444.57 257.96h1M428.12 264.68h1M462.3 245.11h1M477.69 239.55h1M439.56 258.18h1M465.44 243.38h1M426.62 268.52h1M479.97 237.71h1M418.4 269.67h1M457.4 247.58h1M477.1 237.56h1M479.4 236.41h1M458.66 249.59h1M447.45 253.36h1M474.25 242.06h1M444.57 255.8h1M425.61 267.03h1M430.04 266.99h1M457.67 247.47h1M455.45 251.94h1M458.56 250.16h1M463.56 245.81h1M474.65 240.74h1M483.73 232.85h1M465.44 243.42h1M469.32 240.92h1M431.41 265.79h1M480.7 236.24h1M426.71 265.19h1M436.55 260.14h1M473.52 240.02h1M427.82 267.89h1M447.61 253.77h1M468.46 243.93h1M460.25 246.54h1M463.76 245.87h1M470.76 240.1h1M447.61 255.33h1M456.8 248.1h1M465.67 243.21h1M466.83 244.78h1M482.8 233.45h1M459.58 247.81h1M475.28 239.33h1M458.26 247.43h1M415.02 271.35h1M452.79 251.35h1M450.67 252.89h1M467.21 242.25h1M419.94 269.46h1M415.98 271.13h1M463.92 247.06h1M452.84 250.42h1M418.54 271.14h1M458.89 248.16h1M465.03 244.51h1M478.67 239.02h1M422.77 269.87h1M434.53 261.98h1M439.82 258.11h1M432.43 263.58h1M456.27 251.66h1M454.91 251.75h1M426.16 265.86h1M452.27 253.12h1M421.8 270.63h1M431.98 265.71h1M456.81 251.12h1M473.43 239.35h1M483.5 236.95h1M428.06 267.63h1M475.12 239.89h1M441.19 256.67h1M457.78 249.23h1M443.14 255.94h1M426.92 268.27h1M446 257.74h1M459.8 246.3h1M444.05 257.74h1M456.21 248.91h1M456.54 248.48h1M431 264.17h1M435.56 262.82h1M448.13 252.91h1M436.94 262.27h1M455.99 251.98h1M446.84 255.62h1M463.12 247.22h1M464.59 244.48h1M461.06 248.87h1M480.62 234.74h1M480.09 235.27h1M462.37 245.09h1M450.84 251.29h1M456.81 251.42h1M449.19 253.58h1M475.32 237.56h1M423.79 268.61h1M429.83 264.99h1M446.08 257.77h1M453.01 250.11h1M415.52 272.88h1M427.91 264.89h1M481.44 234.15h1M424.61 268.48h1M485.23 234.35h1M472 242.39h1M434.2 264.02h1M417.04 270.89h1M462.98 247.6h1M435.16 261.63h1M484.03 233.1h1M437.05 259.95h1M442.85 257.21h1M462.48 247.67h1M470.41 240.72h1M421.66 269.68h1M436.33 260.27h1M434.31 264.24h1M458.43 247.06h1M479.16 235.69h1M480.7 235.71h1M463.86 244.43h1M478.36 238.36h1M467.25 246.07h1M421.94 267.56h1M415.39 273.17h1M472.02 241.11h1M455.38 248.93h1M454.97 252.67h1M421.32 270.43h1M427.33 265.88h1M468.14 242.58h1M442.8 257.97h1M463.22 245.59h1M435.12 261.39h1M442.89 257.24h1M444 255.16h1M478.24 236.31h1M428.19 267.38h1M475.67 240.01h1M418.22 272.62h1M448.79 253.97h1M458.64 247.57h1M484.82 236.04h1M449.94 251.91h1M422.82 267.18h1M437.12 259.42h1M448.19 253.45h1M485.24 234.13h1M417.27 271.17h1M449.74 255.91h1M435.17 260.15h1M415.41 271.33h1M479.2 235.56h1M482.12 234h1M459.01 247.99h1M440.33 258.5h1M455.95 248.86h1M432.47 264.62h1M469.89 243.72h1M463.44 244.37h1M453.46 252.87h1M455.68 249.07h1M433.7 264.2h1M447.84 256.62h1M444.27 255.65h1M447.1 253.35h1M463.52 247.42h1M443.52 257.33h1M446.93 255.31h1M476.82 240.2h1M458.39 247.03h1M462.03 245.88h1M463.7 244.7h1M482.58 237.02h1M426.78 265.37h1M457.52 248.11h1M461.25 246.7h1M414.74 271.49h1M442.85 257.63h1M428.11 268.05h1M432.71 262.01h1M462.37 245.2h1M456.02 248.68h1M449.55 252.1h1M465.84 246.94h1M479.99 236.18h1M432.73 264.04h1M437.78 259.44h1M479.73 235.52h1M475.45 240.03h1M446.25 257.32h1M453.43 249.96h1M468.06 241.87h1M467.96 241.68h1M437.27 261.03h1M468.29 244.66h1M456.86 248.58h1M451.87 251.12h1M472.9 240.14h1M475.14 238.73h1M427.57 264.97h1M464.1 243.86h1M419.15 269.03h1M436.15 261.47h1M438.45 261h1M468.97 243.05h1M466.64 243.14h1M425.13 266.25h1M426.88 266.5h1M460.7 247.49h1M446.52 256.96h1M454.79 250.63h1M431.98 262.4h1M451.94 251.45h1M427.64 266.53h1M435.33 260.34h1M462.12 248.7h1M425.04 267.63h1M474.3 239.26h1M427.56 264.81h1M452.61 253.47h1M470.97 240.73h1M431.69 263.19h1M448.49 252.63h1M434.41 264.22h1M442.73 256.98h1M470.33 241.52h1M423.75 266.43h1M440.96 258.97h1M480.29 237.21h1M453.28 251.04h1M475.86 238.64h1M481.01 235.04h1M418.93 269.38h1M419.71 269.62h1M423.91 266.37h1M445.25 254.41h1M434.05 262.22h1M451.22 251.6h1M460.26 247.64h1M460.87 246.69h1M482 235.22h1M464.94 247.16h1M443.04 255.87h1M476.44 236.98h1M430.82 265.62h1M469.26 240.98h1M459.61 249.27h1M429.22 263.57h1M479.42 236.04h1M421.24 268.16h1M471.08 240.91h1M456.76 248.17h1M415.42 271.35h1M451.23 251.55h1M460.14 247.19h1M422.51 267.42h1M449.67 252.95h1M450 251.72h1M422.45 268.3h1M443.63 256h1M479.45 236.11h1M456.4 248.32h1M458.38 249.08h1M453.38 250.14h1M420.2 270.07h1M430.64 265.19h1M455.16 250.34h1M432.05 262.6h1M433.04 262.52h1M466.73 245.1h1M427.98 266.29h1M431.21 265.71h1M435.18 261.48h1M430.36 262.8h1M428.69 267.68h1M462.27 245.37h1M466.54 244.55h1M420.46 270.41h1M485.39 235.9h1M442.67 259.41h1M472.24 239.27h1M440.92 260.01h1M477.31 239.71h1M418.42 269.41h1M484.07 234.18h1M448.95 254.43h1M468.68 243.91h1M446.52 257.27h1M461.06 245.74h1M447.15 255.38h1M471.63 242.93h1M450.27 251.65h1M443.18 258.61h1M433.59 261.36h1M444.09 257.01h1M434.4 261.7h1M457.91 250.2h1M427.39 266.94h1M453.45 249.81h1M484.2 234.44h1M419.91 272.09h1M431.62 263.52h1M457.79 247.56h1M448.41 254.86h1M436.5 262.79h1M483.37 233.09h1M458.86 246.85h1M419.04 270.3h1M481.74 234.5h1M438.88 258.93h1M475.81 238.64h1M462.58 248.65h1M448.45 253.14h1M450.12 254.53h1M475.58 239.68h1M426.19 266.82h1M472.19 239.39h1M455.68 250.63h1M442.19 257.12h1M463.21 244.74h1M425.85 267.47h1M423.76 268.69h1M474.84 241.62h1M455.31 250.85h1M470.62 240.81h1M424.31 266.47h1M426.38 268.84h1M418.61 269.58h1M472.51 240.32h1M417.05 270.19h1M442.44 257.83h1M432.18 262.03h1M432.22 262.2h1M478.03 237.93h1M481.53 236.89h1M458.53 249.54h1M444.31 255.02h1M465.99 244.35h1M447.3 254.51h1M443.15 255.75h1M472.06 241.12h1M458.74 249.7h1M440.39 257.98h1M459.43 249.66h1M470.46 241.07h1M482.8 236.59h1M431.6 262.04h1M448.12 254.35h1M447.43 257.28h1M443.41 257.45h1M467.27 243.44h1M468.53 241.7h1M465.1 245.99h1M464.67 243.53h1M460.11 246.07h1M445.54 254.99h1M435.5 260.11h1M418.26 272.39h1M449.91 253.98h1M433.39 261.24h1M425.66 266.18h1M470.41 242.69h1M439.48 258.64h1M448.65 252.48h1M433.39 264.28h1M435.93 259.62h1M444.26 256.59h1M450.08 254.28h1M459.23 249.82h1M432.98 263.58h1M447.46 257.02h1M447.73 253.06h1M425.38 266.16h1M482.75 237.4h1M459.25 247h1M441.65 257.9h1M456.36 248.4h1M456.32 248.98h1M424.76 269.39h1M422.84 270.82h1M413.84 272.28h1M421.93 267.46h1M481.86 237.95h1M415.58 271.25h1M464.95 245.53h1M428.6 265.38h1M415.83 271.49h1M425.43 267.85h1M470.77 244.19h1M481.6 234.04h1M438.62 259.15h1M438.78 259.11h1M448.3 253.54h1M451.01 251.18h1M414.92 271.76h1M447.94 254.44h1M414.39 271.69h1M483.73 234.16h1M427.69 267.61h1M433.56 262.34h1M435.15 260.2h1M444.58 254.76h1M423.13 268.51h1M437.12 260.25h1M475.2 238.02h1M475.19 238.08h1M432.5 263.53h1M469.47 242.72h1M440.03 259.37h1M464.62 244.28h1M471.98 242.42h1M464.73 245.72h1M439.43 258.9h1M422.56 267.77h1M475.95 239.94h1M438.75 261.42h1M422.82 270.33h1M481.32 237.45h1M440.76 256.91h1M431.85 264.79h1M480.49 234.83h1M428.97 263.53h1M463.53 246.08h1M472.84 240.12h1M440.12 258.88h1M423.17 269.54h1M441.94 256.33h1M470.12 243.49h1M462.72 244.68h1M447.14 253.33h1M445.39 256.49h1M436.06 262.38h1M415.15 271.92h1M448.27 253.19h1M481.39 234.37h1M438.6 258.79h1M415.13 271.26h1M452.06 253.58h1M447.28 253.31h1M462.13 246.34h1M473.43 242.24h1M450.98 253.23h1M456.37 248.74h1M442.86 256.93h1M415.93 272.32h1M460.07 248.58h1M465.31 243.75h1M474.03 240.19h1M473.9 238.42h1M477.62 239.07h1M415.05 271.44h1M463.3 244.62h1M440.08 258.66h1M476.95 240.11h1M472.92 240.07h1M464.82 246.37h1M418.92 269.32h1M439.43 259.37h1M434.85 260.75h1M467.9 243.11h1M416.47 271.4h1M463.53 244.38h1M472.9 239.1h1M445.86 257.16h1M429.24 263.74h1M479.59 236.69h1M442.09 259.63h1M453.88 250.57h1M484.34 234.13h1M453.45 249.9h1M419.66 272.06h1M440.36 257.5h1M418.09 270.19h1M416.12 274.26h1M481.95 237.49h1M433.21 265.21h1M455.12 251.37h1M471.21 239.85h1M429.07 267.14h1M437.91 258.77h1M432.16 262.95h1M419.44 270.94h1M433.64 262.16h1M474.47 240.84h1M425.54 265.51h1M466.64 243.55h1M416.42 274.04h1M467.39 242.16h1M415.71 271.39h1M439.22 260.39h1M442.86 255.79h1M453.37 252.08h1M466.34 245.08h1M445.42 254.42h1M484.36 235.56h1M453.44 250.56h1M445.28 254.99h1M443.52 256.18h1M458.24 250.73h1M440.62 260.67h1M447.28 253.53h1M456.65 248.22h1M478.01 239.55h1M418.7 269.66h1M455.61 249.27h1M483.57 234.09h1M434.87 260.98h1M456.18 250.17h1M457.98 247.25h1M472.66 239.24h1M416.4 270.69h1M444.85 257.04h1M461.26 248.7h1M425.58 266.35h1M442.96 259.64h1M471.37 241.98h1M442.06 256.73h1M452.88 253.92h1M455.15 249.67h1M463.03 247.46h1M466.33 242.73h1M463.15 246.83h1M478.61 236.82h1M432.51 261.67h1M434.7 261.65h1M454.06 250.02h1M441.99 260.11h1M426.74 266.42h1M429.68 263.24h1M440.81 260.65h1M422.17 268.75h1M482.8 234.6h1M450.14 252.68h1M449.76 254.17h1M470.67 241.38h1M442.24 256.57h1M476.32 238.97h1M425.86 265.63h1M456.59 251.3h1M459.08 248.17h1M435.05 262.37h1M477.72 238.96h1M461.38 246.78h1M452.52 251.18h1M480.88 235.37h1M479.48 235.65h1M453.27 252.2h1M477.81 236.42h1M433.29 262.71h1M424.58 266.36h1M442.65 255.85h1M484.82 234.55h1M415.53 272.75h1M444.23 256.41h1M459.51 250.19h1M435.67 260.71h1M478.7 237.1h1M480.76 234.77h1M459.09 246.75h1M435.35 260.6h1M438.55 258.23h1M422.37 269.66h1M479.06 236.35h1M417.35 271.24h1M466.88 242.35h1M467.25 242.78h1M482.7 233.4h1M433.83 260.99h1M458.88 249.52h1M462.8 244.73h1M459.35 246.66h1M451.26 251.11h1M474.96 238.58h1M427.8 264.66h1M474.69 238.04h1M445.63 254.18h1M481.42 235.53h1M423.63 267.33h1M419.93 269.04h1M472.51 239.87h1M431.7 262.86h1M439.96 261.02h1M440.05 260.25h1M431.06 266.43h1M438.48 262.05h1M466.31 244.61h1M415.65 274.09h1M438.93 260.37h1M462.59 246.11h1M463.64 247.08h1M469.44 242.42h1M442.42 257.7h1M430.95 264.51h1M473.68 239.96h1M422.71 267h1M444.58 257.51h1M471.85 241.09h1M428.99 263.5h1M428.01 264.86h1M453.14 251.66h1M466.87 243.12h1M424.25 266.41h1M479.99 237.28h1M483.17 235.61h1M465.47 243.48h1M467.26 242.65h1M460.64 246.84h1M454.04 249.55h1M474.68 237.96h1M448.9 254.44h1M414.8 272.67h1M470.8 240.34h1M473.95 241.64h1M440.3 257.16h1M476.9 239.14h1M451.05 251.82h1M417.85 270.97h1M439.87 258.29h1M432.44 264.56h1M474.66 240.46h1M456.96 249.63h1M475.35 237.85h1M477.05 237.41h1M416.64 273.55h1M470 244.13h1M445.96 255.34h1M444.3 254.92h1M418.06 271.6h1M469.42 241.33h1M475.79 240.55h1M471.38 240.76h1M446.74 253.65h1M473.11 241.5h1M434.55 260.79h1M430.97 263.83h1M426.33 265.65h1M419.78 269.48h1M446.89 253.57h1M474.1 239.6h1M425.26 267.12h1M428.6 265.19h1M437.43 262.2h1M454.35 249.41h1M437.67 260.8h1M450.06 251.69h1M451.34 252.33h1M466.46 242.51h1M421.79 269.83h1M441.9 259.06h1M473.91 241.61h1M430.53 263.22h1M476.19 237.76h1M454.3 249.44h1M483.22 233.39h1M457.98 250.91h1M470.03 243.17h1M464.08 245.17h1M453.66 250.84h1M427.97 264.79h1M467 242.31h1M439.72 258.21h1M449.57 252h1M464.35 247.19h1M482.07 235.94h1M430.2 263.16h1M446.63 254.33h1M462.18 245.15h1M458.55 248.84h1M450.33 251.74h1M421.06 270.22h1M459.27 249.79h1M477.83 236.2h1M418.7 272.05h1M456.08 249.46h1M424.05 268.52h1M462.19 247.86h1M440.89 258.74h1M481.93 234.34h1M435.08 260.09h1M437.43 259.15h1M426.27 265.07h1M425.44 266.52h1M480.35 237.73h1M430.09 266.84h1M435.81 260.91h1M442.22 256.98h1M455.1 250.56h1M453.68 249.87h1M426.07 266.02h1M479.17 235.55h1M456.5 248.21h1M479.76 237.51h1M447.83 256.34h1M472.65 239.75h1M427.74 267.69h1M473.83 238.44h1M471.54 243.38h1M418.94 270.65h1M431.47 263.57h1M428.27 266.86h1M432.49 264.73h1M419.28 269.01h1M470.97 243.28h1M456.41 248.45h1M419.64 269.63h1M424.98 267.6h1M452 228.31h1M474.2 232.41h1M479.99 234.17h1M439.21 225.66h1M477.83 233.99h1M464.77 230.82h1M450.51 228.06h1M444.31 225.87h1M462.69 229.86h1M464.84 230.99h1M480.91 234.16h1M483.45 235.31h1M440.29 225.75h1M471.75 232.89h1M474.07 233.08h1M466.82 231.33h1M444.31 226.73h1M459.92 229.53h1M470.58 231.66h1M444.11 226.63h1M445.8 226.93h1M441.78 225.8h1M446.54 226.65h1M447.57 226.42h1M444.01 226.25h1M486.13 235.51h1M449.44 227.43h1M446.81 226.85h1M486.14 235.27h1M459.06 229.1h1M440.25 225.91h1M445.72 226.95h1M472.28 232.6h1M475.96 233.5h1M483.19 234.69h1M440.64 225.98h1M481.68 234.28h1M485.11 234.99h1M466.74 231.8h1M456.14 228.85h1M464.09 230.2h1M479.76 234.34h1M442.78 225.46h1M481.27 234.22h1M481.54 234.18h1M460.8 230.08h1M467.54 231.12h1M464.84 230.58h1M477.09 233.58h1M479.52 233.37h1M466.35 230.92h1M447.64 226.56h1M439.56 225.55h1M447.43 227.51h1M470.53 232.1h1M445.09 227.02h1M453.36 227.78h1M472.86 232.19h1M465.1 231.2h1M443.51 226.56h1M455.2 228.47h1M458.24 228.91h1M438.45 224.48h1M470.08 231.63h1M483.12 235.08h1M471.25 231.69h1M443.67 225.69h1M438.25 225.55h1M467.31 231.88h1M442.86 226.33h1M440.69 225.33h1M479.47 234.05h1M474.92 233.49h1M442.04 225.87h1M449.67 227.9h1M467.88 231.73h1M459.5 229.95h1M474.64 233.1h1M454.29 228.65h1M444.27 226.71h1M449.62 227.94h1M475.31 233.35h1M449.81 227.27h1M470.13 231.94h1M480.38 233.95h1M442.08 225.34h1M445.99 226.6h1M446.69 226.55h1M462.03 230.33h1M472.96 232.46h1M464.94 231.1h1M467.23 230.97h1M479.37 233.41h1M445.07 226.43h1M480.97 234.83h1M453.65 228.35h1M480.5 234.1h1M473.92 232.94h1M466.36 231.45h1M461.22 229.64h1M481.07 234.69h1M464.32 230.36h1M471.49 231.83h1M453.99 227.95h1M442.15 225.57h1M466.66 230.88h1M463.92 230.46h1M464.95 231.4h1M444.89 226.23h1M452.14 227.68h1M463.71 230.53h1M443.51 225.91h1M455.63 228h1M448.45 227.11h1M466.65 231.06h1M456.07 228.48h1M455.96 228.42h1M444.49 226.37h1M473.81 233.06h1M470.46 231.63h1M447.86 227.46h1M451.11 228.24h1M475.43 232.83h1M450.55 227.87h1M462.41 230.76h1M444.12 225.88h1M462.23 230.59h1M483.8 235.26h1M444.57 226.44h1M483.56 234.7h1M446.1 226.78h1M440.1 225.41h1M449.47 227.27h1M468.17 231.29h1M474.12 232.4h1M438.56 224.79h1M458.06 229.77h1M451.19 227.62h1M481.34 234.63h1M481.6 234.89h1M469.89 231.4h1M439.27 225.14h1M485.19 235.63h1M452.46 227.67h1M455.04 228.32h1M456.21 228.93h1M445.1 225.82h1M448.34 226.46h1M469.21 231.7h1M469.2 232.03h1M429.46 230.68h1M433.67 228.07h1M432.42 229.16h1M420.95 236.47h1M415.11 240.37h1M429.89 230.09h1M416.92 238.82h1M428.07 230.8h1M426.25 233.14h1M428.14 231.84h1M419.1 237.82h1M428.01 231.64h1M420.1 237.73h1M432.68 228.34h1M431.37 229.75h1M435.49 226.58h1M415.13 241.26h1M421.84 235.79h1M417.89 238.87h1M421.36 236.47h1M434.4 226.59h1M428.3 231.18h1M422.59 235.48h1M424.92 234.05h1M431.71 228.99h1M419.57 238.07h1M429.56 230.49h1M420.32 237.08h1M422.37 235.74h1M414.57 240.49h1M425.06 234h1M417.55 239.07h1M419.48 237.67h1M423.49 234.95h1M432.04 229.68h1M428.82 231.18h1M421.66 236.25h1M432.07 228.28h1M432.16 229.58h1M433.52 227.62h1M425.59 233.01h1M434.15 227.06h1M433.76 227.85h1M433.35 228.37h1M414.74 240.49h1M415.76 239.99h1M426.05 233.25h1M417.47 238.65h1M425.36 234.21h1M423.98 235.01h1M432.61 227.77h1M437.55 225.5h1M417.61 239.33h1M423.83 234.75h1M424.55 234.32h1M423.73 234.13h1M428.62 231.05h1M417.38 239.55h1M425.54 233.14h1M435.73 225.69h1M417.86 238.63h1M422.5 235.59h1M435.88 225.8h1M421.29 236.47h1M435.13 226.48h1M421.03 236.4h1M429.26 231.01h1M422.12 236.07h1M416.38 239.4h1M423.78 234.31h1M437.01 225.07h1M431.79 228.96h1M415.18 240.55h1M425.19 233.27h1M423.93 235.16h1M428.16 231.84h1M433.52 228.17h1M426.26 232.12h1M429.29 230.42h1M421.33 236.21h1M429.99 229.8h1M435.25 226.34h1M428.26 231.61h1M421.97 235.48h1M417.03 238.94h1M419.65 237.58h1M425.27 233.85h1M421.54 236.14h1M421.01 235.78h1M430.83 229.06h1M415.07 254.55h1M415.36 263.86h1M415.28 268.99h1M415.72 270.55h1M415.38 264.8h1M414.72 250.59h1M415.24 273.16h1M415.2 254.3h1M415.86 274.98h1M414.39 249.01h1M415.26 266.46h1M415.11 252.18h1M415.17 253.76h1M414.87 251.57h1M415.5 261.87h1M414.91 268.16h1M415.23 256.09h1M415.31 264.88h1M414.91 245.61h1M415.05 248.87h1M415.34 261.18h1M415.44 257.34h1M414.62 254.26h1M414.1 242.69h1M414.85 258.68h1M414.34 241.76h1M414.62 257.05h1M414.61 254.75h1M415.3 265.64h1M414.73 243.61h1M414.6 248.55h1M415.42 274.01h1M415.49 266.87h1M414.67 244.27h1M415.55 270.59h1M414.8 262.11h1M414.93 242.67h1M415.57 263.33h1M415.05 251.19h1M415.29 256.2h1" stroke="#470707" stroke-width="1" fill="none"/></g><g><polygon points="572.8,229.6 606.5,208.5 606.94,256.2 574.75,281" fill="#f8f8f8"/><polygon points="606.5,208.5 659.75,220.5 659.75,270.25 606.94,256.2" fill="#f4f4f4"/><polygon points="574.75,281 606.94,256.2 659.75,270.25 629,299.5" fill="#f3f3f3"/><path d="M572.8 229.6L606.5 208.5M606.5 208.5L659.75 220.5M573.12 238L606.57 216.29M606.57 216.29L659.75 228.63M573.44 246.39L606.64 224.08M606.64 224.08L659.75 236.75M573.76 254.79L606.72 231.87M606.72 231.87L659.75 244.88M574.07 263.18L606.79 239.66M606.79 239.66L659.75 253M574.39 271.58L606.86 247.46M606.86 247.46L659.75 261.13M574.71 279.97L606.93 255.25M606.93 255.25L659.75 269.25" stroke="#ebebeb" stroke-width="0.45" fill="none"/><path d="M575.39 280.5L573.47 229.18M575.39 280.5L629.62 298.91M579.74 277.16L578.02 226.33M579.74 277.16L633.77 294.97M584.09 273.81L582.57 223.48M584.09 273.81L637.92 291.02M588.43 270.46L587.12 220.63M588.43 270.46L642.07 287.07M592.78 267.11L591.67 217.78M592.78 267.11L646.22 283.12M597.12 263.76L596.22 214.94M597.12 263.76L650.37 279.17M601.47 260.42L600.77 212.09M601.47 260.42L654.52 275.22M605.82 257.07L605.32 209.24M605.82 257.07L658.67 271.27M608 256.48L607.57 208.74M575.84 281.37L608 256.48M616.18 258.66L615.82 210.6M584.24 284.24L616.18 258.66M624.37 260.84L624.07 212.46M592.65 287.11L624.37 260.84M632.55 263.01L632.33 214.32M601.06 289.97L632.55 263.01M640.74 265.19L640.58 216.18M609.47 292.84L640.74 265.19M648.92 267.37L648.83 218.04M617.88 295.71L648.92 267.37M657.11 269.55L657.09 219.9M626.29 298.57L657.11 269.55" stroke="#efefef" stroke-width="0.4" fill="none"/><path d="M606.94 256.2L606.5 208.5M606.94 256.2L574.75 281M606.94 256.2L659.75 270.25" stroke="#ececec" stroke-width="0.5" fill="none"/><path d="M574.75 281L629 299.5M629 299.5L659.75 270.25M659.75 270.25L659.75 220.5" stroke="#909090" stroke-width="0.45" fill="none"/><path d="M575.84 281.37L574.87 282.12M584.24 284.24L583.29 285M592.65 287.11L591.7 287.89M601.06 289.97L600.12 290.78M609.47 292.84L608.53 293.67M617.88 295.71L616.95 296.56M626.29 298.57L625.36 299.45M629.62 298.91L631.24 299.47M633.77 294.97L635.39 295.5M637.92 291.02L639.53 291.53M642.07 287.07L643.68 287.57M646.22 283.12L647.82 283.6M650.37 279.17L651.97 279.63M654.52 275.22L656.11 275.67M658.67 271.27L660.26 271.7M659.75 220.5L661.05 220.75M659.75 228.63L661.05 228.88M659.75 236.75L661.05 237M659.75 244.88L661.05 245.13M659.75 253L661.05 253.25M659.75 261.13L661.05 261.38M659.75 269.25L661.05 269.5" stroke="#888" stroke-width="0.4" fill="none"/><g font-size="2.6" fill="#3a3a3a" stroke="#3a3a3a" stroke-width="0.11" font-family="Liberation Sans, sans-serif"><text x="572.62" y="284.84">0</text><text x="581.05" y="287.76">1</text><text x="589.47" y="290.68">2</text><text x="597.9" y="293.59">3</text><text x="606.32" y="296.51">4</text><text x="614.75" y="299.43">5</text><text x="623.18" y="302.35">6</text><text x="591.66" y="295.31">Xaxis</text><text x="632.84" y="301.61">0</text><text x="636.98" y="297.62">1</text><text x="641.12" y="293.64">2</text><text x="645.26" y="289.65">3</text><text x="649.39" y="285.66">4</text><text x="653.53" y="281.67">5</text><text x="657.67" y="277.68">6</text><text x="661.81" y="273.7">7</text><text x="649.42" y="289.69">Yaxis</text></g><g font-size="2.0" fill="#444" stroke="#444" stroke-width="0.1" font-family="Liberation Sans, sans-serif"><text x="661.45" y="221.7">90</text><text x="661.45" y="229.83">89</text><text x="661.45" y="237.95">88</text><text x="661.45" y="246.08">87</text><text x="661.45" y="254.2">86</text><text x="661.45" y="262.33">85</text><text x="661.45" y="270.45">84</text></g><text transform="translate(666.05 245.38) rotate(-90)" font-size="2.3" fill="#555" stroke="#555" stroke-width="0.08" font-family="Liberation Sans, sans-serif" text-anchor="middle">Precision</text><ellipse cx="602.5" cy="223.3" rx="0.95" ry="1.6" fill="#4c1422"/><ellipse cx="610.4" cy="222.5" rx="0.95" ry="1.6" fill="#a89e9e"/><ellipse cx="622.1" cy="233.5" rx="0.95" ry="1.6" fill="#6c1424"/><ellipse cx="591.9" cy="239.7" rx="0.95" ry="1.6" fill="#3e0814"/><ellipse cx="599.3" cy="247.1" rx="0.95" ry="1.6" fill="#806464"/><ellipse cx="595.5" cy="251" rx="0.95" ry="1.6" fill="#6c323a"/><ellipse cx="615.7" cy="254.4" rx="0.95" ry="1.6" fill="#5c222a"/><ellipse cx="610.3" cy="264.3" rx="0.95" ry="1.6" fill="#3e0814"/><ellipse cx="590.5" cy="268.7" rx="0.95" ry="1.6" fill="#985c5c"/><ellipse cx="627.8" cy="272.8" rx="0.95" ry="1.6" fill="#3e0814"/><rect x="517" y="266.5" width="3" height="43.75" fill="url(#jet)" stroke="#666" stroke-width="0.25" opacity="0.93"/><g font-size="1.9" fill="#555" stroke="#555" stroke-width="0.07" font-family="Liberation Sans, sans-serif"><text x="520.6" y="268.94">88</text><text x="520.6" y="274.41">87</text><text x="520.6" y="279.88">86</text><text x="520.6" y="285.35">85</text><text x="520.6" y="290.82">84</text><text x="520.6" y="296.28">83</text><text x="520.6" y="301.75">82</text><text x="520.6" y="307.22">81</text></g><rect x="678.25" y="262.75" width="2.75" height="41.25" fill="url(#jet)" stroke="#666" stroke-width="0.25" opacity="0.93"/><g font-size="1.9" fill="#555" stroke="#555" stroke-width="0.07" font-family="Liberation Sans, sans-serif"><text x="681.6" y="265.1">88</text><text x="681.6" y="270.25">87</text><text x="681.6" y="275.41">86</text><text x="681.6" y="280.57">85</text><text x="681.6" y="285.72">84</text><text x="681.6" y="290.88">83</text><text x="681.6" y="296.03">82</text><text x="681.6" y="301.19">81</text></g></g></g><g filter="url(#bt)" font-family="Liberation Serif, serif" font-size="12.7" fill="#000" stroke="#000" stroke-width="0.22"><text x="1.5" y="149" textLength="124.5" lengthAdjust="spacingAndGlyphs">ALL2, all solutions with</text><text x="28" y="164.2" textLength="71.5" lengthAdjust="spacingAndGlyphs">Precision≥0.8</text><text x="192.8" y="149" textLength="123.7" lengthAdjust="spacingAndGlyphs">ALL2, best 10 solutions</text><text x="367.3" y="149" textLength="118.7" lengthAdjust="spacingAndGlyphs">CNS, all solutions with</text><text x="392" y="164.2" textLength="71.5" lengthAdjust="spacingAndGlyphs">Precision≥0.8</text><text x="551" y="149" textLength="117.5" lengthAdjust="spacingAndGlyphs">CNS, best 10 solutions</text><text x="1.5" y="335.9" textLength="127" lengthAdjust="spacingAndGlyphs">Adeno, all solutions with</text><text x="29.2" y="350.3" textLength="71.7" lengthAdjust="spacingAndGlyphs">Precision≥0.9</text><text x="193.5" y="335.9" textLength="126.2" lengthAdjust="spacingAndGlyphs">Adeno, best 10 solutions</text><text x="366.6" y="335.9" textLength="135.2" lengthAdjust="spacingAndGlyphs">DLBCL, all solutions with</text><text x="398.2" y="350.3" textLength="71" lengthAdjust="spacingAndGlyphs">Precision≥0.9</text><text x="547.3" y="331.4" textLength="134.4" lengthAdjust="spacingAndGlyphs">DLBCL, best 10 solutions</text></g></svg></body></html>
